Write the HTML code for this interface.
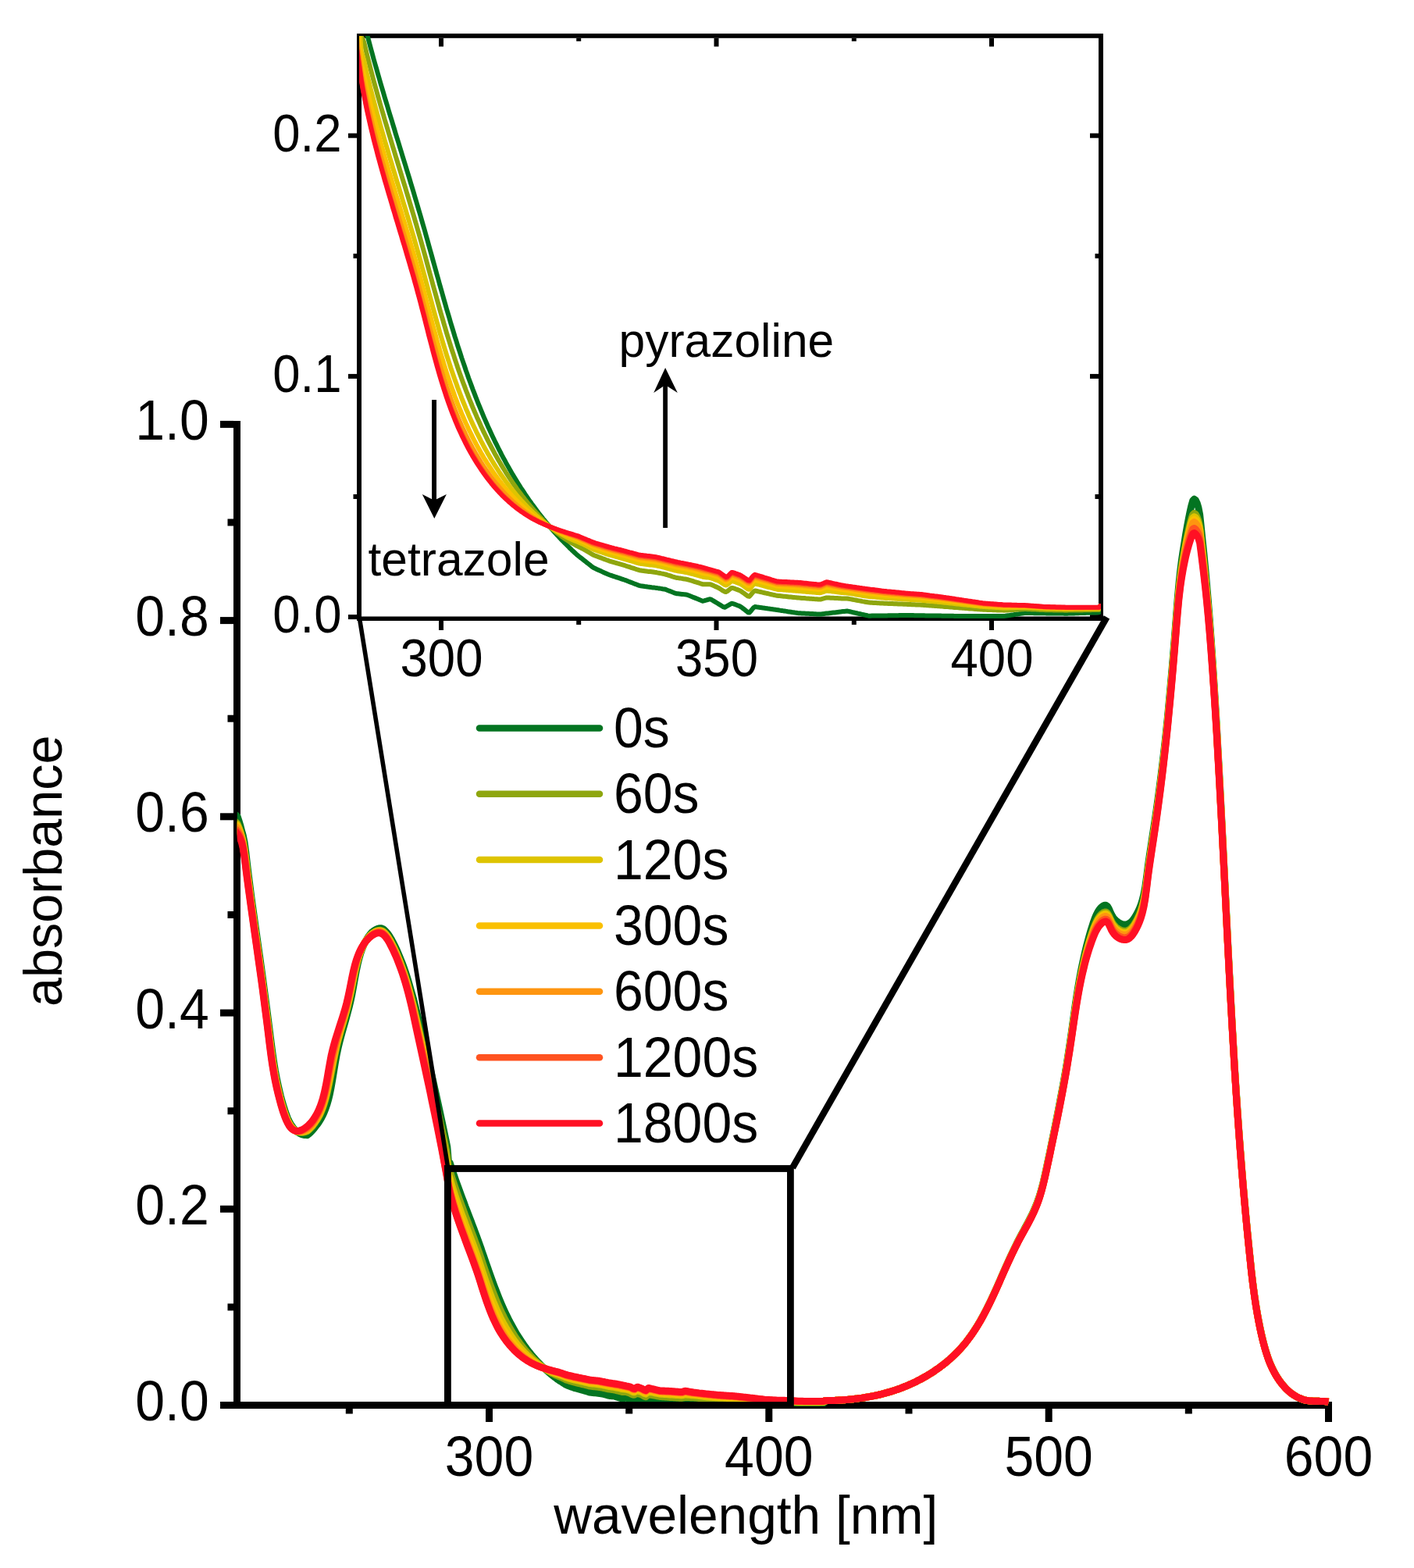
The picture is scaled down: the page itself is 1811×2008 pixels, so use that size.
<!DOCTYPE html><html><head><meta charset="utf-8"><title>absorbance spectra</title>
<style>html,body{margin:0;padding:0;background:#fff;}svg{display:block;}text{font-family:'Liberation Sans',Arial,Helvetica,sans-serif;fill:#000;}</style></head><body>
<svg width="1811" height="2008" viewBox="0 0 1811 2008">
<rect x="0" y="0" width="1811" height="2008" fill="#fff"/>
<defs><clipPath id="ic"><rect x="460" y="46" width="950" height="746"/></clipPath><clipPath id="mc"><rect x="303.8" y="0" width="1399.2" height="1801"/></clipPath></defs>
<g fill="#000"><rect x="299" y="539" width="9" height="1265"/><rect x="282" y="1795" width="1424" height="9"/><rect x="282" y="1795.0" width="17" height="9"/><rect x="282" y="1543.8" width="17" height="9"/><rect x="282" y="1292.6" width="17" height="9"/><rect x="282" y="1041.3" width="17" height="9"/><rect x="282" y="790.1" width="17" height="9"/><rect x="282" y="538.9" width="17" height="9"/><rect x="291.5" y="1669.4" width="8" height="9"/><rect x="291.5" y="1418.2" width="8" height="9"/><rect x="291.5" y="1167.0" width="8" height="9"/><rect x="291.5" y="915.7" width="8" height="9"/><rect x="291.5" y="664.5" width="8" height="9"/><rect x="622.0" y="1804" width="9" height="17"/><rect x="980.3" y="1804" width="9" height="17"/><rect x="1338.7" y="1804" width="9" height="17"/><rect x="1697.0" y="1804" width="9" height="17"/><rect x="442.8" y="1804" width="9" height="6.5"/><rect x="801.2" y="1804" width="9" height="6.5"/><rect x="1159.5" y="1804" width="9" height="6.5"/><rect x="1517.8" y="1804" width="9" height="6.5"/></g>
<g style="font-size:68px"><text transform="translate(267.8,1819.0) scale(1,1.053)" text-anchor="end">0.0</text><text transform="translate(267.8,1567.8) scale(1,1.053)" text-anchor="end">0.2</text><text transform="translate(267.8,1316.6) scale(1,1.053)" text-anchor="end">0.4</text><text transform="translate(267.8,1065.3) scale(1,1.053)" text-anchor="end">0.6</text><text transform="translate(267.8,814.1) scale(1,1.053)" text-anchor="end">0.8</text><text transform="translate(267.8,562.9) scale(1,1.053)" text-anchor="end">1.0</text><text transform="translate(626.5,1889.5) scale(1,1.053)" text-anchor="middle">300</text><text transform="translate(984.8,1889.5) scale(1,1.053)" text-anchor="middle">400</text><text transform="translate(1343.2,1889.5) scale(1,1.053)" text-anchor="middle">500</text><text transform="translate(1701.5,1889.5) scale(1,1.053)" text-anchor="middle">600</text></g>
<text x="955.3" y="1963.5" text-anchor="middle" style="font-size:67.6px">wavelength [nm]</text>
<text transform="translate(78.6,1115.3) rotate(-90) scale(1,1.035)" x="0" y="0" text-anchor="middle" style="font-size:66.5px">absorbance</text>
<g clip-path="url(#mc)"><path d="M300.4,1042.7 L302.2,1043.8 L304.0,1045.2 L305.8,1050.6 L307.6,1056.5 L309.4,1063.3 L311.2,1069.7 L313.0,1078.3 L314.8,1091.4 L316.5,1106.1 L318.3,1120.7 L320.1,1134.9 L321.9,1148.9 L323.7,1161.8 L325.5,1174.7 L327.3,1187.4 L329.1,1200.1 L330.9,1212.8 L332.7,1225.5 L334.5,1238.4 L336.3,1251.3 L338.0,1264.3 L339.8,1277.6 L341.6,1291.2 L343.4,1305.1 L345.2,1319.0 L347.0,1333.3 L348.8,1347.2 L350.6,1359.7 L352.4,1370.8 L354.2,1380.4 L356.0,1389.0 L357.8,1396.8 L359.5,1403.9 L361.3,1410.4 L363.1,1416.5 L364.9,1422.2 L366.7,1427.4 L368.5,1432.1 L370.3,1435.8 L372.1,1439.1 L373.9,1441.9 L375.7,1444.4 L377.5,1446.5 L379.3,1448.3 L381.0,1449.7 L382.8,1450.8 L384.6,1451.8 L386.4,1452.6 L388.2,1453.1 L390.0,1453.5 L391.8,1453.6 L393.6,1453.7 L395.4,1452.3 L397.2,1450.7 L399.0,1448.9 L400.8,1447.0 L402.5,1444.9 L404.3,1442.6 L406.1,1440.3 L407.9,1437.8 L409.7,1435.1 L411.5,1432.0 L413.3,1428.5 L415.1,1424.6 L416.9,1420.1 L418.7,1414.9 L420.5,1408.8 L422.3,1401.5 L424.0,1392.9 L425.8,1382.8 L427.6,1371.7 L429.4,1360.8 L431.2,1350.7 L433.0,1342.3 L434.8,1334.8 L436.6,1327.9 L438.4,1321.4 L440.2,1315.1 L442.0,1308.8 L443.8,1302.4 L445.5,1295.9 L447.3,1289.0 L449.1,1281.5 L450.9,1273.0 L452.7,1263.3 L454.5,1252.9 L456.3,1243.2 L458.1,1234.7 L459.9,1227.4 L461.7,1221.2 L463.5,1216.0 L465.3,1211.5 L467.0,1207.7 L468.8,1204.3 L470.6,1201.3 L472.4,1198.6 L474.2,1196.2 L476.0,1194.1 L477.8,1192.7 L479.6,1191.4 L481.4,1190.4 L483.2,1189.6 L485.0,1189.0 L486.8,1188.7 L488.5,1188.8 L490.3,1189.4 L492.1,1190.7 L493.9,1192.4 L495.7,1194.4 L497.5,1196.8 L499.3,1199.5 L501.1,1202.5 L502.9,1205.8 L504.7,1209.3 L506.5,1213.0 L508.3,1216.8 L510.0,1220.8 L511.8,1225.0 L513.6,1229.4 L515.4,1234.0 L517.2,1238.9 L519.0,1244.0 L520.8,1249.5 L522.6,1255.2 L524.4,1261.2 L526.2,1267.7 L528.0,1273.8 L529.8,1280.3 L531.5,1287.2 L533.3,1294.3 L535.1,1301.6 L536.9,1309.1 L538.7,1316.7 L540.5,1324.3 L542.3,1331.9 L544.1,1339.4 L545.9,1347.0 L547.7,1354.5 L549.5,1362.1 L551.3,1369.6 L553.0,1377.2 L554.8,1384.8 L556.6,1392.9 L558.4,1401.0 L560.2,1409.2 L562.0,1417.4 L563.8,1425.7 L565.6,1434.1 L567.4,1442.6 L569.2,1451.1 L571.0,1459.8 L572.8,1468.6 L574.5,1488.1 L576.3,1489.3 L578.1,1494.9 L579.9,1500.4 L581.7,1505.7 L583.5,1510.9 L585.3,1516.0 L587.1,1520.9 L588.9,1525.8 L590.7,1530.7 L592.5,1535.5 L594.3,1540.2 L596.0,1545.0 L597.8,1549.7 L599.6,1554.3 L601.4,1559.0 L603.2,1563.7 L605.0,1568.5 L606.8,1573.2 L608.6,1578.0 L610.4,1582.8 L612.2,1587.7 L614.0,1592.7 L615.8,1597.7 L617.5,1602.8 L619.3,1608.0 L621.1,1613.2 L622.9,1618.4 L624.7,1623.5 L626.5,1628.7 L628.3,1633.7 L630.1,1638.7 L631.9,1643.7 L633.7,1648.5 L635.5,1653.2 L637.2,1657.7 L639.0,1662.2 L640.8,1666.5 L642.6,1670.7 L644.4,1674.8 L646.2,1678.8 L648.0,1682.6 L649.8,1686.3 L651.6,1689.9 L653.4,1693.4 L655.2,1696.7 L657.0,1700.0 L658.7,1703.1 L660.5,1706.2 L662.3,1709.2 L664.1,1712.0 L665.9,1714.8 L667.7,1717.5 L669.5,1720.1 L671.3,1722.7 L673.1,1725.2 L674.9,1727.6 L676.7,1729.9 L678.5,1732.1 L680.2,1734.3 L682.0,1736.5 L683.8,1738.6 L685.6,1740.6 L687.4,1742.5 L689.2,1744.5 L691.0,1746.3 L692.8,1748.1 L694.6,1749.9 L696.4,1751.6 L698.2,1753.3 L700.0,1754.9 L701.7,1756.5 L703.5,1758.1 L705.3,1759.6 L707.1,1761.0 L708.9,1762.5 L710.7,1763.9 L712.5,1765.2 L714.3,1766.6 L716.1,1767.8 L717.9,1768.9 L719.7,1770.0 L721.5,1771.2 L723.2,1772.3 L725.0,1773.4 L726.8,1774.2 L728.6,1774.9 L730.4,1775.5 L732.2,1776.2 L734.0,1776.8 L735.8,1777.5 L737.6,1777.9 L739.4,1778.4 L741.2,1778.9 L743.0,1779.4 L744.7,1779.9 L746.5,1780.4 L748.3,1780.9 L750.1,1781.5 L751.9,1782.0 L753.7,1782.6 L755.5,1783.1 L757.3,1783.4 L759.1,1783.6 L760.9,1783.7 L762.7,1783.9 L764.5,1784.1 L766.2,1784.3 L768.0,1784.5 L769.8,1784.7 L771.6,1785.0 L773.4,1785.4 L775.2,1786.0 L777.0,1786.5 L778.8,1787.1 L780.6,1787.4 L782.4,1787.5 L784.2,1787.7 L786.0,1787.8 L787.7,1788.3 L789.5,1788.9 L791.3,1789.4 L793.1,1790.0 L794.9,1790.6 L796.7,1791.2 L798.5,1790.8 L800.3,1790.4 L802.1,1790.2 L803.9,1791.1 L805.7,1792.0 L807.5,1792.9 L809.2,1793.8 L811.0,1794.5 L812.8,1793.7 L814.6,1792.9 L816.4,1792.5 L818.2,1793.1 L820.0,1793.6 L821.8,1794.3 L823.6,1795.4 L825.4,1796.5 L827.2,1797.3 L829.0,1795.6 L830.7,1794.2 L832.5,1794.4 L834.3,1794.6 L836.1,1794.8 L837.9,1795.0 L839.7,1795.2 L841.5,1795.4 L843.3,1795.6 L845.1,1795.8 L846.9,1796.0 L848.7,1796.2 L850.5,1796.5 L852.2,1796.7 L854.0,1796.9 L855.8,1797.1 L857.6,1797.3 L859.4,1797.5 L861.2,1797.6 L863.0,1797.7 L864.8,1797.7 L866.6,1797.8 L868.4,1797.9 L870.2,1797.9 L872.0,1798.0 L873.7,1798.0 L875.5,1797.9 L877.3,1797.7 L879.1,1797.5 L880.9,1797.3 L882.7,1797.2 L884.5,1797.0 L886.3,1796.8 L888.1,1796.7 L889.9,1796.5 L891.7,1796.6 L893.5,1796.9 L895.2,1797.2 L897.0,1797.5 L898.8,1797.8 L900.6,1798.2 L902.4,1798.5 L904.2,1798.8 L906.0,1798.9 L907.8,1798.9 L909.6,1798.9 L911.4,1798.9 L913.2,1798.8 L915.0,1798.8 L916.7,1798.8 L918.5,1798.8 L920.3,1798.7 L922.1,1798.7 L923.9,1798.7 L925.7,1798.7 L927.5,1798.7 L929.3,1798.6 L931.1,1798.7 L932.9,1798.7 L934.7,1798.7 L936.5,1798.7 L938.2,1798.8 L940.0,1798.8 L941.8,1798.8 L943.6,1798.8 L945.4,1798.8 L947.2,1798.9 L949.0,1798.9 L950.8,1798.9 L952.6,1798.9 L954.4,1798.9 L956.2,1798.9 L958.0,1799.0 L959.7,1799.0 L961.5,1799.0 L963.3,1799.0 L965.1,1799.0 L966.9,1799.1 L968.7,1799.1 L970.5,1799.1 L972.3,1799.1 L974.1,1799.1 L975.9,1799.1 L977.7,1799.1 L979.5,1799.1 L981.2,1799.1 L983.0,1799.1 L984.8,1799.1 L986.6,1799.1 L988.4,1799.1 L990.2,1799.1 L992.0,1799.1 L993.8,1799.0 L995.6,1798.7 L997.4,1798.5 L999.2,1798.3 L1001.0,1798.1 L1002.7,1797.9 L1004.5,1797.7 L1006.3,1797.4 L1008.1,1797.4 L1009.9,1797.5 L1011.7,1797.5 L1013.5,1797.5 L1015.3,1797.5 L1017.1,1797.5 L1018.9,1797.6 L1020.7,1797.6 L1022.5,1797.6 L1024.2,1797.6 L1026.0,1797.6 L1027.8,1797.6 L1029.6,1797.7 L1031.4,1797.7 L1033.2,1797.7 L1035.0,1797.7 L1036.8,1797.6 L1038.6,1797.6 L1040.4,1797.5 L1042.2,1797.5 L1044.0,1797.4 L1045.7,1797.4 L1047.5,1797.3 L1049.3,1797.3 L1051.1,1797.2 L1052.9,1797.2 L1054.7,1797.1 L1056.5,1793.7 L1058.3,1793.7 L1060.1,1793.6 L1061.9,1793.6 L1063.7,1793.6 L1065.5,1793.5 L1067.2,1793.4 L1069.0,1793.4 L1070.8,1793.3 L1072.6,1793.2 L1074.4,1793.1 L1076.2,1793.0 L1078.0,1792.9 L1079.8,1792.8 L1081.6,1792.7 L1083.4,1792.5 L1085.2,1792.4 L1087.0,1792.2 L1088.7,1792.0 L1090.5,1791.9 L1092.3,1791.7 L1094.1,1791.5 L1095.9,1791.3 L1097.7,1791.1 L1099.5,1790.8 L1101.3,1790.6 L1103.1,1790.4 L1104.9,1790.1 L1106.7,1789.8 L1108.5,1789.5 L1110.2,1789.2 L1112.0,1788.9 L1113.8,1788.6 L1115.6,1788.3 L1117.4,1787.9 L1119.2,1787.6 L1121.0,1787.2 L1122.8,1786.8 L1124.6,1786.4 L1126.4,1786.0 L1128.2,1785.6 L1130.0,1785.1 L1131.7,1784.7 L1133.5,1784.2 L1135.3,1783.7 L1137.1,1783.2 L1138.9,1782.7 L1140.7,1782.1 L1142.5,1781.6 L1144.3,1781.0 L1146.1,1780.4 L1147.9,1779.8 L1149.7,1779.2 L1151.5,1778.5 L1153.2,1777.9 L1155.0,1777.2 L1156.8,1776.5 L1158.6,1775.8 L1160.4,1775.1 L1162.2,1774.3 L1164.0,1773.5 L1165.8,1772.8 L1167.6,1772.0 L1169.4,1771.1 L1171.2,1770.3 L1173.0,1769.4 L1174.7,1768.5 L1176.5,1767.6 L1178.3,1766.7 L1180.1,1765.7 L1181.9,1764.7 L1183.7,1763.7 L1185.5,1762.7 L1187.3,1761.7 L1189.1,1760.6 L1190.9,1759.5 L1192.7,1758.4 L1194.5,1757.2 L1196.2,1756.1 L1198.0,1754.8 L1199.8,1753.6 L1201.6,1752.3 L1203.4,1751.1 L1205.2,1749.7 L1207.0,1748.4 L1208.8,1747.0 L1210.6,1745.5 L1212.4,1744.0 L1214.2,1742.5 L1216.0,1741.0 L1217.7,1739.4 L1219.5,1737.7 L1221.3,1736.0 L1223.1,1734.3 L1224.9,1732.5 L1226.7,1730.7 L1228.5,1728.8 L1230.3,1726.8 L1232.1,1724.8 L1233.9,1722.7 L1235.7,1720.5 L1237.5,1718.3 L1239.2,1716.0 L1241.0,1713.6 L1242.8,1711.1 L1244.6,1708.6 L1246.4,1705.9 L1248.2,1703.2 L1250.0,1700.4 L1251.8,1697.5 L1253.6,1694.5 L1255.4,1691.5 L1257.2,1688.3 L1259.0,1685.0 L1260.7,1681.7 L1262.5,1678.3 L1264.3,1674.7 L1266.1,1671.1 L1267.9,1667.4 L1269.7,1663.7 L1271.5,1659.8 L1273.3,1655.9 L1275.1,1652.0 L1276.9,1648.0 L1278.7,1643.9 L1280.5,1639.9 L1282.2,1635.8 L1284.0,1631.7 L1285.8,1627.6 L1287.6,1623.6 L1289.4,1619.5 L1291.2,1615.5 L1293.0,1611.6 L1294.8,1607.7 L1296.6,1603.8 L1298.4,1600.1 L1300.2,1596.4 L1302.0,1592.8 L1303.7,1589.3 L1305.5,1585.8 L1307.3,1582.5 L1309.1,1579.1 L1310.9,1575.8 L1312.7,1572.5 L1314.5,1569.2 L1316.3,1565.8 L1318.1,1562.4 L1319.9,1558.9 L1321.7,1555.3 L1323.5,1551.5 L1325.2,1547.5 L1327.0,1543.3 L1328.8,1538.6 L1330.6,1533.5 L1332.4,1527.8 L1334.2,1521.5 L1336.0,1514.5 L1337.8,1506.9 L1339.6,1498.7 L1341.4,1490.2 L1343.2,1481.7 L1345.0,1473.2 L1346.7,1464.5 L1348.5,1455.8 L1350.3,1447.1 L1352.1,1438.2 L1353.9,1429.2 L1355.7,1420.0 L1357.5,1410.7 L1359.3,1401.2 L1361.1,1391.5 L1362.9,1381.5 L1364.7,1371.2 L1366.5,1360.5 L1368.2,1349.4 L1370.0,1337.7 L1371.8,1325.5 L1373.6,1312.6 L1375.4,1299.7 L1377.2,1287.0 L1379.0,1274.9 L1380.8,1263.7 L1382.6,1253.3 L1384.4,1243.7 L1386.2,1234.9 L1388.0,1226.7 L1389.7,1219.0 L1391.5,1211.7 L1393.3,1204.8 L1395.1,1198.3 L1396.9,1192.1 L1398.7,1186.2 L1400.5,1180.7 L1402.3,1175.8 L1404.1,1171.5 L1405.9,1167.9 L1407.7,1165.0 L1409.5,1162.8 L1411.2,1161.2 L1413.0,1160.0 L1414.8,1159.3 L1416.6,1159.3 L1418.4,1160.6 L1420.2,1163.6 L1422.0,1167.7 L1423.8,1171.6 L1425.6,1174.6 L1427.4,1177.0 L1429.2,1178.8 L1431.0,1180.3 L1432.7,1181.5 L1434.5,1182.5 L1436.3,1183.2 L1438.1,1183.8 L1439.9,1184.0 L1441.7,1184.0 L1443.5,1183.7 L1445.3,1183.0 L1447.1,1181.9 L1448.9,1180.4 L1450.7,1178.4 L1452.5,1176.1 L1454.2,1173.4 L1456.0,1170.4 L1457.8,1166.9 L1459.6,1162.9 L1461.4,1158.2 L1463.2,1152.4 L1465.0,1145.2 L1466.8,1135.6 L1468.6,1122.6 L1470.4,1108.3 L1472.2,1095.8 L1474.0,1084.2 L1475.7,1072.9 L1477.5,1061.3 L1479.3,1049.4 L1481.1,1037.1 L1482.9,1024.2 L1484.7,1010.9 L1486.5,997.1 L1488.3,982.6 L1490.1,967.6 L1491.9,951.8 L1493.7,935.1 L1495.5,917.6 L1497.2,899.2 L1499.0,879.9 L1500.8,859.6 L1502.6,838.4 L1504.4,816.2 L1506.2,792.8 L1508.0,769.3 L1509.8,748.9 L1511.6,732.0 L1513.4,717.8 L1515.2,705.7 L1517.0,694.6 L1518.7,684.0 L1520.5,673.9 L1522.3,664.4 L1524.1,655.5 L1525.9,647.5 L1527.7,641.3 L1529.5,639.2 L1531.3,640.4 L1533.1,644.1 L1534.9,650.1 L1536.7,659.4 L1538.4,675.7 L1540.2,693.1 L1542.0,710.5 L1543.8,729.0 L1545.6,748.8 L1547.4,769.9 L1549.2,792.4 L1551.0,816.7 L1552.8,842.6 L1554.6,869.8 L1556.4,898.3 L1558.2,927.9 L1559.9,958.9 L1561.7,991.4 L1563.5,1025.3 L1565.3,1060.4 L1567.1,1096.3 L1568.9,1132.8 L1570.7,1169.4 L1572.5,1205.5 L1574.3,1240.8 L1576.1,1274.9 L1577.9,1307.6 L1579.7,1338.8 L1581.4,1368.5 L1583.2,1396.6 L1585.0,1423.3 L1586.8,1448.5 L1588.6,1472.6 L1590.4,1495.4 L1592.2,1517.1 L1594.0,1537.8 L1595.8,1557.6 L1597.6,1576.5 L1599.4,1594.6 L1601.2,1612.0 L1602.9,1628.5 L1604.7,1643.6 L1606.5,1657.2 L1608.3,1669.4 L1610.1,1680.4 L1611.9,1690.3 L1613.7,1699.4 L1615.5,1707.7 L1617.3,1715.4 L1619.1,1722.4 L1620.9,1728.8 L1622.7,1734.5 L1624.4,1739.7 L1626.2,1744.4 L1628.0,1748.7 L1629.8,1752.6 L1631.6,1756.2 L1633.4,1759.5 L1635.2,1762.5 L1637.0,1765.4 L1638.8,1768.0 L1640.6,1770.5 L1642.4,1772.8 L1644.2,1774.9 L1645.9,1776.9 L1647.7,1778.8 L1649.5,1780.5 L1651.3,1782.1 L1653.1,1783.6 L1654.9,1785.0 L1656.7,1786.3 L1658.5,1787.4 L1660.3,1788.5 L1662.1,1789.4 L1663.9,1790.3 L1665.7,1791.0 L1667.4,1791.7 L1669.2,1792.3 L1671.0,1792.8 L1672.8,1793.2 L1674.6,1793.5 L1676.4,1793.8 L1678.2,1794.0 L1680.0,1794.1 L1681.8,1794.2 L1683.6,1794.3 L1685.4,1794.3 L1687.2,1794.3 L1688.9,1794.3 L1690.7,1794.4 L1692.5,1794.4 L1694.3,1794.5 L1696.1,1794.6 L1697.9,1794.7 L1699.7,1795.0 L1701.5,1795.3" fill="none" stroke="#037421" stroke-width="9" stroke-linejoin="round" stroke-linecap="butt"/><path d="M300.4,1051.5 L302.2,1052.9 L304.0,1054.6 L305.8,1058.8 L307.6,1063.7 L309.4,1069.7 L311.2,1076.5 L313.0,1086.6 L314.8,1100.0 L316.5,1114.3 L318.3,1128.3 L320.1,1142.0 L321.9,1155.5 L323.7,1168.4 L325.5,1181.2 L327.3,1194.0 L329.1,1206.7 L330.9,1219.4 L332.7,1232.2 L334.5,1245.0 L336.3,1258.0 L338.0,1271.2 L339.8,1284.6 L341.6,1298.4 L343.4,1312.5 L345.2,1326.8 L347.0,1341.0 L348.8,1354.2 L350.6,1366.1 L352.4,1376.4 L354.2,1385.6 L356.0,1393.8 L357.8,1401.2 L359.5,1408.1 L361.3,1414.4 L363.1,1420.3 L364.9,1425.7 L366.7,1430.6 L368.5,1434.8 L370.3,1438.2 L372.1,1441.2 L373.9,1443.6 L375.7,1445.6 L377.5,1447.1 L379.3,1448.3 L381.0,1449.2 L382.8,1449.7 L384.6,1450.1 L386.4,1450.2 L388.2,1450.2 L390.0,1449.9 L391.8,1449.4 L393.6,1448.8 L395.4,1447.3 L397.2,1445.6 L399.0,1443.8 L400.8,1441.7 L402.5,1439.4 L404.3,1436.8 L406.1,1434.2 L407.9,1431.2 L409.7,1427.8 L411.5,1423.9 L413.3,1419.5 L415.1,1414.3 L416.9,1408.3 L418.7,1401.3 L420.5,1393.3 L422.3,1384.8 L424.0,1375.9 L425.8,1366.8 L427.6,1357.5 L429.4,1348.5 L431.2,1340.2 L433.0,1332.9 L434.8,1326.3 L436.6,1319.9 L438.4,1313.8 L440.2,1307.7 L442.0,1301.5 L443.8,1295.1 L445.5,1288.3 L447.3,1280.8 L449.1,1272.6 L450.9,1263.8 L452.7,1254.7 L454.5,1245.7 L456.3,1237.4 L458.1,1230.4 L459.9,1224.3 L461.7,1219.1 L463.5,1214.7 L465.3,1210.9 L467.0,1207.6 L468.8,1204.7 L470.6,1202.1 L472.4,1199.8 L474.2,1197.8 L476.0,1196.0 L477.8,1194.6 L479.6,1193.5 L481.4,1192.5 L483.2,1191.8 L485.0,1191.4 L486.8,1191.3 L488.5,1191.6 L490.3,1192.4 L492.1,1193.8 L493.9,1195.6 L495.7,1197.8 L497.5,1200.4 L499.3,1203.3 L501.1,1206.5 L502.9,1210.0 L504.7,1213.6 L506.5,1217.4 L508.3,1221.4 L510.0,1225.6 L511.8,1230.0 L513.6,1234.6 L515.4,1239.5 L517.2,1244.6 L519.0,1250.0 L520.8,1255.8 L522.6,1261.9 L524.4,1268.3 L526.2,1275.1 L528.0,1282.0 L529.8,1289.1 L531.5,1296.5 L533.3,1304.1 L535.1,1311.9 L536.9,1319.7 L538.7,1327.6 L540.5,1335.5 L542.3,1343.3 L544.1,1351.2 L545.9,1359.1 L547.7,1366.9 L549.5,1374.8 L551.3,1382.7 L553.0,1390.7 L554.8,1398.7 L556.6,1406.4 L558.4,1414.1 L560.2,1421.8 L562.0,1429.6 L563.8,1437.5 L565.6,1445.5 L567.4,1453.5 L569.2,1461.6 L571.0,1470.5 L572.8,1479.7 L574.5,1496.6 L576.3,1499.6 L578.1,1505.7 L579.9,1511.4 L581.7,1517.0 L583.5,1522.3 L585.3,1527.5 L587.1,1532.5 L588.9,1537.5 L590.7,1542.4 L592.5,1547.2 L594.3,1552.0 L596.0,1556.7 L597.8,1561.4 L599.6,1566.2 L601.4,1570.9 L603.2,1575.6 L605.0,1580.4 L606.8,1585.1 L608.6,1590.0 L610.4,1594.9 L612.2,1599.9 L614.0,1605.0 L615.8,1610.2 L617.5,1615.5 L619.3,1620.7 L621.1,1626.0 L622.9,1631.2 L624.7,1636.4 L626.5,1641.4 L628.3,1646.4 L630.1,1651.2 L631.9,1655.9 L633.7,1660.5 L635.5,1664.9 L637.2,1669.2 L639.0,1673.3 L640.8,1677.3 L642.6,1681.1 L644.4,1684.8 L646.2,1688.4 L648.0,1691.9 L649.8,1695.2 L651.6,1698.4 L653.4,1701.5 L655.2,1704.5 L657.0,1707.4 L658.7,1710.2 L660.5,1712.9 L662.3,1715.5 L664.1,1718.0 L665.9,1720.5 L667.7,1722.8 L669.5,1725.1 L671.3,1727.3 L673.1,1729.5 L674.9,1731.5 L676.7,1733.5 L678.5,1735.5 L680.2,1737.3 L682.0,1739.1 L683.8,1740.9 L685.6,1742.6 L687.4,1744.2 L689.2,1745.8 L691.0,1747.4 L692.8,1748.9 L694.6,1750.4 L696.4,1751.8 L698.2,1753.1 L700.0,1754.3 L701.7,1755.5 L703.5,1756.6 L705.3,1757.7 L707.1,1758.7 L708.9,1759.6 L710.7,1760.5 L712.5,1761.4 L714.3,1762.1 L716.1,1762.9 L717.9,1763.6 L719.7,1764.3 L721.5,1765.2 L723.2,1766.0 L725.0,1766.9 L726.8,1767.5 L728.6,1768.1 L730.4,1768.6 L732.2,1769.2 L734.0,1769.7 L735.8,1770.2 L737.6,1770.6 L739.4,1771.1 L741.2,1771.5 L743.0,1771.9 L744.7,1772.3 L746.5,1772.8 L748.3,1773.2 L750.1,1773.7 L751.9,1774.2 L753.7,1774.6 L755.5,1775.1 L757.3,1775.3 L759.1,1775.5 L760.9,1775.7 L762.7,1775.9 L764.5,1776.0 L766.2,1776.2 L768.0,1776.5 L769.8,1776.8 L771.6,1777.1 L773.4,1777.5 L775.2,1777.9 L777.0,1778.4 L778.8,1778.8 L780.6,1779.1 L782.4,1779.3 L784.2,1779.6 L786.0,1779.8 L787.7,1780.2 L789.5,1780.6 L791.3,1781.0 L793.1,1781.5 L794.9,1781.9 L796.7,1782.4 L798.5,1782.5 L800.3,1782.4 L802.1,1782.5 L803.9,1783.2 L805.7,1783.8 L807.5,1784.5 L809.2,1785.4 L811.0,1786.3 L812.8,1786.0 L814.6,1784.9 L816.4,1784.4 L818.2,1784.9 L820.0,1785.4 L821.8,1786.1 L823.6,1787.1 L825.4,1788.2 L827.2,1788.8 L829.0,1787.1 L830.7,1785.8 L832.5,1786.1 L834.3,1786.4 L836.1,1786.7 L837.9,1787.1 L839.7,1787.4 L841.5,1787.7 L843.3,1788.0 L845.1,1788.4 L846.9,1788.5 L848.7,1788.7 L850.5,1788.8 L852.2,1788.9 L854.0,1789.1 L855.8,1789.2 L857.6,1789.4 L859.4,1789.5 L861.2,1789.6 L863.0,1789.7 L864.8,1789.8 L866.6,1789.9 L868.4,1790.1 L870.2,1790.2 L872.0,1790.3 L873.7,1790.2 L875.5,1789.8 L877.3,1789.5 L879.1,1789.5 L880.9,1789.6 L882.7,1789.6 L884.5,1789.7 L886.3,1789.8 L888.1,1789.8 L889.9,1789.9 L891.7,1790.0 L893.5,1790.3 L895.2,1790.5 L897.0,1790.8 L898.8,1791.1 L900.6,1791.3 L902.4,1791.6 L904.2,1791.8 L906.0,1792.0 L907.8,1792.1 L909.6,1792.1 L911.4,1792.2 L913.2,1792.3 L915.0,1792.4 L916.7,1792.5 L918.5,1792.5 L920.3,1792.6 L922.1,1792.6 L923.9,1792.7 L925.7,1792.8 L927.5,1792.8 L929.3,1792.9 L931.1,1792.9 L932.9,1793.0 L934.7,1793.1 L936.5,1793.1 L938.2,1793.2 L940.0,1793.3 L941.8,1793.4 L943.6,1793.5 L945.4,1793.6 L947.2,1793.7 L949.0,1793.8 L950.8,1793.9 L952.6,1794.0 L954.4,1794.1 L956.2,1794.2 L958.0,1794.3 L959.7,1794.5 L961.5,1794.6 L963.3,1794.7 L965.1,1794.8 L966.9,1794.9 L968.7,1795.0 L970.5,1795.1 L972.3,1795.2 L974.1,1795.3 L975.9,1795.4 L977.7,1795.6 L979.5,1795.7 L981.2,1795.7 L983.0,1795.8 L984.8,1795.8 L986.6,1795.9 L988.4,1795.9 L990.2,1796.0 L992.0,1796.0 L993.8,1796.0 L995.6,1795.9 L997.4,1795.9 L999.2,1795.8 L1001.0,1795.7 L1002.7,1795.6 L1004.5,1795.5 L1006.3,1795.4 L1008.1,1795.5 L1009.9,1795.5 L1011.7,1795.6 L1013.5,1795.6 L1015.3,1795.7 L1017.1,1795.8 L1018.9,1795.8 L1020.7,1795.9 L1022.5,1795.9 L1024.2,1795.9 L1026.0,1796.0 L1027.8,1796.0 L1029.6,1796.0 L1031.4,1796.0 L1033.2,1796.1 L1035.0,1796.1 L1036.8,1796.0 L1038.6,1796.0 L1040.4,1796.0 L1042.2,1796.0 L1044.0,1795.9 L1045.7,1795.9 L1047.5,1795.9 L1049.3,1795.9 L1051.1,1795.8 L1052.9,1795.8 L1054.7,1795.8 L1056.5,1793.7 L1058.3,1793.7 L1060.1,1793.6 L1061.9,1793.6 L1063.7,1793.6 L1065.5,1793.5 L1067.2,1793.4 L1069.0,1793.4 L1070.8,1793.3 L1072.6,1793.2 L1074.4,1793.1 L1076.2,1793.0 L1078.0,1792.9 L1079.8,1792.8 L1081.6,1792.7 L1083.4,1792.5 L1085.2,1792.4 L1087.0,1792.2 L1088.7,1792.0 L1090.5,1791.9 L1092.3,1791.7 L1094.1,1791.5 L1095.9,1791.3 L1097.7,1791.1 L1099.5,1790.8 L1101.3,1790.6 L1103.1,1790.4 L1104.9,1790.1 L1106.7,1789.8 L1108.5,1789.5 L1110.2,1789.2 L1112.0,1788.9 L1113.8,1788.6 L1115.6,1788.3 L1117.4,1787.9 L1119.2,1787.6 L1121.0,1787.2 L1122.8,1786.8 L1124.6,1786.4 L1126.4,1786.0 L1128.2,1785.6 L1130.0,1785.1 L1131.7,1784.7 L1133.5,1784.2 L1135.3,1783.7 L1137.1,1783.2 L1138.9,1782.7 L1140.7,1782.1 L1142.5,1781.6 L1144.3,1781.0 L1146.1,1780.4 L1147.9,1779.8 L1149.7,1779.2 L1151.5,1778.5 L1153.2,1777.9 L1155.0,1777.2 L1156.8,1776.5 L1158.6,1775.8 L1160.4,1775.1 L1162.2,1774.3 L1164.0,1773.5 L1165.8,1772.8 L1167.6,1772.0 L1169.4,1771.1 L1171.2,1770.3 L1173.0,1769.4 L1174.7,1768.5 L1176.5,1767.6 L1178.3,1766.7 L1180.1,1765.7 L1181.9,1764.7 L1183.7,1763.7 L1185.5,1762.7 L1187.3,1761.7 L1189.1,1760.6 L1190.9,1759.5 L1192.7,1758.4 L1194.5,1757.2 L1196.2,1756.1 L1198.0,1754.8 L1199.8,1753.6 L1201.6,1752.3 L1203.4,1751.1 L1205.2,1749.7 L1207.0,1748.4 L1208.8,1747.0 L1210.6,1745.5 L1212.4,1744.1 L1214.2,1742.6 L1216.0,1741.0 L1217.7,1739.4 L1219.5,1737.8 L1221.3,1736.1 L1223.1,1734.4 L1224.9,1732.6 L1226.7,1730.8 L1228.5,1728.9 L1230.3,1726.9 L1232.1,1724.9 L1233.9,1722.8 L1235.7,1720.7 L1237.5,1718.4 L1239.2,1716.1 L1241.0,1713.8 L1242.8,1711.3 L1244.6,1708.8 L1246.4,1706.2 L1248.2,1703.5 L1250.0,1700.7 L1251.8,1697.8 L1253.6,1694.8 L1255.4,1691.8 L1257.2,1688.6 L1259.0,1685.4 L1260.7,1682.0 L1262.5,1678.6 L1264.3,1675.1 L1266.1,1671.5 L1267.9,1667.8 L1269.7,1664.1 L1271.5,1660.3 L1273.3,1656.4 L1275.1,1652.4 L1276.9,1648.4 L1278.7,1644.4 L1280.5,1640.4 L1282.2,1636.3 L1284.0,1632.2 L1285.8,1628.2 L1287.6,1624.1 L1289.4,1620.1 L1291.2,1616.1 L1293.0,1612.2 L1294.8,1608.3 L1296.6,1604.5 L1298.4,1600.7 L1300.2,1597.1 L1302.0,1593.5 L1303.7,1590.0 L1305.5,1586.6 L1307.3,1583.2 L1309.1,1579.9 L1310.9,1576.6 L1312.7,1573.4 L1314.5,1570.1 L1316.3,1566.7 L1318.1,1563.3 L1319.9,1559.9 L1321.7,1556.3 L1323.5,1552.5 L1325.2,1548.6 L1327.0,1544.3 L1328.8,1539.7 L1330.6,1534.6 L1332.4,1529.0 L1334.2,1522.7 L1336.0,1515.8 L1337.8,1508.3 L1339.6,1500.1 L1341.4,1491.8 L1343.2,1483.3 L1345.0,1474.8 L1346.7,1466.3 L1348.5,1457.7 L1350.3,1449.0 L1352.1,1440.2 L1353.9,1431.3 L1355.7,1422.2 L1357.5,1413.0 L1359.3,1403.6 L1361.1,1394.0 L1362.9,1384.2 L1364.7,1374.0 L1366.5,1363.5 L1368.2,1352.5 L1370.0,1341.1 L1371.8,1329.0 L1373.6,1316.4 L1375.4,1303.7 L1377.2,1291.2 L1379.0,1279.4 L1380.8,1268.4 L1382.6,1258.3 L1384.4,1249.0 L1386.2,1240.4 L1388.0,1232.5 L1389.7,1225.0 L1391.5,1218.1 L1393.3,1211.5 L1395.1,1205.3 L1396.9,1199.5 L1398.7,1193.9 L1400.5,1188.7 L1402.3,1184.1 L1404.1,1180.1 L1405.9,1176.7 L1407.7,1173.9 L1409.5,1171.7 L1411.2,1170.1 L1413.0,1168.8 L1414.8,1168.1 L1416.6,1168.0 L1418.4,1169.2 L1420.2,1172.2 L1422.0,1176.2 L1423.8,1180.0 L1425.6,1183.0 L1427.4,1185.3 L1429.2,1187.1 L1431.0,1188.6 L1432.7,1189.8 L1434.5,1190.8 L1436.3,1191.5 L1438.1,1192.0 L1439.9,1192.2 L1441.7,1192.2 L1443.5,1191.8 L1445.3,1191.1 L1447.1,1189.9 L1448.9,1188.3 L1450.7,1186.3 L1452.5,1183.8 L1454.2,1181.0 L1456.0,1177.9 L1457.8,1174.3 L1459.6,1170.2 L1461.4,1165.3 L1463.2,1159.4 L1465.0,1151.9 L1466.8,1142.0 L1468.6,1128.8 L1470.4,1114.3 L1472.2,1101.5 L1474.0,1089.7 L1475.7,1078.3 L1477.5,1066.8 L1479.3,1054.8 L1481.1,1042.4 L1482.9,1029.6 L1484.7,1016.2 L1486.5,1002.3 L1488.3,987.9 L1490.1,972.8 L1491.9,957.0 L1493.7,940.5 L1495.5,923.1 L1497.2,904.9 L1499.0,885.8 L1500.8,865.8 L1502.6,844.8 L1504.4,822.9 L1506.2,799.9 L1508.0,776.9 L1509.8,757.0 L1511.6,740.7 L1513.4,727.2 L1515.2,715.7 L1517.0,705.5 L1518.7,696.0 L1520.5,687.2 L1522.3,678.9 L1524.1,671.3 L1525.9,664.3 L1527.7,659.0 L1529.5,657.4 L1531.3,658.6 L1533.1,661.7 L1534.9,666.6 L1536.7,674.6 L1538.4,689.5 L1540.2,705.7 L1542.0,722.0 L1543.8,739.4 L1545.6,758.1 L1547.4,778.3 L1549.2,800.0 L1551.0,823.6 L1552.8,848.8 L1554.6,875.4 L1556.4,903.3 L1558.2,932.5 L1559.9,963.2 L1561.7,995.4 L1563.5,1028.9 L1565.3,1063.7 L1567.1,1099.4 L1568.9,1135.6 L1570.7,1172.0 L1572.5,1207.9 L1574.3,1243.0 L1576.1,1277.0 L1577.9,1309.6 L1579.7,1340.7 L1581.4,1370.2 L1583.2,1398.2 L1585.0,1424.8 L1586.8,1450.0 L1588.6,1473.9 L1590.4,1496.7 L1592.2,1518.3 L1594.0,1538.9 L1595.8,1558.6 L1597.6,1577.5 L1599.4,1595.6 L1601.2,1612.9 L1602.9,1629.4 L1604.7,1644.4 L1606.5,1657.9 L1608.3,1670.1 L1610.1,1681.0 L1611.9,1690.9 L1613.7,1700.0 L1615.5,1708.3 L1617.3,1715.9 L1619.1,1722.9 L1620.9,1729.2 L1622.7,1734.9 L1624.4,1740.1 L1626.2,1744.8 L1628.0,1749.0 L1629.8,1752.9 L1631.6,1756.5 L1633.4,1759.7 L1635.2,1762.8 L1637.0,1765.6 L1638.8,1768.2 L1640.6,1770.6 L1642.4,1772.9 L1644.2,1775.0 L1645.9,1777.0 L1647.7,1778.9 L1649.5,1780.6 L1651.3,1782.2 L1653.1,1783.7 L1654.9,1785.0 L1656.7,1786.3 L1658.5,1787.4 L1660.3,1788.5 L1662.1,1789.4 L1663.9,1790.3 L1665.7,1791.0 L1667.4,1791.7 L1669.2,1792.3 L1671.0,1792.8 L1672.8,1793.2 L1674.6,1793.5 L1676.4,1793.8 L1678.2,1794.0 L1680.0,1794.1 L1681.8,1794.2 L1683.6,1794.3 L1685.4,1794.3 L1687.2,1794.3 L1688.9,1794.3 L1690.7,1794.4 L1692.5,1794.4 L1694.3,1794.5 L1696.1,1794.6 L1697.9,1794.7 L1699.7,1795.0 L1701.5,1795.3" fill="none" stroke="#8ea60e" stroke-width="9" stroke-linejoin="round" stroke-linecap="butt"/><path d="M300.4,1053.6 L302.2,1055.0 L304.0,1056.8 L305.8,1060.8 L307.6,1065.5 L309.4,1071.2 L311.2,1078.2 L313.0,1088.6 L314.8,1102.1 L316.5,1116.2 L318.3,1130.1 L320.1,1143.7 L321.9,1157.1 L323.7,1170.0 L325.5,1182.8 L327.3,1195.5 L329.1,1208.2 L330.9,1221.0 L332.7,1233.7 L334.5,1246.6 L336.3,1259.6 L338.0,1272.8 L339.8,1286.3 L341.6,1300.1 L343.4,1314.3 L345.2,1328.6 L347.0,1342.8 L348.8,1355.9 L350.6,1367.6 L352.4,1377.8 L354.2,1386.8 L356.0,1394.9 L357.8,1402.3 L359.5,1409.1 L361.3,1415.4 L363.1,1421.2 L364.9,1426.6 L366.7,1431.3 L368.5,1435.5 L370.3,1438.8 L372.1,1441.7 L373.9,1444.0 L375.7,1445.9 L377.5,1447.3 L379.3,1448.3 L381.0,1449.1 L382.8,1449.5 L384.6,1449.7 L386.4,1449.7 L388.2,1449.4 L390.0,1449.0 L391.8,1448.4 L393.6,1447.7 L395.4,1446.2 L397.2,1444.4 L399.0,1442.5 L400.8,1440.4 L402.5,1438.1 L404.3,1435.5 L406.1,1432.7 L407.9,1429.6 L409.7,1426.1 L411.5,1422.0 L413.3,1417.3 L415.1,1411.9 L416.9,1405.5 L418.7,1398.0 L420.5,1389.7 L422.3,1380.8 L424.0,1371.9 L425.8,1363.0 L427.6,1354.1 L429.4,1345.6 L431.2,1337.7 L433.0,1330.7 L434.8,1324.2 L436.6,1318.0 L438.4,1312.0 L440.2,1305.9 L442.0,1299.8 L443.8,1293.3 L445.5,1286.4 L447.3,1278.8 L449.1,1270.5 L450.9,1261.7 L452.7,1252.6 L454.5,1243.9 L456.3,1236.1 L458.1,1229.3 L459.9,1223.5 L461.7,1218.6 L463.5,1214.4 L465.3,1210.7 L467.0,1207.6 L468.8,1204.8 L470.6,1202.3 L472.4,1200.1 L474.2,1198.2 L476.0,1196.4 L477.8,1195.1 L479.6,1194.0 L481.4,1193.0 L483.2,1192.4 L485.0,1192.0 L486.8,1191.9 L488.5,1192.3 L490.3,1193.1 L492.1,1194.5 L493.9,1196.4 L495.7,1198.6 L497.5,1201.3 L499.3,1204.2 L501.1,1207.5 L502.9,1211.0 L504.7,1214.6 L506.5,1218.5 L508.3,1222.5 L510.0,1226.7 L511.8,1231.2 L513.6,1235.8 L515.4,1240.7 L517.2,1245.9 L519.0,1251.4 L520.8,1257.3 L522.6,1263.5 L524.4,1270.0 L526.2,1276.9 L528.0,1283.9 L529.8,1291.2 L531.5,1298.7 L533.3,1306.5 L535.1,1314.3 L536.9,1322.2 L538.7,1330.2 L540.5,1338.1 L542.3,1346.1 L544.1,1354.0 L545.9,1361.9 L547.7,1369.9 L549.5,1377.9 L551.3,1385.9 L553.0,1393.9 L554.8,1402.0 L556.6,1410.3 L558.4,1418.8 L560.2,1427.3 L562.0,1435.8 L563.8,1444.5 L565.6,1453.3 L567.4,1462.2 L569.2,1471.3 L571.0,1480.5 L572.8,1489.9 L574.5,1504.4 L576.3,1509.2 L578.1,1515.6 L579.9,1521.7 L581.7,1527.4 L583.5,1532.8 L585.3,1538.1 L587.1,1543.2 L588.9,1548.3 L590.7,1553.2 L592.5,1558.0 L594.3,1562.8 L596.0,1567.6 L597.8,1572.3 L599.6,1577.1 L601.4,1581.8 L603.2,1586.6 L605.0,1591.4 L606.8,1596.2 L608.6,1601.1 L610.4,1606.1 L612.2,1611.2 L614.0,1616.4 L615.8,1621.8 L617.5,1627.2 L619.3,1632.5 L621.1,1637.9 L622.9,1643.1 L624.7,1648.3 L626.5,1653.3 L628.3,1658.1 L630.1,1662.8 L631.9,1667.3 L633.7,1671.6 L635.5,1675.7 L637.2,1679.7 L639.0,1683.5 L640.8,1687.2 L642.6,1690.7 L644.4,1694.1 L646.2,1697.3 L648.0,1700.4 L649.8,1703.4 L651.6,1706.3 L653.4,1709.1 L655.2,1711.7 L657.0,1714.3 L658.7,1716.8 L660.5,1719.1 L662.3,1721.4 L664.1,1723.6 L665.9,1725.7 L667.7,1727.8 L669.5,1729.7 L671.3,1731.6 L673.1,1733.4 L674.9,1735.2 L676.7,1736.9 L678.5,1738.5 L680.2,1740.1 L682.0,1741.6 L683.8,1743.0 L685.6,1744.4 L687.4,1745.8 L689.2,1747.1 L691.0,1748.4 L692.8,1749.6 L694.6,1750.8 L696.4,1751.9 L698.2,1752.9 L700.0,1753.9 L701.7,1754.8 L703.5,1755.7 L705.3,1756.5 L707.1,1757.3 L708.9,1758.0 L710.7,1758.7 L712.5,1759.4 L714.3,1760.0 L716.1,1760.5 L717.9,1761.2 L719.7,1761.8 L721.5,1762.5 L723.2,1763.3 L725.0,1764.0 L726.8,1764.6 L728.6,1765.1 L730.4,1765.6 L732.2,1766.1 L734.0,1766.6 L735.8,1767.0 L737.6,1767.4 L739.4,1767.8 L741.2,1768.2 L743.0,1768.6 L744.7,1769.0 L746.5,1769.4 L748.3,1769.8 L750.1,1770.3 L751.9,1770.7 L753.7,1771.1 L755.5,1771.6 L757.3,1771.8 L759.1,1772.0 L760.9,1772.1 L762.7,1772.3 L764.5,1772.5 L766.2,1772.7 L768.0,1773.0 L769.8,1773.3 L771.6,1773.6 L773.4,1774.0 L775.2,1774.4 L777.0,1774.8 L778.8,1775.2 L780.6,1775.5 L782.4,1775.7 L784.2,1776.0 L786.0,1776.2 L787.7,1776.6 L789.5,1777.0 L791.3,1777.3 L793.1,1777.7 L794.9,1778.1 L796.7,1778.6 L798.5,1778.8 L800.3,1778.9 L802.1,1779.2 L803.9,1779.7 L805.7,1780.2 L807.5,1780.8 L809.2,1781.8 L811.0,1782.7 L812.8,1782.7 L814.6,1781.4 L816.4,1780.8 L818.2,1781.3 L820.0,1781.8 L821.8,1782.5 L823.6,1783.5 L825.4,1784.5 L827.2,1785.1 L829.0,1783.4 L830.7,1782.1 L832.5,1782.5 L834.3,1782.8 L836.1,1783.2 L837.9,1783.6 L839.7,1784.0 L841.5,1784.3 L843.3,1784.7 L845.1,1785.1 L846.9,1785.2 L848.7,1785.3 L850.5,1785.4 L852.2,1785.5 L854.0,1785.6 L855.8,1785.8 L857.6,1785.9 L859.4,1786.0 L861.2,1786.1 L863.0,1786.2 L864.8,1786.4 L866.6,1786.5 L868.4,1786.6 L870.2,1786.7 L872.0,1786.9 L873.7,1786.8 L875.5,1786.3 L877.3,1785.8 L879.1,1786.0 L880.9,1786.2 L882.7,1786.3 L884.5,1786.5 L886.3,1786.7 L888.1,1786.8 L889.9,1786.9 L891.7,1787.1 L893.5,1787.4 L895.2,1787.6 L897.0,1787.8 L898.8,1788.1 L900.6,1788.3 L902.4,1788.6 L904.2,1788.8 L906.0,1788.9 L907.8,1789.1 L909.6,1789.2 L911.4,1789.3 L913.2,1789.4 L915.0,1789.6 L916.7,1789.7 L918.5,1789.8 L920.3,1789.9 L922.1,1790.0 L923.9,1790.0 L925.7,1790.1 L927.5,1790.2 L929.3,1790.3 L931.1,1790.4 L932.9,1790.5 L934.7,1790.6 L936.5,1790.7 L938.2,1790.7 L940.0,1790.9 L941.8,1791.0 L943.6,1791.1 L945.4,1791.3 L947.2,1791.4 L949.0,1791.5 L950.8,1791.7 L952.6,1791.8 L954.4,1792.0 L956.2,1792.1 L958.0,1792.3 L959.7,1792.5 L961.5,1792.6 L963.3,1792.8 L965.1,1792.9 L966.9,1793.1 L968.7,1793.2 L970.5,1793.4 L972.3,1793.6 L974.1,1793.7 L975.9,1793.9 L977.7,1794.0 L979.5,1794.2 L981.2,1794.3 L983.0,1794.3 L984.8,1794.4 L986.6,1794.5 L988.4,1794.6 L990.2,1794.6 L992.0,1794.7 L993.8,1794.8 L995.6,1794.7 L997.4,1794.7 L999.2,1794.7 L1001.0,1794.6 L1002.7,1794.6 L1004.5,1794.6 L1006.3,1794.5 L1008.1,1794.6 L1009.9,1794.7 L1011.7,1794.8 L1013.5,1794.8 L1015.3,1794.9 L1017.1,1795.0 L1018.9,1795.1 L1020.7,1795.1 L1022.5,1795.2 L1024.2,1795.2 L1026.0,1795.2 L1027.8,1795.3 L1029.6,1795.3 L1031.4,1795.3 L1033.2,1795.4 L1035.0,1795.3 L1036.8,1795.3 L1038.6,1795.3 L1040.4,1795.3 L1042.2,1795.3 L1044.0,1795.3 L1045.7,1795.3 L1047.5,1795.3 L1049.3,1795.2 L1051.1,1795.2 L1052.9,1795.2 L1054.7,1795.2 L1056.5,1793.7 L1058.3,1793.7 L1060.1,1793.6 L1061.9,1793.6 L1063.7,1793.6 L1065.5,1793.5 L1067.2,1793.4 L1069.0,1793.4 L1070.8,1793.3 L1072.6,1793.2 L1074.4,1793.1 L1076.2,1793.0 L1078.0,1792.9 L1079.8,1792.8 L1081.6,1792.7 L1083.4,1792.5 L1085.2,1792.4 L1087.0,1792.2 L1088.7,1792.0 L1090.5,1791.9 L1092.3,1791.7 L1094.1,1791.5 L1095.9,1791.3 L1097.7,1791.1 L1099.5,1790.8 L1101.3,1790.6 L1103.1,1790.4 L1104.9,1790.1 L1106.7,1789.8 L1108.5,1789.5 L1110.2,1789.2 L1112.0,1788.9 L1113.8,1788.6 L1115.6,1788.3 L1117.4,1787.9 L1119.2,1787.6 L1121.0,1787.2 L1122.8,1786.8 L1124.6,1786.4 L1126.4,1786.0 L1128.2,1785.6 L1130.0,1785.1 L1131.7,1784.7 L1133.5,1784.2 L1135.3,1783.7 L1137.1,1783.2 L1138.9,1782.7 L1140.7,1782.1 L1142.5,1781.6 L1144.3,1781.0 L1146.1,1780.4 L1147.9,1779.8 L1149.7,1779.2 L1151.5,1778.5 L1153.2,1777.9 L1155.0,1777.2 L1156.8,1776.5 L1158.6,1775.8 L1160.4,1775.1 L1162.2,1774.3 L1164.0,1773.5 L1165.8,1772.8 L1167.6,1772.0 L1169.4,1771.1 L1171.2,1770.3 L1173.0,1769.4 L1174.7,1768.5 L1176.5,1767.6 L1178.3,1766.7 L1180.1,1765.7 L1181.9,1764.7 L1183.7,1763.7 L1185.5,1762.7 L1187.3,1761.7 L1189.1,1760.6 L1190.9,1759.5 L1192.7,1758.4 L1194.5,1757.2 L1196.2,1756.1 L1198.0,1754.8 L1199.8,1753.6 L1201.6,1752.3 L1203.4,1751.1 L1205.2,1749.7 L1207.0,1748.4 L1208.8,1747.0 L1210.6,1745.5 L1212.4,1744.1 L1214.2,1742.6 L1216.0,1741.0 L1217.7,1739.4 L1219.5,1737.8 L1221.3,1736.1 L1223.1,1734.4 L1224.9,1732.6 L1226.7,1730.8 L1228.5,1728.9 L1230.3,1726.9 L1232.1,1724.9 L1233.9,1722.9 L1235.7,1720.7 L1237.5,1718.5 L1239.2,1716.2 L1241.0,1713.8 L1242.8,1711.4 L1244.6,1708.8 L1246.4,1706.2 L1248.2,1703.5 L1250.0,1700.7 L1251.8,1697.9 L1253.6,1694.9 L1255.4,1691.8 L1257.2,1688.7 L1259.0,1685.4 L1260.7,1682.1 L1262.5,1678.7 L1264.3,1675.2 L1266.1,1671.6 L1267.9,1667.9 L1269.7,1664.2 L1271.5,1660.4 L1273.3,1656.5 L1275.1,1652.5 L1276.9,1648.6 L1278.7,1644.5 L1280.5,1640.5 L1282.2,1636.4 L1284.0,1632.4 L1285.8,1628.3 L1287.6,1624.2 L1289.4,1620.2 L1291.2,1616.2 L1293.0,1612.3 L1294.8,1608.4 L1296.6,1604.6 L1298.4,1600.9 L1300.2,1597.2 L1302.0,1593.7 L1303.7,1590.2 L1305.5,1586.8 L1307.3,1583.4 L1309.1,1580.1 L1310.9,1576.8 L1312.7,1573.6 L1314.5,1570.3 L1316.3,1566.9 L1318.1,1563.6 L1319.9,1560.1 L1321.7,1556.5 L1323.5,1552.8 L1325.2,1548.8 L1327.0,1544.6 L1328.8,1540.0 L1330.6,1534.9 L1332.4,1529.3 L1334.2,1523.0 L1336.0,1516.1 L1337.8,1508.6 L1339.6,1500.5 L1341.4,1492.1 L1343.2,1483.7 L1345.0,1475.2 L1346.7,1466.7 L1348.5,1458.1 L1350.3,1449.4 L1352.1,1440.6 L1353.9,1431.8 L1355.7,1422.7 L1357.5,1413.5 L1359.3,1404.2 L1361.1,1394.6 L1362.9,1384.8 L1364.7,1374.6 L1366.5,1364.2 L1368.2,1353.3 L1370.0,1341.9 L1371.8,1329.8 L1373.6,1317.3 L1375.4,1304.6 L1377.2,1292.3 L1379.0,1280.5 L1380.8,1269.6 L1382.6,1259.5 L1384.4,1250.2 L1386.2,1241.7 L1388.0,1233.8 L1389.7,1226.5 L1391.5,1219.6 L1393.3,1213.1 L1395.1,1207.0 L1396.9,1201.2 L1398.7,1195.8 L1400.5,1190.7 L1402.3,1186.1 L1404.1,1182.1 L1405.9,1178.8 L1407.7,1176.0 L1409.5,1173.8 L1411.2,1172.2 L1413.0,1170.9 L1414.8,1170.2 L1416.6,1170.1 L1418.4,1171.3 L1420.2,1174.3 L1422.0,1178.2 L1423.8,1182.0 L1425.6,1185.0 L1427.4,1187.3 L1429.2,1189.1 L1431.0,1190.6 L1432.7,1191.8 L1434.5,1192.7 L1436.3,1193.5 L1438.1,1194.0 L1439.9,1194.2 L1441.7,1194.2 L1443.5,1193.8 L1445.3,1193.0 L1447.1,1191.8 L1448.9,1190.2 L1450.7,1188.2 L1452.5,1185.7 L1454.2,1182.9 L1456.0,1179.7 L1457.8,1176.1 L1459.6,1171.9 L1461.4,1167.0 L1463.2,1161.0 L1465.0,1153.5 L1466.8,1143.6 L1468.6,1130.3 L1470.4,1115.7 L1472.2,1102.8 L1474.0,1091.1 L1475.7,1079.6 L1477.5,1068.0 L1479.3,1056.1 L1481.1,1043.7 L1482.9,1030.8 L1484.7,1017.5 L1486.5,1003.6 L1488.3,989.1 L1490.1,974.1 L1491.9,958.3 L1493.7,941.8 L1495.5,924.5 L1497.2,906.3 L1499.0,887.2 L1500.8,867.3 L1502.6,846.4 L1504.4,824.5 L1506.2,801.6 L1508.0,778.7 L1509.8,758.9 L1511.6,742.8 L1513.4,729.5 L1515.2,718.1 L1517.0,708.1 L1518.7,698.9 L1520.5,690.3 L1522.3,682.4 L1524.1,675.0 L1525.9,668.3 L1527.7,663.2 L1529.5,661.8 L1531.3,662.9 L1533.1,665.9 L1534.9,670.6 L1536.7,678.2 L1538.4,692.8 L1540.2,708.7 L1542.0,724.7 L1543.8,741.9 L1545.6,760.4 L1547.4,780.3 L1549.2,801.8 L1551.0,825.2 L1552.8,850.3 L1554.6,876.7 L1556.4,904.5 L1558.2,933.6 L1559.9,964.2 L1561.7,996.3 L1563.5,1029.8 L1565.3,1064.5 L1567.1,1100.1 L1568.9,1136.3 L1570.7,1172.6 L1572.5,1208.5 L1574.3,1243.6 L1576.1,1277.5 L1577.9,1310.1 L1579.7,1341.1 L1581.4,1370.6 L1583.2,1398.6 L1585.0,1425.2 L1586.8,1450.4 L1588.6,1474.3 L1590.4,1497.0 L1592.2,1518.6 L1594.0,1539.2 L1595.8,1558.9 L1597.6,1577.7 L1599.4,1595.8 L1601.2,1613.1 L1602.9,1629.6 L1604.7,1644.6 L1606.5,1658.1 L1608.3,1670.3 L1610.1,1681.2 L1611.9,1691.1 L1613.7,1700.1 L1615.5,1708.4 L1617.3,1716.1 L1619.1,1723.0 L1620.9,1729.4 L1622.7,1735.0 L1624.4,1740.2 L1626.2,1744.8 L1628.0,1749.1 L1629.8,1753.0 L1631.6,1756.5 L1633.4,1759.8 L1635.2,1762.8 L1637.0,1765.6 L1638.8,1768.2 L1640.6,1770.7 L1642.4,1772.9 L1644.2,1775.1 L1645.9,1777.0 L1647.7,1778.9 L1649.5,1780.6 L1651.3,1782.2 L1653.1,1783.7 L1654.9,1785.0 L1656.7,1786.3 L1658.5,1787.4 L1660.3,1788.5 L1662.1,1789.4 L1663.9,1790.3 L1665.7,1791.0 L1667.4,1791.7 L1669.2,1792.3 L1671.0,1792.8 L1672.8,1793.2 L1674.6,1793.5 L1676.4,1793.8 L1678.2,1794.0 L1680.0,1794.1 L1681.8,1794.2 L1683.6,1794.3 L1685.4,1794.3 L1687.2,1794.3 L1688.9,1794.3 L1690.7,1794.4 L1692.5,1794.4 L1694.3,1794.5 L1696.1,1794.6 L1697.9,1794.7 L1699.7,1795.0 L1701.5,1795.3" fill="none" stroke="#dec400" stroke-width="9" stroke-linejoin="round" stroke-linecap="butt"/><path d="M300.4,1055.2 L302.2,1056.7 L304.0,1058.6 L305.8,1062.4 L307.6,1066.8 L309.4,1072.5 L311.2,1079.5 L313.0,1090.1 L314.8,1103.7 L316.5,1117.7 L318.3,1131.5 L320.1,1145.1 L321.9,1158.4 L323.7,1171.3 L325.5,1184.0 L327.3,1196.8 L329.1,1209.5 L330.9,1222.2 L332.7,1235.0 L334.5,1247.9 L336.3,1260.9 L338.0,1274.1 L339.8,1287.6 L341.6,1301.4 L343.4,1315.7 L345.2,1330.1 L347.0,1344.2 L348.8,1357.2 L350.6,1368.8 L352.4,1378.9 L354.2,1387.8 L356.0,1395.9 L357.8,1403.2 L359.5,1409.9 L361.3,1416.1 L363.1,1421.9 L364.9,1427.2 L366.7,1431.9 L368.5,1436.0 L370.3,1439.3 L372.1,1442.1 L373.9,1444.3 L375.7,1446.1 L377.5,1447.4 L379.3,1448.4 L381.0,1449.0 L382.8,1449.3 L384.6,1449.4 L386.4,1449.2 L388.2,1448.9 L390.0,1448.4 L391.8,1447.6 L393.6,1446.8 L395.4,1445.2 L397.2,1443.5 L399.0,1441.6 L400.8,1439.4 L402.5,1437.0 L404.3,1434.4 L406.1,1431.5 L407.9,1428.3 L409.7,1424.7 L411.5,1420.5 L413.3,1415.6 L415.1,1409.9 L416.9,1403.2 L418.7,1395.4 L420.5,1386.7 L422.3,1377.6 L424.0,1368.7 L425.8,1360.0 L427.6,1351.4 L429.4,1343.3 L431.2,1335.7 L433.0,1328.9 L434.8,1322.6 L436.6,1316.5 L438.4,1310.5 L440.2,1304.5 L442.0,1298.4 L443.8,1291.9 L445.5,1285.0 L447.3,1277.2 L449.1,1268.8 L450.9,1259.9 L452.7,1251.0 L454.5,1242.5 L456.3,1235.0 L458.1,1228.5 L459.9,1222.9 L461.7,1218.2 L463.5,1214.1 L465.3,1210.6 L467.0,1207.6 L468.8,1204.9 L470.6,1202.5 L472.4,1200.3 L474.2,1198.4 L476.0,1196.8 L477.8,1195.5 L479.6,1194.4 L481.4,1193.5 L483.2,1192.8 L485.0,1192.4 L486.8,1192.4 L488.5,1192.8 L490.3,1193.7 L492.1,1195.1 L493.9,1197.0 L495.7,1199.3 L497.5,1201.9 L499.3,1205.0 L501.1,1208.3 L502.9,1211.8 L504.7,1215.4 L506.5,1219.3 L508.3,1223.4 L510.0,1227.6 L511.8,1232.1 L513.6,1236.8 L515.4,1241.8 L517.2,1247.0 L519.0,1252.6 L520.8,1258.5 L522.6,1264.7 L524.4,1271.3 L526.2,1278.3 L528.0,1285.4 L529.8,1292.9 L531.5,1300.5 L533.3,1308.4 L535.1,1316.3 L536.9,1324.3 L538.7,1332.3 L540.5,1340.2 L542.3,1348.2 L544.1,1356.2 L545.9,1364.2 L547.7,1372.2 L549.5,1380.3 L551.3,1388.4 L553.0,1396.5 L554.8,1404.6 L556.6,1413.5 L558.4,1422.5 L560.2,1431.6 L562.0,1440.8 L563.8,1450.1 L565.6,1459.6 L567.4,1469.2 L569.2,1479.0 L571.0,1488.4 L572.8,1498.0 L574.5,1510.7 L576.3,1516.9 L578.1,1523.6 L579.9,1529.8 L581.7,1535.7 L583.5,1541.3 L585.3,1546.6 L587.1,1551.8 L588.9,1556.9 L590.7,1561.8 L592.5,1566.7 L594.3,1571.5 L596.0,1576.3 L597.8,1581.1 L599.6,1585.8 L601.4,1590.6 L603.2,1595.4 L605.0,1600.2 L606.8,1605.0 L608.6,1610.0 L610.4,1615.1 L612.2,1620.3 L614.0,1625.6 L615.8,1631.0 L617.5,1636.5 L619.3,1642.0 L621.1,1647.4 L622.9,1652.7 L624.7,1657.8 L626.5,1662.7 L628.3,1667.5 L630.1,1672.0 L631.9,1676.3 L633.7,1680.5 L635.5,1684.4 L637.2,1688.2 L639.0,1691.7 L640.8,1695.1 L642.6,1698.4 L644.4,1701.5 L646.2,1704.5 L648.0,1707.3 L649.8,1710.0 L651.6,1712.6 L653.4,1715.1 L655.2,1717.5 L657.0,1719.8 L658.7,1722.0 L660.5,1724.1 L662.3,1726.1 L664.1,1728.1 L665.9,1729.9 L667.7,1731.7 L669.5,1733.4 L671.3,1735.1 L673.1,1736.6 L674.9,1738.1 L676.7,1739.6 L678.5,1741.0 L680.2,1742.3 L682.0,1743.6 L683.8,1744.8 L685.6,1745.9 L687.4,1747.1 L689.2,1748.1 L691.0,1749.1 L692.8,1750.1 L694.6,1751.1 L696.4,1752.0 L698.2,1752.8 L700.0,1753.6 L701.7,1754.4 L703.5,1755.1 L705.3,1755.8 L707.1,1756.4 L708.9,1757.1 L710.7,1757.6 L712.5,1758.2 L714.3,1758.7 L716.1,1759.3 L717.9,1759.9 L719.7,1760.5 L721.5,1761.2 L723.2,1761.9 L725.0,1762.6 L726.8,1763.1 L728.6,1763.6 L730.4,1764.1 L732.2,1764.5 L734.0,1765.0 L735.8,1765.4 L737.6,1765.8 L739.4,1766.2 L741.2,1766.6 L743.0,1767.0 L744.7,1767.4 L746.5,1767.7 L748.3,1768.2 L750.1,1768.6 L751.9,1769.0 L753.7,1769.4 L755.5,1769.8 L757.3,1770.0 L759.1,1770.2 L760.9,1770.4 L762.7,1770.5 L764.5,1770.7 L766.2,1770.9 L768.0,1771.2 L769.8,1771.5 L771.6,1771.9 L773.4,1772.2 L775.2,1772.6 L777.0,1773.0 L778.8,1773.4 L780.6,1773.7 L782.4,1774.0 L784.2,1774.2 L786.0,1774.5 L787.7,1774.8 L789.5,1775.1 L791.3,1775.5 L793.1,1775.8 L794.9,1776.2 L796.7,1776.6 L798.5,1776.9 L800.3,1777.2 L802.1,1777.5 L803.9,1777.9 L805.7,1778.4 L807.5,1778.9 L809.2,1779.9 L811.0,1780.9 L812.8,1781.0 L814.6,1779.7 L816.4,1779.0 L818.2,1779.5 L820.0,1780.1 L821.8,1780.7 L823.6,1781.7 L825.4,1782.7 L827.2,1783.3 L829.0,1781.5 L830.7,1780.2 L832.5,1780.6 L834.3,1781.0 L836.1,1781.4 L837.9,1781.8 L839.7,1782.2 L841.5,1782.6 L843.3,1783.0 L845.1,1783.4 L846.9,1783.5 L848.7,1783.6 L850.5,1783.7 L852.2,1783.8 L854.0,1783.9 L855.8,1784.0 L857.6,1784.1 L859.4,1784.2 L861.2,1784.4 L863.0,1784.5 L864.8,1784.6 L866.6,1784.8 L868.4,1784.9 L870.2,1785.0 L872.0,1785.2 L873.7,1785.1 L875.5,1784.6 L877.3,1784.0 L879.1,1784.2 L880.9,1784.4 L882.7,1784.7 L884.5,1784.9 L886.3,1785.1 L888.1,1785.3 L889.9,1785.5 L891.7,1785.7 L893.5,1785.9 L895.2,1786.1 L897.0,1786.4 L898.8,1786.6 L900.6,1786.8 L902.4,1787.0 L904.2,1787.2 L906.0,1787.4 L907.8,1787.6 L909.6,1787.7 L911.4,1787.9 L913.2,1788.0 L915.0,1788.2 L916.7,1788.3 L918.5,1788.4 L920.3,1788.5 L922.1,1788.6 L923.9,1788.7 L925.7,1788.8 L927.5,1789.0 L929.3,1789.1 L931.1,1789.2 L932.9,1789.2 L934.7,1789.3 L936.5,1789.4 L938.2,1789.5 L940.0,1789.6 L941.8,1789.8 L943.6,1790.0 L945.4,1790.1 L947.2,1790.3 L949.0,1790.4 L950.8,1790.6 L952.6,1790.7 L954.4,1790.9 L956.2,1791.1 L958.0,1791.3 L959.7,1791.5 L961.5,1791.6 L963.3,1791.8 L965.1,1792.0 L966.9,1792.2 L968.7,1792.4 L970.5,1792.5 L972.3,1792.7 L974.1,1792.9 L975.9,1793.1 L977.7,1793.3 L979.5,1793.4 L981.2,1793.5 L983.0,1793.6 L984.8,1793.7 L986.6,1793.8 L988.4,1793.9 L990.2,1794.0 L992.0,1794.1 L993.8,1794.1 L995.6,1794.1 L997.4,1794.1 L999.2,1794.1 L1001.0,1794.1 L1002.7,1794.1 L1004.5,1794.1 L1006.3,1794.1 L1008.1,1794.2 L1009.9,1794.2 L1011.7,1794.3 L1013.5,1794.4 L1015.3,1794.5 L1017.1,1794.6 L1018.9,1794.7 L1020.7,1794.8 L1022.5,1794.8 L1024.2,1794.8 L1026.0,1794.9 L1027.8,1794.9 L1029.6,1794.9 L1031.4,1795.0 L1033.2,1795.0 L1035.0,1795.0 L1036.8,1795.0 L1038.6,1795.0 L1040.4,1795.0 L1042.2,1795.0 L1044.0,1795.0 L1045.7,1794.9 L1047.5,1794.9 L1049.3,1794.9 L1051.1,1794.9 L1052.9,1794.9 L1054.7,1794.9 L1056.5,1793.7 L1058.3,1793.7 L1060.1,1793.6 L1061.9,1793.6 L1063.7,1793.6 L1065.5,1793.5 L1067.2,1793.4 L1069.0,1793.4 L1070.8,1793.3 L1072.6,1793.2 L1074.4,1793.1 L1076.2,1793.0 L1078.0,1792.9 L1079.8,1792.8 L1081.6,1792.7 L1083.4,1792.5 L1085.2,1792.4 L1087.0,1792.2 L1088.7,1792.0 L1090.5,1791.9 L1092.3,1791.7 L1094.1,1791.5 L1095.9,1791.3 L1097.7,1791.1 L1099.5,1790.8 L1101.3,1790.6 L1103.1,1790.4 L1104.9,1790.1 L1106.7,1789.8 L1108.5,1789.5 L1110.2,1789.2 L1112.0,1788.9 L1113.8,1788.6 L1115.6,1788.3 L1117.4,1787.9 L1119.2,1787.6 L1121.0,1787.2 L1122.8,1786.8 L1124.6,1786.4 L1126.4,1786.0 L1128.2,1785.6 L1130.0,1785.1 L1131.7,1784.7 L1133.5,1784.2 L1135.3,1783.7 L1137.1,1783.2 L1138.9,1782.7 L1140.7,1782.1 L1142.5,1781.6 L1144.3,1781.0 L1146.1,1780.4 L1147.9,1779.8 L1149.7,1779.2 L1151.5,1778.5 L1153.2,1777.9 L1155.0,1777.2 L1156.8,1776.5 L1158.6,1775.8 L1160.4,1775.1 L1162.2,1774.3 L1164.0,1773.5 L1165.8,1772.8 L1167.6,1772.0 L1169.4,1771.1 L1171.2,1770.3 L1173.0,1769.4 L1174.7,1768.5 L1176.5,1767.6 L1178.3,1766.7 L1180.1,1765.7 L1181.9,1764.7 L1183.7,1763.7 L1185.5,1762.7 L1187.3,1761.7 L1189.1,1760.6 L1190.9,1759.5 L1192.7,1758.4 L1194.5,1757.2 L1196.2,1756.1 L1198.0,1754.8 L1199.8,1753.6 L1201.6,1752.3 L1203.4,1751.1 L1205.2,1749.7 L1207.0,1748.4 L1208.8,1747.0 L1210.6,1745.5 L1212.4,1744.1 L1214.2,1742.6 L1216.0,1741.0 L1217.7,1739.4 L1219.5,1737.8 L1221.3,1736.1 L1223.1,1734.4 L1224.9,1732.6 L1226.7,1730.8 L1228.5,1728.9 L1230.3,1727.0 L1232.1,1725.0 L1233.9,1722.9 L1235.7,1720.7 L1237.5,1718.5 L1239.2,1716.2 L1241.0,1713.8 L1242.8,1711.4 L1244.6,1708.9 L1246.4,1706.3 L1248.2,1703.6 L1250.0,1700.8 L1251.8,1697.9 L1253.6,1694.9 L1255.4,1691.9 L1257.2,1688.7 L1259.0,1685.5 L1260.7,1682.2 L1262.5,1678.8 L1264.3,1675.3 L1266.1,1671.7 L1267.9,1668.0 L1269.7,1664.3 L1271.5,1660.4 L1273.3,1656.6 L1275.1,1652.6 L1276.9,1648.6 L1278.7,1644.6 L1280.5,1640.6 L1282.2,1636.5 L1284.0,1632.4 L1285.8,1628.4 L1287.6,1624.3 L1289.4,1620.3 L1291.2,1616.4 L1293.0,1612.4 L1294.8,1608.6 L1296.6,1604.8 L1298.4,1601.0 L1300.2,1597.4 L1302.0,1593.8 L1303.7,1590.3 L1305.5,1586.9 L1307.3,1583.6 L1309.1,1580.3 L1310.9,1577.0 L1312.7,1573.7 L1314.5,1570.4 L1316.3,1567.1 L1318.1,1563.7 L1319.9,1560.3 L1321.7,1556.7 L1323.5,1553.0 L1325.2,1549.0 L1327.0,1544.8 L1328.8,1540.2 L1330.6,1535.1 L1332.4,1529.5 L1334.2,1523.3 L1336.0,1516.4 L1337.8,1508.8 L1339.6,1500.8 L1341.4,1492.4 L1343.2,1484.0 L1345.0,1475.5 L1346.7,1467.0 L1348.5,1458.5 L1350.3,1449.8 L1352.1,1441.0 L1353.9,1432.2 L1355.7,1423.1 L1357.5,1414.0 L1359.3,1404.6 L1361.1,1395.1 L1362.9,1385.3 L1364.7,1375.2 L1366.5,1364.7 L1368.2,1353.9 L1370.0,1342.5 L1371.8,1330.5 L1373.6,1318.0 L1375.4,1305.4 L1377.2,1293.1 L1379.0,1281.4 L1380.8,1270.5 L1382.6,1260.4 L1384.4,1251.2 L1386.2,1242.7 L1388.0,1234.9 L1389.7,1227.6 L1391.5,1220.8 L1393.3,1214.4 L1395.1,1208.3 L1396.9,1202.6 L1398.7,1197.2 L1400.5,1192.2 L1402.3,1187.7 L1404.1,1183.7 L1405.9,1180.4 L1407.7,1177.7 L1409.5,1175.5 L1411.2,1173.9 L1413.0,1172.6 L1414.8,1171.8 L1416.6,1171.7 L1418.4,1173.0 L1420.2,1175.9 L1422.0,1179.8 L1423.8,1183.6 L1425.6,1186.6 L1427.4,1188.9 L1429.2,1190.7 L1431.0,1192.2 L1432.7,1193.4 L1434.5,1194.3 L1436.3,1195.0 L1438.1,1195.5 L1439.9,1195.8 L1441.7,1195.7 L1443.5,1195.3 L1445.3,1194.6 L1447.1,1193.4 L1448.9,1191.7 L1450.7,1189.7 L1452.5,1187.1 L1454.2,1184.3 L1456.0,1181.1 L1457.8,1177.5 L1459.6,1173.3 L1461.4,1168.4 L1463.2,1162.4 L1465.0,1154.8 L1466.8,1144.8 L1468.6,1131.5 L1470.4,1116.8 L1472.2,1103.9 L1474.0,1092.1 L1475.7,1080.7 L1477.5,1069.1 L1479.3,1057.1 L1481.1,1044.7 L1482.9,1031.8 L1484.7,1018.5 L1486.5,1004.6 L1488.3,990.1 L1490.1,975.1 L1491.9,959.3 L1493.7,942.8 L1495.5,925.5 L1497.2,907.4 L1499.0,888.4 L1500.8,868.4 L1502.6,847.6 L1504.4,825.8 L1506.2,802.9 L1508.0,780.1 L1509.8,760.4 L1511.6,744.4 L1513.4,731.2 L1515.2,720.1 L1517.0,710.2 L1518.7,701.2 L1520.5,692.8 L1522.3,685.1 L1524.1,678.0 L1525.9,671.5 L1527.7,666.6 L1529.5,665.2 L1531.3,666.4 L1533.1,669.2 L1534.9,673.7 L1536.7,681.1 L1538.4,695.4 L1540.2,711.1 L1542.0,726.9 L1543.8,743.8 L1545.6,762.1 L1547.4,781.9 L1549.2,803.3 L1551.0,826.5 L1552.8,851.5 L1554.6,877.8 L1556.4,905.5 L1558.2,934.5 L1559.9,965.0 L1561.7,997.0 L1563.5,1030.4 L1565.3,1065.1 L1567.1,1100.7 L1568.9,1136.8 L1570.7,1173.1 L1572.5,1208.9 L1574.3,1244.0 L1576.1,1277.9 L1577.9,1310.4 L1579.7,1341.5 L1581.4,1371.0 L1583.2,1399.0 L1585.0,1425.5 L1586.8,1450.6 L1588.6,1474.5 L1590.4,1497.2 L1592.2,1518.8 L1594.0,1539.4 L1595.8,1559.1 L1597.6,1577.9 L1599.4,1596.0 L1601.2,1613.3 L1602.9,1629.7 L1604.7,1644.7 L1606.5,1658.3 L1608.3,1670.4 L1610.1,1681.3 L1611.9,1691.2 L1613.7,1700.2 L1615.5,1708.5 L1617.3,1716.2 L1619.1,1723.1 L1620.9,1729.4 L1622.7,1735.1 L1624.4,1740.3 L1626.2,1744.9 L1628.0,1749.2 L1629.8,1753.0 L1631.6,1756.6 L1633.4,1759.8 L1635.2,1762.9 L1637.0,1765.7 L1638.8,1768.3 L1640.6,1770.7 L1642.4,1773.0 L1644.2,1775.1 L1645.9,1777.1 L1647.7,1778.9 L1649.5,1780.6 L1651.3,1782.2 L1653.1,1783.7 L1654.9,1785.0 L1656.7,1786.3 L1658.5,1787.4 L1660.3,1788.5 L1662.1,1789.4 L1663.9,1790.3 L1665.7,1791.0 L1667.4,1791.7 L1669.2,1792.3 L1671.0,1792.8 L1672.8,1793.2 L1674.6,1793.5 L1676.4,1793.8 L1678.2,1794.0 L1680.0,1794.1 L1681.8,1794.2 L1683.6,1794.3 L1685.4,1794.3 L1687.2,1794.3 L1688.9,1794.3 L1690.7,1794.4 L1692.5,1794.4 L1694.3,1794.5 L1696.1,1794.6 L1697.9,1794.7 L1699.7,1795.0 L1701.5,1795.3" fill="none" stroke="#fac000" stroke-width="9" stroke-linejoin="round" stroke-linecap="butt"/><path d="M300.4,1056.9 L302.2,1058.5 L304.0,1060.4 L305.8,1063.9 L307.6,1068.2 L309.4,1073.7 L311.2,1080.8 L313.0,1091.7 L314.8,1105.4 L316.5,1119.3 L318.3,1133.0 L320.1,1146.4 L321.9,1159.7 L323.7,1172.5 L325.5,1185.3 L327.3,1198.0 L329.1,1210.7 L330.9,1223.5 L332.7,1236.2 L334.5,1249.1 L336.3,1262.2 L338.0,1275.4 L339.8,1289.0 L341.6,1302.8 L343.4,1317.1 L345.2,1331.6 L347.0,1345.7 L348.8,1358.6 L350.6,1370.0 L352.4,1380.0 L354.2,1388.8 L356.0,1396.8 L357.8,1404.0 L359.5,1410.7 L361.3,1416.9 L363.1,1422.7 L364.9,1427.9 L366.7,1432.5 L368.5,1436.5 L370.3,1439.8 L372.1,1442.5 L373.9,1444.6 L375.7,1446.3 L377.5,1447.5 L379.3,1448.4 L381.0,1448.9 L382.8,1449.1 L384.6,1449.0 L386.4,1448.8 L388.2,1448.3 L390.0,1447.7 L391.8,1446.8 L393.6,1445.8 L395.4,1444.3 L397.2,1442.5 L399.0,1440.6 L400.8,1438.4 L402.5,1436.0 L404.3,1433.3 L406.1,1430.4 L407.9,1427.1 L409.7,1423.3 L411.5,1418.9 L413.3,1413.9 L415.1,1408.0 L416.9,1401.0 L418.7,1392.8 L420.5,1383.8 L422.3,1374.4 L424.0,1365.4 L425.8,1356.9 L427.6,1348.7 L429.4,1341.0 L431.2,1333.7 L433.0,1327.1 L434.8,1321.0 L436.6,1315.0 L438.4,1309.1 L440.2,1303.1 L442.0,1297.0 L443.8,1290.5 L445.5,1283.5 L447.3,1275.7 L449.1,1267.1 L450.9,1258.1 L452.7,1249.4 L454.5,1241.2 L456.3,1233.9 L458.1,1227.7 L459.9,1222.3 L461.7,1217.8 L463.5,1213.9 L465.3,1210.5 L467.0,1207.5 L468.8,1204.9 L470.6,1202.6 L472.4,1200.6 L474.2,1198.7 L476.0,1197.1 L477.8,1195.8 L479.6,1194.7 L481.4,1193.9 L483.2,1193.2 L485.0,1192.9 L486.8,1192.9 L488.5,1193.4 L490.3,1194.3 L492.1,1195.7 L493.9,1197.6 L495.7,1199.9 L497.5,1202.6 L499.3,1205.7 L501.1,1209.0 L502.9,1212.6 L504.7,1216.3 L506.5,1220.2 L508.3,1224.2 L510.0,1228.5 L511.8,1233.0 L513.6,1237.8 L515.4,1242.8 L517.2,1248.1 L519.0,1253.7 L520.8,1259.7 L522.6,1266.0 L524.4,1272.7 L526.2,1279.8 L528.0,1287.0 L529.8,1294.5 L531.5,1302.3 L533.3,1310.2 L535.1,1318.2 L536.9,1326.3 L538.7,1334.3 L540.5,1342.4 L542.3,1350.4 L544.1,1358.5 L545.9,1366.5 L547.7,1374.6 L549.5,1382.7 L551.3,1390.9 L553.0,1399.0 L554.8,1407.3 L556.6,1416.5 L558.4,1425.9 L560.2,1435.4 L562.0,1445.0 L563.8,1454.8 L565.6,1464.7 L567.4,1474.8 L569.2,1485.2 L571.0,1494.8 L572.8,1504.6 L574.5,1515.7 L576.3,1523.0 L578.1,1530.0 L579.9,1536.4 L581.7,1542.3 L583.5,1548.0 L585.3,1553.4 L587.1,1558.7 L588.9,1563.8 L590.7,1568.8 L592.5,1573.7 L594.3,1578.5 L596.0,1583.3 L597.8,1588.1 L599.6,1592.8 L601.4,1597.6 L603.2,1602.4 L605.0,1607.2 L606.8,1612.1 L608.6,1617.1 L610.4,1622.2 L612.2,1627.5 L614.0,1632.9 L615.8,1638.4 L617.5,1644.0 L619.3,1649.5 L621.1,1655.0 L622.9,1660.3 L624.7,1665.4 L626.5,1670.3 L628.3,1675.0 L630.1,1679.4 L631.9,1683.6 L633.7,1687.6 L635.5,1691.3 L637.2,1694.9 L639.0,1698.3 L640.8,1701.5 L642.6,1704.5 L644.4,1707.4 L646.2,1710.2 L648.0,1712.8 L649.8,1715.3 L651.6,1717.7 L653.4,1719.9 L655.2,1722.1 L657.0,1724.2 L658.7,1726.2 L660.5,1728.1 L662.3,1729.9 L664.1,1731.6 L665.9,1733.3 L667.7,1734.9 L669.5,1736.4 L671.3,1737.8 L673.1,1739.2 L674.9,1740.5 L676.7,1741.7 L678.5,1742.9 L680.2,1744.1 L682.0,1745.1 L683.8,1746.2 L685.6,1747.1 L687.4,1748.1 L689.2,1748.9 L691.0,1749.8 L692.8,1750.6 L694.6,1751.3 L696.4,1752.0 L698.2,1752.7 L700.0,1753.4 L701.7,1754.0 L703.5,1754.6 L705.3,1755.2 L707.1,1755.8 L708.9,1756.3 L710.7,1756.8 L712.5,1757.3 L714.3,1757.8 L716.1,1758.3 L717.9,1759.0 L719.7,1759.6 L721.5,1760.3 L723.2,1760.9 L725.0,1761.6 L726.8,1762.1 L728.6,1762.5 L730.4,1763.0 L732.2,1763.4 L734.0,1763.8 L735.8,1764.3 L737.6,1764.7 L739.4,1765.0 L741.2,1765.4 L743.0,1765.8 L744.7,1766.1 L746.5,1766.5 L748.3,1766.9 L750.1,1767.3 L751.9,1767.7 L753.7,1768.1 L755.5,1768.5 L757.3,1768.7 L759.1,1768.9 L760.9,1769.1 L762.7,1769.2 L764.5,1769.4 L766.2,1769.6 L768.0,1769.9 L769.8,1770.3 L771.6,1770.6 L773.4,1771.0 L775.2,1771.3 L777.0,1771.7 L778.8,1772.1 L780.6,1772.4 L782.4,1772.6 L784.2,1772.9 L786.0,1773.2 L787.7,1773.5 L789.5,1773.8 L791.3,1774.1 L793.1,1774.4 L794.9,1774.8 L796.7,1775.2 L798.5,1775.6 L800.3,1775.9 L802.1,1776.2 L803.9,1776.7 L805.7,1777.1 L807.5,1777.6 L809.2,1778.6 L811.0,1779.6 L812.8,1779.8 L814.6,1778.4 L816.4,1777.7 L818.2,1778.2 L820.0,1778.7 L821.8,1779.4 L823.6,1780.3 L825.4,1781.3 L827.2,1781.9 L829.0,1780.2 L830.7,1778.9 L832.5,1779.3 L834.3,1779.7 L836.1,1780.1 L837.9,1780.6 L839.7,1781.0 L841.5,1781.4 L843.3,1781.8 L845.1,1782.2 L846.9,1782.3 L848.7,1782.4 L850.5,1782.5 L852.2,1782.6 L854.0,1782.7 L855.8,1782.8 L857.6,1782.9 L859.4,1782.9 L861.2,1783.1 L863.0,1783.2 L864.8,1783.4 L866.6,1783.5 L868.4,1783.6 L870.2,1783.8 L872.0,1783.9 L873.7,1783.8 L875.5,1783.3 L877.3,1782.7 L879.1,1782.9 L880.9,1783.2 L882.7,1783.5 L884.5,1783.7 L886.3,1784.0 L888.1,1784.2 L889.9,1784.4 L891.7,1784.6 L893.5,1784.8 L895.2,1785.1 L897.0,1785.3 L898.8,1785.5 L900.6,1785.7 L902.4,1785.9 L904.2,1786.1 L906.0,1786.3 L907.8,1786.5 L909.6,1786.6 L911.4,1786.8 L913.2,1787.0 L915.0,1787.1 L916.7,1787.3 L918.5,1787.4 L920.3,1787.5 L922.1,1787.6 L923.9,1787.8 L925.7,1787.9 L927.5,1788.0 L929.3,1788.1 L931.1,1788.2 L932.9,1788.3 L934.7,1788.4 L936.5,1788.5 L938.2,1788.6 L940.0,1788.8 L941.8,1788.9 L943.6,1789.1 L945.4,1789.3 L947.2,1789.4 L949.0,1789.6 L950.8,1789.8 L952.6,1790.0 L954.4,1790.1 L956.2,1790.3 L958.0,1790.5 L959.7,1790.7 L961.5,1790.9 L963.3,1791.1 L965.1,1791.3 L966.9,1791.5 L968.7,1791.7 L970.5,1791.9 L972.3,1792.1 L974.1,1792.3 L975.9,1792.5 L977.7,1792.7 L979.5,1792.9 L981.2,1793.0 L983.0,1793.1 L984.8,1793.2 L986.6,1793.3 L988.4,1793.4 L990.2,1793.5 L992.0,1793.6 L993.8,1793.6 L995.6,1793.7 L997.4,1793.7 L999.2,1793.7 L1001.0,1793.7 L1002.7,1793.7 L1004.5,1793.7 L1006.3,1793.7 L1008.1,1793.8 L1009.9,1793.9 L1011.7,1794.0 L1013.5,1794.1 L1015.3,1794.2 L1017.1,1794.3 L1018.9,1794.4 L1020.7,1794.5 L1022.5,1794.5 L1024.2,1794.6 L1026.0,1794.6 L1027.8,1794.6 L1029.6,1794.7 L1031.4,1794.7 L1033.2,1794.7 L1035.0,1794.7 L1036.8,1794.7 L1038.6,1794.7 L1040.4,1794.7 L1042.2,1794.7 L1044.0,1794.7 L1045.7,1794.7 L1047.5,1794.7 L1049.3,1794.7 L1051.1,1794.7 L1052.9,1794.7 L1054.7,1794.7 L1056.5,1793.7 L1058.3,1793.7 L1060.1,1793.6 L1061.9,1793.6 L1063.7,1793.6 L1065.5,1793.5 L1067.2,1793.4 L1069.0,1793.4 L1070.8,1793.3 L1072.6,1793.2 L1074.4,1793.1 L1076.2,1793.0 L1078.0,1792.9 L1079.8,1792.8 L1081.6,1792.7 L1083.4,1792.5 L1085.2,1792.4 L1087.0,1792.2 L1088.7,1792.0 L1090.5,1791.9 L1092.3,1791.7 L1094.1,1791.5 L1095.9,1791.3 L1097.7,1791.1 L1099.5,1790.8 L1101.3,1790.6 L1103.1,1790.4 L1104.9,1790.1 L1106.7,1789.8 L1108.5,1789.5 L1110.2,1789.2 L1112.0,1788.9 L1113.8,1788.6 L1115.6,1788.3 L1117.4,1787.9 L1119.2,1787.6 L1121.0,1787.2 L1122.8,1786.8 L1124.6,1786.4 L1126.4,1786.0 L1128.2,1785.6 L1130.0,1785.1 L1131.7,1784.7 L1133.5,1784.2 L1135.3,1783.7 L1137.1,1783.2 L1138.9,1782.7 L1140.7,1782.1 L1142.5,1781.6 L1144.3,1781.0 L1146.1,1780.4 L1147.9,1779.8 L1149.7,1779.2 L1151.5,1778.5 L1153.2,1777.9 L1155.0,1777.2 L1156.8,1776.5 L1158.6,1775.8 L1160.4,1775.1 L1162.2,1774.3 L1164.0,1773.5 L1165.8,1772.8 L1167.6,1772.0 L1169.4,1771.1 L1171.2,1770.3 L1173.0,1769.4 L1174.7,1768.5 L1176.5,1767.6 L1178.3,1766.7 L1180.1,1765.7 L1181.9,1764.7 L1183.7,1763.7 L1185.5,1762.7 L1187.3,1761.7 L1189.1,1760.6 L1190.9,1759.5 L1192.7,1758.4 L1194.5,1757.2 L1196.2,1756.1 L1198.0,1754.8 L1199.8,1753.6 L1201.6,1752.4 L1203.4,1751.1 L1205.2,1749.7 L1207.0,1748.4 L1208.8,1747.0 L1210.6,1745.5 L1212.4,1744.1 L1214.2,1742.6 L1216.0,1741.0 L1217.7,1739.4 L1219.5,1737.8 L1221.3,1736.1 L1223.1,1734.4 L1224.9,1732.6 L1226.7,1730.8 L1228.5,1728.9 L1230.3,1727.0 L1232.1,1725.0 L1233.9,1722.9 L1235.7,1720.8 L1237.5,1718.5 L1239.2,1716.3 L1241.0,1713.9 L1242.8,1711.4 L1244.6,1708.9 L1246.4,1706.3 L1248.2,1703.6 L1250.0,1700.8 L1251.8,1697.9 L1253.6,1695.0 L1255.4,1691.9 L1257.2,1688.8 L1259.0,1685.6 L1260.7,1682.2 L1262.5,1678.8 L1264.3,1675.3 L1266.1,1671.7 L1267.9,1668.1 L1269.7,1664.3 L1271.5,1660.5 L1273.3,1656.6 L1275.1,1652.7 L1276.9,1648.7 L1278.7,1644.7 L1280.5,1640.7 L1282.2,1636.6 L1284.0,1632.5 L1285.8,1628.5 L1287.6,1624.5 L1289.4,1620.4 L1291.2,1616.5 L1293.0,1612.5 L1294.8,1608.7 L1296.6,1604.9 L1298.4,1601.2 L1300.2,1597.5 L1302.0,1593.9 L1303.7,1590.4 L1305.5,1587.0 L1307.3,1583.7 L1309.1,1580.4 L1310.9,1577.1 L1312.7,1573.9 L1314.5,1570.6 L1316.3,1567.3 L1318.1,1563.9 L1319.9,1560.4 L1321.7,1556.9 L1323.5,1553.1 L1325.2,1549.2 L1327.0,1545.0 L1328.8,1540.4 L1330.6,1535.4 L1332.4,1529.8 L1334.2,1523.5 L1336.0,1516.6 L1337.8,1509.1 L1339.6,1501.0 L1341.4,1492.7 L1343.2,1484.3 L1345.0,1475.9 L1346.7,1467.4 L1348.5,1458.8 L1350.3,1450.2 L1352.1,1441.4 L1353.9,1432.6 L1355.7,1423.6 L1357.5,1414.4 L1359.3,1405.1 L1361.1,1395.6 L1362.9,1385.8 L1364.7,1375.7 L1366.5,1365.3 L1368.2,1354.5 L1370.0,1343.1 L1371.8,1331.2 L1373.6,1318.8 L1375.4,1306.2 L1377.2,1293.9 L1379.0,1282.2 L1380.8,1271.4 L1382.6,1261.4 L1384.4,1252.2 L1386.2,1243.8 L1388.0,1236.0 L1389.7,1228.8 L1391.5,1222.0 L1393.3,1215.6 L1395.1,1209.7 L1396.9,1204.0 L1398.7,1198.7 L1400.5,1193.7 L1402.3,1189.3 L1404.1,1185.4 L1405.9,1182.1 L1407.7,1179.4 L1409.5,1177.2 L1411.2,1175.6 L1413.0,1174.3 L1414.8,1173.5 L1416.6,1173.4 L1418.4,1174.6 L1420.2,1177.5 L1422.0,1181.5 L1423.8,1185.2 L1425.6,1188.2 L1427.4,1190.5 L1429.2,1192.3 L1431.0,1193.8 L1432.7,1195.0 L1434.5,1195.9 L1436.3,1196.6 L1438.1,1197.1 L1439.9,1197.3 L1441.7,1197.3 L1443.5,1196.9 L1445.3,1196.1 L1447.1,1194.9 L1448.9,1193.3 L1450.7,1191.2 L1452.5,1188.6 L1454.2,1185.8 L1456.0,1182.6 L1457.8,1178.9 L1459.6,1174.7 L1461.4,1169.7 L1463.2,1163.7 L1465.0,1156.1 L1466.8,1146.0 L1468.6,1132.7 L1470.4,1117.9 L1472.2,1105.0 L1474.0,1093.2 L1475.7,1081.7 L1477.5,1070.1 L1479.3,1058.1 L1481.1,1045.7 L1482.9,1032.8 L1484.7,1019.5 L1486.5,1005.6 L1488.3,991.1 L1490.1,976.1 L1491.9,960.3 L1493.7,943.8 L1495.5,926.6 L1497.2,908.5 L1499.0,889.5 L1500.8,869.6 L1502.6,848.8 L1504.4,827.0 L1506.2,804.3 L1508.0,781.5 L1509.8,762.0 L1511.6,746.1 L1513.4,733.0 L1515.2,722.0 L1517.0,712.3 L1518.7,703.4 L1520.5,695.4 L1522.3,687.9 L1524.1,681.1 L1525.9,674.8 L1527.7,670.0 L1529.5,668.7 L1531.3,669.9 L1533.1,672.6 L1534.9,676.9 L1536.7,684.0 L1538.4,698.1 L1540.2,713.5 L1542.0,729.1 L1543.8,745.8 L1545.6,763.9 L1547.4,783.5 L1549.2,804.7 L1551.0,827.8 L1552.8,852.6 L1554.6,878.9 L1556.4,906.4 L1558.2,935.4 L1559.9,965.8 L1561.7,997.8 L1563.5,1031.1 L1565.3,1065.7 L1567.1,1101.3 L1568.9,1137.4 L1570.7,1173.6 L1572.5,1209.4 L1574.3,1244.4 L1576.1,1278.3 L1577.9,1310.8 L1579.7,1341.8 L1581.4,1371.3 L1583.2,1399.3 L1585.0,1425.8 L1586.8,1450.9 L1588.6,1474.8 L1590.4,1497.5 L1592.2,1519.1 L1594.0,1539.6 L1595.8,1559.3 L1597.6,1578.1 L1599.4,1596.2 L1601.2,1613.5 L1602.9,1629.9 L1604.7,1644.9 L1606.5,1658.4 L1608.3,1670.5 L1610.1,1681.4 L1611.9,1691.3 L1613.7,1700.3 L1615.5,1708.6 L1617.3,1716.3 L1619.1,1723.2 L1620.9,1729.5 L1622.7,1735.2 L1624.4,1740.3 L1626.2,1745.0 L1628.0,1749.2 L1629.8,1753.1 L1631.6,1756.6 L1633.4,1759.9 L1635.2,1762.9 L1637.0,1765.7 L1638.8,1768.3 L1640.6,1770.7 L1642.4,1773.0 L1644.2,1775.1 L1645.9,1777.1 L1647.7,1778.9 L1649.5,1780.6 L1651.3,1782.2 L1653.1,1783.7 L1654.9,1785.0 L1656.7,1786.3 L1658.5,1787.4 L1660.3,1788.5 L1662.1,1789.4 L1663.9,1790.3 L1665.7,1791.0 L1667.4,1791.7 L1669.2,1792.3 L1671.0,1792.8 L1672.8,1793.2 L1674.6,1793.5 L1676.4,1793.8 L1678.2,1794.0 L1680.0,1794.1 L1681.8,1794.2 L1683.6,1794.3 L1685.4,1794.3 L1687.2,1794.3 L1688.9,1794.3 L1690.7,1794.4 L1692.5,1794.4 L1694.3,1794.5 L1696.1,1794.6 L1697.9,1794.7 L1699.7,1795.0 L1701.5,1795.3" fill="none" stroke="#fe9510" stroke-width="9" stroke-linejoin="round" stroke-linecap="butt"/><path d="M300.4,1060.7 L302.2,1062.3 L304.0,1064.4 L305.8,1067.5 L307.6,1071.3 L309.4,1076.5 L311.2,1083.7 L313.0,1095.3 L314.8,1109.1 L316.5,1122.8 L318.3,1136.2 L320.1,1149.5 L321.9,1162.5 L323.7,1175.4 L325.5,1188.1 L327.3,1200.8 L329.1,1213.5 L330.9,1226.3 L332.7,1239.1 L334.5,1252.0 L336.3,1265.1 L338.0,1278.4 L339.8,1292.0 L341.6,1305.9 L343.4,1320.3 L345.2,1335.0 L347.0,1349.0 L348.8,1361.6 L350.6,1372.7 L352.4,1382.4 L354.2,1391.0 L356.0,1398.8 L357.8,1405.9 L359.5,1412.5 L361.3,1418.6 L363.1,1424.3 L364.9,1429.4 L366.7,1433.9 L368.5,1437.7 L370.3,1440.8 L372.1,1443.4 L373.9,1445.3 L375.7,1446.8 L377.5,1447.8 L379.3,1448.4 L381.0,1448.6 L382.8,1448.6 L384.6,1448.3 L386.4,1447.8 L388.2,1447.1 L390.0,1446.1 L391.8,1445.0 L393.6,1443.8 L395.4,1442.2 L397.2,1440.4 L399.0,1438.4 L400.8,1436.1 L402.5,1433.6 L404.3,1430.8 L406.1,1427.7 L407.9,1424.2 L409.7,1420.2 L411.5,1415.5 L413.3,1410.0 L415.1,1403.6 L416.9,1395.9 L418.7,1387.0 L420.5,1377.2 L422.3,1367.3 L424.0,1358.2 L425.8,1350.1 L427.6,1342.6 L429.4,1335.7 L431.2,1329.2 L433.0,1323.1 L434.8,1317.3 L436.6,1311.6 L438.4,1305.8 L440.2,1300.0 L442.0,1293.9 L443.8,1287.4 L445.5,1280.2 L447.3,1272.1 L449.1,1263.2 L450.9,1254.2 L452.7,1245.7 L454.5,1238.1 L456.3,1231.4 L458.1,1225.8 L459.9,1221.0 L461.7,1216.9 L463.5,1213.3 L465.3,1210.2 L467.0,1207.5 L468.8,1205.1 L470.6,1203.0 L472.4,1201.1 L474.2,1199.4 L476.0,1197.9 L477.8,1196.7 L479.6,1195.6 L481.4,1194.8 L483.2,1194.2 L485.0,1193.9 L486.8,1194.0 L488.5,1194.6 L490.3,1195.5 L492.1,1197.0 L493.9,1199.0 L495.7,1201.4 L497.5,1204.2 L499.3,1207.3 L501.1,1210.8 L502.9,1214.3 L504.7,1218.1 L506.5,1222.1 L508.3,1226.2 L510.0,1230.6 L511.8,1235.2 L513.6,1240.0 L515.4,1245.1 L517.2,1250.5 L519.0,1256.3 L520.8,1262.4 L522.6,1268.9 L524.4,1275.7 L526.2,1283.0 L528.0,1290.5 L529.8,1298.3 L531.5,1306.3 L533.3,1314.5 L535.1,1322.6 L536.9,1330.8 L538.7,1339.0 L540.5,1347.2 L542.3,1355.3 L544.1,1363.5 L545.9,1371.7 L547.7,1379.9 L549.5,1388.2 L551.3,1396.5 L553.0,1404.8 L554.8,1413.2 L556.6,1422.2 L558.4,1431.3 L560.2,1440.5 L562.0,1449.9 L563.8,1459.4 L565.6,1469.0 L567.4,1478.8 L569.2,1488.8 L571.0,1498.5 L572.8,1508.4 L574.5,1518.7 L576.3,1526.6 L578.1,1533.7 L579.9,1540.2 L581.7,1546.3 L583.5,1552.0 L585.3,1557.5 L587.1,1562.8 L588.9,1567.9 L590.7,1572.9 L592.5,1577.8 L594.3,1582.6 L596.0,1587.4 L597.8,1592.2 L599.6,1597.0 L601.4,1601.7 L603.2,1606.5 L605.0,1611.4 L606.8,1616.3 L608.6,1621.3 L610.4,1626.5 L612.2,1631.8 L614.0,1637.2 L615.8,1642.8 L617.5,1648.4 L619.3,1654.0 L621.1,1659.5 L622.9,1664.8 L624.7,1669.9 L626.5,1674.8 L628.3,1679.4 L630.1,1683.8 L631.9,1687.9 L633.7,1691.8 L635.5,1695.5 L637.2,1698.9 L639.0,1702.2 L640.8,1705.3 L642.6,1708.2 L644.4,1710.9 L646.2,1713.6 L648.0,1716.0 L649.8,1718.4 L651.6,1720.7 L653.4,1722.8 L655.2,1724.9 L657.0,1726.8 L658.7,1728.7 L660.5,1730.4 L662.3,1732.1 L664.1,1733.7 L665.9,1735.3 L667.7,1736.7 L669.5,1738.1 L671.3,1739.4 L673.1,1740.7 L674.9,1741.9 L676.7,1743.0 L678.5,1744.1 L680.2,1745.1 L682.0,1746.1 L683.8,1747.0 L685.6,1747.8 L687.4,1748.6 L689.2,1749.4 L691.0,1750.1 L692.8,1750.8 L694.6,1751.5 L696.4,1752.1 L698.2,1752.7 L700.0,1753.2 L701.7,1753.8 L703.5,1754.3 L705.3,1754.9 L707.1,1755.4 L708.9,1755.8 L710.7,1756.3 L712.5,1756.8 L714.3,1757.3 L716.1,1757.8 L717.9,1758.4 L719.7,1759.0 L721.5,1759.7 L723.2,1760.3 L725.0,1760.9 L726.8,1761.4 L728.6,1761.8 L730.4,1762.3 L732.2,1762.7 L734.0,1763.1 L735.8,1763.6 L737.6,1763.9 L739.4,1764.3 L741.2,1764.7 L743.0,1765.0 L744.7,1765.4 L746.5,1765.8 L748.3,1766.2 L750.1,1766.5 L751.9,1766.9 L753.7,1767.3 L755.5,1767.7 L757.3,1767.9 L759.1,1768.1 L760.9,1768.3 L762.7,1768.4 L764.5,1768.6 L766.2,1768.8 L768.0,1769.1 L769.8,1769.5 L771.6,1769.8 L773.4,1770.2 L775.2,1770.5 L777.0,1770.9 L778.8,1771.2 L780.6,1771.5 L782.4,1771.8 L784.2,1772.1 L786.0,1772.4 L787.7,1772.7 L789.5,1773.0 L791.3,1773.3 L793.1,1773.6 L794.9,1774.0 L796.7,1774.4 L798.5,1774.7 L800.3,1775.1 L802.1,1775.5 L803.9,1775.9 L805.7,1776.3 L807.5,1776.7 L809.2,1777.8 L811.0,1778.8 L812.8,1779.0 L814.6,1777.6 L816.4,1776.9 L818.2,1777.4 L820.0,1777.9 L821.8,1778.5 L823.6,1779.5 L825.4,1780.5 L827.2,1781.1 L829.0,1779.4 L830.7,1778.0 L832.5,1778.5 L834.3,1778.9 L836.1,1779.3 L837.9,1779.8 L839.7,1780.2 L841.5,1780.6 L843.3,1781.1 L845.1,1781.5 L846.9,1781.6 L848.7,1781.7 L850.5,1781.7 L852.2,1781.8 L854.0,1781.9 L855.8,1782.0 L857.6,1782.1 L859.4,1782.1 L861.2,1782.3 L863.0,1782.4 L864.8,1782.6 L866.6,1782.7 L868.4,1782.9 L870.2,1783.0 L872.0,1783.1 L873.7,1783.1 L875.5,1782.5 L877.3,1781.9 L879.1,1782.1 L880.9,1782.4 L882.7,1782.7 L884.5,1783.0 L886.3,1783.3 L888.1,1783.6 L889.9,1783.8 L891.7,1784.0 L893.5,1784.2 L895.2,1784.4 L897.0,1784.6 L898.8,1784.8 L900.6,1785.0 L902.4,1785.2 L904.2,1785.4 L906.0,1785.6 L907.8,1785.8 L909.6,1786.0 L911.4,1786.1 L913.2,1786.3 L915.0,1786.5 L916.7,1786.6 L918.5,1786.8 L920.3,1786.9 L922.1,1787.0 L923.9,1787.2 L925.7,1787.3 L927.5,1787.4 L929.3,1787.6 L931.1,1787.7 L932.9,1787.8 L934.7,1787.9 L936.5,1788.0 L938.2,1788.1 L940.0,1788.2 L941.8,1788.4 L943.6,1788.6 L945.4,1788.8 L947.2,1788.9 L949.0,1789.1 L950.8,1789.3 L952.6,1789.5 L954.4,1789.7 L956.2,1789.9 L958.0,1790.1 L959.7,1790.3 L961.5,1790.5 L963.3,1790.7 L965.1,1790.9 L966.9,1791.1 L968.7,1791.3 L970.5,1791.5 L972.3,1791.7 L974.1,1791.9 L975.9,1792.1 L977.7,1792.3 L979.5,1792.6 L981.2,1792.7 L983.0,1792.8 L984.8,1792.9 L986.6,1793.0 L988.4,1793.1 L990.2,1793.2 L992.0,1793.3 L993.8,1793.4 L995.6,1793.4 L997.4,1793.4 L999.2,1793.4 L1001.0,1793.5 L1002.7,1793.5 L1004.5,1793.5 L1006.3,1793.5 L1008.1,1793.6 L1009.9,1793.7 L1011.7,1793.8 L1013.5,1793.9 L1015.3,1794.0 L1017.1,1794.1 L1018.9,1794.2 L1020.7,1794.3 L1022.5,1794.4 L1024.2,1794.4 L1026.0,1794.4 L1027.8,1794.5 L1029.6,1794.5 L1031.4,1794.5 L1033.2,1794.6 L1035.0,1794.6 L1036.8,1794.6 L1038.6,1794.6 L1040.4,1794.6 L1042.2,1794.6 L1044.0,1794.6 L1045.7,1794.6 L1047.5,1794.6 L1049.3,1794.6 L1051.1,1794.6 L1052.9,1794.6 L1054.7,1794.6 L1056.5,1793.7 L1058.3,1793.7 L1060.1,1793.6 L1061.9,1793.6 L1063.7,1793.6 L1065.5,1793.5 L1067.2,1793.4 L1069.0,1793.4 L1070.8,1793.3 L1072.6,1793.2 L1074.4,1793.1 L1076.2,1793.0 L1078.0,1792.9 L1079.8,1792.8 L1081.6,1792.7 L1083.4,1792.5 L1085.2,1792.4 L1087.0,1792.2 L1088.7,1792.0 L1090.5,1791.9 L1092.3,1791.7 L1094.1,1791.5 L1095.9,1791.3 L1097.7,1791.1 L1099.5,1790.8 L1101.3,1790.6 L1103.1,1790.4 L1104.9,1790.1 L1106.7,1789.8 L1108.5,1789.5 L1110.2,1789.2 L1112.0,1788.9 L1113.8,1788.6 L1115.6,1788.3 L1117.4,1787.9 L1119.2,1787.6 L1121.0,1787.2 L1122.8,1786.8 L1124.6,1786.4 L1126.4,1786.0 L1128.2,1785.6 L1130.0,1785.1 L1131.7,1784.7 L1133.5,1784.2 L1135.3,1783.7 L1137.1,1783.2 L1138.9,1782.7 L1140.7,1782.1 L1142.5,1781.6 L1144.3,1781.0 L1146.1,1780.4 L1147.9,1779.8 L1149.7,1779.2 L1151.5,1778.5 L1153.2,1777.9 L1155.0,1777.2 L1156.8,1776.5 L1158.6,1775.8 L1160.4,1775.1 L1162.2,1774.3 L1164.0,1773.5 L1165.8,1772.8 L1167.6,1772.0 L1169.4,1771.1 L1171.2,1770.3 L1173.0,1769.4 L1174.7,1768.5 L1176.5,1767.6 L1178.3,1766.7 L1180.1,1765.7 L1181.9,1764.7 L1183.7,1763.7 L1185.5,1762.7 L1187.3,1761.7 L1189.1,1760.6 L1190.9,1759.5 L1192.7,1758.4 L1194.5,1757.2 L1196.2,1756.1 L1198.0,1754.8 L1199.8,1753.6 L1201.6,1752.4 L1203.4,1751.1 L1205.2,1749.7 L1207.0,1748.4 L1208.8,1747.0 L1210.6,1745.6 L1212.4,1744.1 L1214.2,1742.6 L1216.0,1741.0 L1217.7,1739.5 L1219.5,1737.8 L1221.3,1736.2 L1223.1,1734.4 L1224.9,1732.7 L1226.7,1730.8 L1228.5,1729.0 L1230.3,1727.0 L1232.1,1725.0 L1233.9,1723.0 L1235.7,1720.8 L1237.5,1718.6 L1239.2,1716.3 L1241.0,1714.0 L1242.8,1711.5 L1244.6,1709.0 L1246.4,1706.4 L1248.2,1703.7 L1250.0,1700.9 L1251.8,1698.1 L1253.6,1695.1 L1255.4,1692.1 L1257.2,1688.9 L1259.0,1685.7 L1260.7,1682.4 L1262.5,1679.0 L1264.3,1675.5 L1266.1,1671.9 L1267.9,1668.2 L1269.7,1664.5 L1271.5,1660.7 L1273.3,1656.8 L1275.1,1652.9 L1276.9,1648.9 L1278.7,1644.9 L1280.5,1640.9 L1282.2,1636.8 L1284.0,1632.8 L1285.8,1628.7 L1287.6,1624.7 L1289.4,1620.7 L1291.2,1616.7 L1293.0,1612.8 L1294.8,1608.9 L1296.6,1605.2 L1298.4,1601.4 L1300.2,1597.8 L1302.0,1594.2 L1303.7,1590.8 L1305.5,1587.4 L1307.3,1584.0 L1309.1,1580.8 L1310.9,1577.5 L1312.7,1574.2 L1314.5,1571.0 L1316.3,1567.7 L1318.1,1564.3 L1319.9,1560.9 L1321.7,1557.3 L1323.5,1553.6 L1325.2,1549.7 L1327.0,1545.5 L1328.8,1540.9 L1330.6,1535.9 L1332.4,1530.3 L1334.2,1524.1 L1336.0,1517.2 L1337.8,1509.7 L1339.6,1501.7 L1341.4,1493.4 L1343.2,1485.0 L1345.0,1476.6 L1346.7,1468.1 L1348.5,1459.6 L1350.3,1451.0 L1352.1,1442.3 L1353.9,1433.5 L1355.7,1424.5 L1357.5,1415.4 L1359.3,1406.1 L1361.1,1396.6 L1362.9,1386.9 L1364.7,1376.9 L1366.5,1366.6 L1368.2,1355.8 L1370.0,1344.6 L1371.8,1332.7 L1373.6,1320.4 L1375.4,1307.9 L1377.2,1295.7 L1379.0,1284.1 L1380.8,1273.4 L1382.6,1263.5 L1384.4,1254.4 L1386.2,1246.1 L1388.0,1238.4 L1389.7,1231.3 L1391.5,1224.7 L1393.3,1218.5 L1395.1,1212.7 L1396.9,1207.2 L1398.7,1202.0 L1400.5,1197.2 L1402.3,1192.8 L1404.1,1189.0 L1405.9,1185.8 L1407.7,1183.2 L1409.5,1181.1 L1411.2,1179.4 L1413.0,1178.1 L1414.8,1177.3 L1416.6,1177.2 L1418.4,1178.3 L1420.2,1181.2 L1422.0,1185.1 L1423.8,1188.8 L1425.6,1191.8 L1427.4,1194.1 L1429.2,1195.9 L1431.0,1197.3 L1432.7,1198.5 L1434.5,1199.4 L1436.3,1200.1 L1438.1,1200.6 L1439.9,1200.9 L1441.7,1200.8 L1443.5,1200.4 L1445.3,1199.6 L1447.1,1198.3 L1448.9,1196.7 L1450.7,1194.5 L1452.5,1192.0 L1454.2,1189.1 L1456.0,1185.8 L1457.8,1182.1 L1459.6,1177.8 L1461.4,1172.8 L1463.2,1166.7 L1465.0,1159.0 L1466.8,1148.8 L1468.6,1135.3 L1470.4,1120.5 L1472.2,1107.5 L1474.0,1095.6 L1475.7,1084.0 L1477.5,1072.4 L1479.3,1060.4 L1481.1,1048.0 L1482.9,1035.1 L1484.7,1021.7 L1486.5,1007.8 L1488.3,993.4 L1490.1,978.3 L1491.9,962.6 L1493.7,946.1 L1495.5,928.9 L1497.2,910.9 L1499.0,892.0 L1500.8,872.3 L1502.6,851.6 L1504.4,829.9 L1506.2,807.3 L1508.0,784.8 L1509.8,765.4 L1511.6,749.8 L1513.4,737.1 L1515.2,726.3 L1517.0,716.9 L1518.7,708.6 L1520.5,701.0 L1522.3,694.1 L1524.1,687.8 L1525.9,682.0 L1527.7,677.5 L1529.5,676.5 L1531.3,677.7 L1533.1,680.1 L1534.9,683.9 L1536.7,690.5 L1538.4,704.0 L1540.2,718.9 L1542.0,734.1 L1543.8,750.3 L1545.6,767.9 L1547.4,787.1 L1549.2,808.0 L1551.0,830.8 L1552.8,855.3 L1554.6,881.3 L1556.4,908.6 L1558.2,937.4 L1559.9,967.7 L1561.7,999.5 L1563.5,1032.7 L1565.3,1067.1 L1567.1,1102.6 L1568.9,1138.6 L1570.7,1174.7 L1572.5,1210.4 L1574.3,1245.4 L1576.1,1279.2 L1577.9,1311.7 L1579.7,1342.6 L1581.4,1372.1 L1583.2,1400.0 L1585.0,1426.5 L1586.8,1451.6 L1588.6,1475.4 L1590.4,1498.0 L1592.2,1519.6 L1594.0,1540.1 L1595.8,1559.8 L1597.6,1578.6 L1599.4,1596.6 L1601.2,1613.9 L1602.9,1630.2 L1604.7,1645.2 L1606.5,1658.7 L1608.3,1670.8 L1610.1,1681.7 L1611.9,1691.6 L1613.7,1700.6 L1615.5,1708.9 L1617.3,1716.5 L1619.1,1723.5 L1620.9,1729.7 L1622.7,1735.4 L1624.4,1740.5 L1626.2,1745.1 L1628.0,1749.4 L1629.8,1753.2 L1631.6,1756.8 L1633.4,1760.0 L1635.2,1763.0 L1637.0,1765.8 L1638.8,1768.4 L1640.6,1770.8 L1642.4,1773.1 L1644.2,1775.2 L1645.9,1777.1 L1647.7,1779.0 L1649.5,1780.7 L1651.3,1782.2 L1653.1,1783.7 L1654.9,1785.1 L1656.7,1786.3 L1658.5,1787.4 L1660.3,1788.5 L1662.1,1789.4 L1663.9,1790.3 L1665.7,1791.0 L1667.4,1791.7 L1669.2,1792.3 L1671.0,1792.8 L1672.8,1793.2 L1674.6,1793.5 L1676.4,1793.8 L1678.2,1794.0 L1680.0,1794.1 L1681.8,1794.2 L1683.6,1794.3 L1685.4,1794.3 L1687.2,1794.3 L1688.9,1794.3 L1690.7,1794.4 L1692.5,1794.4 L1694.3,1794.5 L1696.1,1794.6 L1697.9,1794.7 L1699.7,1795.0 L1701.5,1795.3" fill="none" stroke="#ff5320" stroke-width="9" stroke-linejoin="round" stroke-linecap="butt"/><path d="M300.4,1063.6 L302.2,1065.3 L304.0,1067.5 L305.8,1070.2 L307.6,1073.7 L309.4,1078.6 L311.2,1086.0 L313.0,1098.1 L314.8,1111.9 L316.5,1125.5 L318.3,1138.8 L320.1,1151.8 L321.9,1164.8 L323.7,1177.6 L325.5,1190.3 L327.3,1203.0 L329.1,1215.7 L330.9,1228.5 L332.7,1241.3 L334.5,1254.2 L336.3,1267.3 L338.0,1280.7 L339.8,1294.3 L341.6,1308.3 L343.4,1322.8 L345.2,1337.6 L347.0,1351.6 L348.8,1364.0 L350.6,1374.8 L352.4,1384.3 L354.2,1392.7 L356.0,1400.4 L357.8,1407.4 L359.5,1413.9 L361.3,1420.0 L363.1,1425.6 L364.9,1430.6 L366.7,1434.9 L368.5,1438.6 L370.3,1441.7 L372.1,1444.1 L373.9,1445.9 L375.7,1447.2 L377.5,1448.0 L379.3,1448.4 L381.0,1448.5 L382.8,1448.2 L384.6,1447.7 L386.4,1447.0 L388.2,1446.1 L390.0,1444.9 L391.8,1443.6 L393.6,1442.2 L395.4,1440.5 L397.2,1438.7 L399.0,1436.6 L400.8,1434.4 L402.5,1431.8 L404.3,1428.9 L406.1,1425.7 L407.9,1422.0 L409.7,1417.7 L411.5,1412.8 L413.3,1407.0 L415.1,1400.2 L416.9,1392.0 L418.7,1382.5 L420.5,1372.0 L422.3,1361.7 L424.0,1352.5 L425.8,1344.7 L427.6,1337.9 L429.4,1331.6 L431.2,1325.7 L433.0,1320.0 L434.8,1314.5 L436.6,1308.9 L438.4,1303.3 L440.2,1297.5 L442.0,1291.4 L443.8,1284.9 L445.5,1277.7 L447.3,1269.4 L449.1,1260.3 L450.9,1251.1 L452.7,1242.8 L454.5,1235.6 L456.3,1229.5 L458.1,1224.4 L459.9,1220.0 L461.7,1216.2 L463.5,1212.9 L465.3,1210.0 L467.0,1207.5 L468.8,1205.2 L470.6,1203.3 L472.4,1201.5 L474.2,1199.9 L476.0,1198.5 L477.8,1197.3 L479.6,1196.3 L481.4,1195.5 L483.2,1194.9 L485.0,1194.7 L486.8,1194.9 L488.5,1195.5 L490.3,1196.5 L492.1,1198.1 L493.9,1200.0 L495.7,1202.5 L497.5,1205.4 L499.3,1208.6 L501.1,1212.1 L502.9,1215.7 L504.7,1219.6 L506.5,1223.5 L508.3,1227.7 L510.0,1232.2 L511.8,1236.8 L513.6,1241.7 L515.4,1246.9 L517.2,1252.4 L519.0,1258.3 L520.8,1264.5 L522.6,1271.1 L524.4,1278.1 L526.2,1285.4 L528.0,1293.2 L529.8,1301.2 L531.5,1309.4 L533.3,1317.7 L535.1,1326.0 L536.9,1334.3 L538.7,1342.6 L540.5,1350.9 L542.3,1359.1 L544.1,1367.4 L545.9,1375.7 L547.7,1384.1 L549.5,1392.4 L551.3,1400.8 L553.0,1409.3 L554.8,1417.8 L556.6,1426.4 L558.4,1435.1 L560.2,1443.9 L562.0,1452.8 L563.8,1461.8 L565.6,1471.0 L567.4,1480.3 L569.2,1489.8 L571.0,1499.5 L572.8,1509.5 L574.5,1519.5 L576.3,1527.6 L578.1,1534.7 L579.9,1541.3 L581.7,1547.3 L583.5,1553.1 L585.3,1558.5 L587.1,1563.8 L588.9,1569.0 L590.7,1574.0 L592.5,1578.9 L594.3,1583.7 L596.0,1588.5 L597.8,1593.3 L599.6,1598.1 L601.4,1602.8 L603.2,1607.6 L605.0,1612.5 L606.8,1617.4 L608.6,1622.5 L610.4,1627.6 L612.2,1632.9 L614.0,1638.4 L615.8,1644.0 L617.5,1649.6 L619.3,1655.2 L621.1,1660.7 L622.9,1666.0 L624.7,1671.1 L626.5,1676.0 L628.3,1680.6 L630.1,1685.0 L631.9,1689.1 L633.7,1692.9 L635.5,1696.6 L637.2,1700.0 L639.0,1703.2 L640.8,1706.3 L642.6,1709.1 L644.4,1711.9 L646.2,1714.4 L648.0,1716.9 L649.8,1719.2 L651.6,1721.4 L653.4,1723.6 L655.2,1725.6 L657.0,1727.5 L658.7,1729.3 L660.5,1731.1 L662.3,1732.7 L664.1,1734.3 L665.9,1735.8 L667.7,1737.2 L669.5,1738.6 L671.3,1739.9 L673.1,1741.1 L674.9,1742.3 L676.7,1743.4 L678.5,1744.4 L680.2,1745.4 L682.0,1746.3 L683.8,1747.2 L685.6,1748.0 L687.4,1748.8 L689.2,1749.5 L691.0,1750.2 L692.8,1750.9 L694.6,1751.5 L696.4,1752.1 L698.2,1752.7 L700.0,1753.2 L701.7,1753.7 L703.5,1754.2 L705.3,1754.7 L707.1,1755.2 L708.9,1755.6 L710.7,1756.0 L712.5,1756.5 L714.3,1756.9 L716.1,1757.4 L717.9,1758.0 L719.7,1758.6 L721.5,1759.2 L723.2,1759.8 L725.0,1760.4 L726.8,1760.9 L728.6,1761.3 L730.4,1761.7 L732.2,1762.1 L734.0,1762.6 L735.8,1763.0 L737.6,1763.3 L739.4,1763.7 L741.2,1764.1 L743.0,1764.4 L744.7,1764.8 L746.5,1765.2 L748.3,1765.5 L750.1,1765.9 L751.9,1766.3 L753.7,1766.7 L755.5,1767.1 L757.3,1767.3 L759.1,1767.4 L760.9,1767.6 L762.7,1767.8 L764.5,1767.9 L766.2,1768.1 L768.0,1768.5 L769.8,1768.8 L771.6,1769.2 L773.4,1769.5 L775.2,1769.9 L777.0,1770.2 L778.8,1770.6 L780.6,1770.9 L782.4,1771.2 L784.2,1771.5 L786.0,1771.7 L787.7,1772.0 L789.5,1772.3 L791.3,1772.6 L793.1,1772.9 L794.9,1773.3 L796.7,1773.7 L798.5,1774.1 L800.3,1774.5 L802.1,1774.9 L803.9,1775.2 L805.7,1775.6 L807.5,1776.1 L809.2,1777.1 L811.0,1778.1 L812.8,1778.4 L814.6,1777.0 L816.4,1776.2 L818.2,1776.7 L820.0,1777.3 L821.8,1777.9 L823.6,1778.9 L825.4,1779.8 L827.2,1780.4 L829.0,1778.7 L830.7,1777.4 L832.5,1777.8 L834.3,1778.3 L836.1,1778.7 L837.9,1779.1 L839.7,1779.6 L841.5,1780.0 L843.3,1780.5 L845.1,1780.9 L846.9,1781.0 L848.7,1781.1 L850.5,1781.1 L852.2,1781.2 L854.0,1781.3 L855.8,1781.3 L857.6,1781.4 L859.4,1781.5 L861.2,1781.7 L863.0,1781.8 L864.8,1781.9 L866.6,1782.1 L868.4,1782.2 L870.2,1782.4 L872.0,1782.5 L873.7,1782.4 L875.5,1781.8 L877.3,1781.2 L879.1,1781.5 L880.9,1781.8 L882.7,1782.1 L884.5,1782.4 L886.3,1782.7 L888.1,1783.0 L889.9,1783.2 L891.7,1783.4 L893.5,1783.6 L895.2,1783.9 L897.0,1784.1 L898.8,1784.3 L900.6,1784.5 L902.4,1784.7 L904.2,1784.9 L906.0,1785.1 L907.8,1785.2 L909.6,1785.4 L911.4,1785.6 L913.2,1785.8 L915.0,1786.0 L916.7,1786.1 L918.5,1786.3 L920.3,1786.4 L922.1,1786.5 L923.9,1786.7 L925.7,1786.8 L927.5,1787.0 L929.3,1787.1 L931.1,1787.2 L932.9,1787.3 L934.7,1787.4 L936.5,1787.5 L938.2,1787.6 L940.0,1787.8 L941.8,1788.0 L943.6,1788.1 L945.4,1788.3 L947.2,1788.5 L949.0,1788.7 L950.8,1788.9 L952.6,1789.1 L954.4,1789.3 L956.2,1789.5 L958.0,1789.7 L959.7,1789.9 L961.5,1790.1 L963.3,1790.3 L965.1,1790.5 L966.9,1790.8 L968.7,1791.0 L970.5,1791.2 L972.3,1791.4 L974.1,1791.6 L975.9,1791.8 L977.7,1792.1 L979.5,1792.3 L981.2,1792.4 L983.0,1792.5 L984.8,1792.6 L986.6,1792.7 L988.4,1792.8 L990.2,1792.9 L992.0,1793.0 L993.8,1793.1 L995.6,1793.2 L997.4,1793.2 L999.2,1793.2 L1001.0,1793.3 L1002.7,1793.3 L1004.5,1793.3 L1006.3,1793.4 L1008.1,1793.5 L1009.9,1793.6 L1011.7,1793.7 L1013.5,1793.8 L1015.3,1793.9 L1017.1,1794.0 L1018.9,1794.1 L1020.7,1794.2 L1022.5,1794.2 L1024.2,1794.3 L1026.0,1794.3 L1027.8,1794.3 L1029.6,1794.4 L1031.4,1794.4 L1033.2,1794.4 L1035.0,1794.4 L1036.8,1794.4 L1038.6,1794.4 L1040.4,1794.4 L1042.2,1794.4 L1044.0,1794.4 L1045.7,1794.4 L1047.5,1794.4 L1049.3,1794.4 L1051.1,1794.4 L1052.9,1794.4 L1054.7,1794.4 L1056.5,1793.7 L1058.3,1793.7 L1060.1,1793.6 L1061.9,1793.6 L1063.7,1793.6 L1065.5,1793.5 L1067.2,1793.4 L1069.0,1793.4 L1070.8,1793.3 L1072.6,1793.2 L1074.4,1793.1 L1076.2,1793.0 L1078.0,1792.9 L1079.8,1792.8 L1081.6,1792.7 L1083.4,1792.5 L1085.2,1792.4 L1087.0,1792.2 L1088.7,1792.0 L1090.5,1791.9 L1092.3,1791.7 L1094.1,1791.5 L1095.9,1791.3 L1097.7,1791.1 L1099.5,1790.8 L1101.3,1790.6 L1103.1,1790.4 L1104.9,1790.1 L1106.7,1789.8 L1108.5,1789.5 L1110.2,1789.2 L1112.0,1788.9 L1113.8,1788.6 L1115.6,1788.3 L1117.4,1787.9 L1119.2,1787.6 L1121.0,1787.2 L1122.8,1786.8 L1124.6,1786.4 L1126.4,1786.0 L1128.2,1785.6 L1130.0,1785.1 L1131.7,1784.7 L1133.5,1784.2 L1135.3,1783.7 L1137.1,1783.2 L1138.9,1782.7 L1140.7,1782.1 L1142.5,1781.6 L1144.3,1781.0 L1146.1,1780.4 L1147.9,1779.8 L1149.7,1779.2 L1151.5,1778.5 L1153.2,1777.9 L1155.0,1777.2 L1156.8,1776.5 L1158.6,1775.8 L1160.4,1775.1 L1162.2,1774.3 L1164.0,1773.5 L1165.8,1772.8 L1167.6,1772.0 L1169.4,1771.1 L1171.2,1770.3 L1173.0,1769.4 L1174.7,1768.5 L1176.5,1767.6 L1178.3,1766.7 L1180.1,1765.7 L1181.9,1764.7 L1183.7,1763.7 L1185.5,1762.7 L1187.3,1761.7 L1189.1,1760.6 L1190.9,1759.5 L1192.7,1758.4 L1194.5,1757.2 L1196.2,1756.1 L1198.0,1754.8 L1199.8,1753.6 L1201.6,1752.4 L1203.4,1751.1 L1205.2,1749.7 L1207.0,1748.4 L1208.8,1747.0 L1210.6,1745.6 L1212.4,1744.1 L1214.2,1742.6 L1216.0,1741.1 L1217.7,1739.5 L1219.5,1737.8 L1221.3,1736.2 L1223.1,1734.5 L1224.9,1732.7 L1226.7,1730.9 L1228.5,1729.0 L1230.3,1727.1 L1232.1,1725.1 L1233.9,1723.0 L1235.7,1720.9 L1237.5,1718.7 L1239.2,1716.4 L1241.0,1714.0 L1242.8,1711.6 L1244.6,1709.1 L1246.4,1706.5 L1248.2,1703.8 L1250.0,1701.0 L1251.8,1698.1 L1253.6,1695.2 L1255.4,1692.2 L1257.2,1689.0 L1259.0,1685.8 L1260.7,1682.5 L1262.5,1679.1 L1264.3,1675.6 L1266.1,1672.0 L1267.9,1668.4 L1269.7,1664.6 L1271.5,1660.8 L1273.3,1657.0 L1275.1,1653.1 L1276.9,1649.1 L1278.7,1645.1 L1280.5,1641.0 L1282.2,1637.0 L1284.0,1632.9 L1285.8,1628.9 L1287.6,1624.9 L1289.4,1620.9 L1291.2,1616.9 L1293.0,1613.0 L1294.8,1609.2 L1296.6,1605.4 L1298.4,1601.7 L1300.2,1598.0 L1302.0,1594.5 L1303.7,1591.0 L1305.5,1587.6 L1307.3,1584.3 L1309.1,1581.0 L1310.9,1577.8 L1312.7,1574.5 L1314.5,1571.3 L1316.3,1568.0 L1318.1,1564.6 L1319.9,1561.2 L1321.7,1557.6 L1323.5,1553.9 L1325.2,1550.0 L1327.0,1545.8 L1328.8,1541.3 L1330.6,1536.3 L1332.4,1530.7 L1334.2,1524.5 L1336.0,1517.7 L1337.8,1510.2 L1339.6,1502.2 L1341.4,1493.9 L1343.2,1485.5 L1345.0,1477.1 L1346.7,1468.7 L1348.5,1460.2 L1350.3,1451.6 L1352.1,1442.9 L1353.9,1434.2 L1355.7,1425.2 L1357.5,1416.2 L1359.3,1406.9 L1361.1,1397.5 L1362.9,1387.8 L1364.7,1377.8 L1366.5,1367.5 L1368.2,1356.8 L1370.0,1345.7 L1371.8,1333.9 L1373.6,1321.6 L1375.4,1309.2 L1377.2,1297.1 L1379.0,1285.6 L1380.8,1275.0 L1382.6,1265.2 L1384.4,1256.2 L1386.2,1247.9 L1388.0,1240.4 L1389.7,1233.3 L1391.5,1226.8 L1393.3,1220.7 L1395.1,1215.0 L1396.9,1209.7 L1398.7,1204.6 L1400.5,1199.9 L1402.3,1195.6 L1404.1,1191.9 L1405.9,1188.8 L1407.7,1186.1 L1409.5,1184.0 L1411.2,1182.3 L1413.0,1181.1 L1414.8,1180.2 L1416.6,1180.1 L1418.4,1181.2 L1420.2,1184.1 L1422.0,1187.9 L1423.8,1191.7 L1425.6,1194.6 L1427.4,1196.9 L1429.2,1198.7 L1431.0,1200.1 L1432.7,1201.3 L1434.5,1202.2 L1436.3,1202.9 L1438.1,1203.4 L1439.9,1203.6 L1441.7,1203.5 L1443.5,1203.1 L1445.3,1202.3 L1447.1,1201.0 L1448.9,1199.3 L1450.7,1197.1 L1452.5,1194.5 L1454.2,1191.6 L1456.0,1188.3 L1457.8,1184.6 L1459.6,1180.3 L1461.4,1175.2 L1463.2,1169.0 L1465.0,1161.2 L1466.8,1151.0 L1468.6,1137.4 L1470.4,1122.5 L1472.2,1109.4 L1474.0,1097.4 L1475.7,1085.9 L1477.5,1074.2 L1479.3,1062.2 L1481.1,1049.8 L1482.9,1036.9 L1484.7,1023.5 L1486.5,1009.6 L1488.3,995.1 L1490.1,980.1 L1491.9,964.3 L1493.7,947.9 L1495.5,930.8 L1497.2,912.8 L1499.0,894.0 L1500.8,874.3 L1502.6,853.7 L1504.4,832.2 L1506.2,809.7 L1508.0,787.3 L1509.8,768.1 L1511.6,752.7 L1513.4,740.2 L1515.2,729.7 L1517.0,720.6 L1518.7,712.6 L1520.5,705.5 L1522.3,699.0 L1524.1,693.1 L1525.9,687.6 L1527.7,683.4 L1529.5,682.5 L1531.3,683.7 L1533.1,686.0 L1534.9,689.5 L1536.7,695.6 L1538.4,708.6 L1540.2,723.1 L1542.0,737.9 L1543.8,753.7 L1545.6,771.0 L1547.4,789.9 L1549.2,810.5 L1551.0,833.1 L1552.8,857.4 L1554.6,883.1 L1556.4,910.3 L1558.2,938.9 L1559.9,969.1 L1561.7,1000.8 L1563.5,1033.9 L1565.3,1068.2 L1567.1,1103.6 L1568.9,1139.5 L1570.7,1175.5 L1572.5,1211.2 L1574.3,1246.1 L1576.1,1279.9 L1577.9,1312.3 L1579.7,1343.2 L1581.4,1372.6 L1583.2,1400.5 L1585.0,1427.0 L1586.8,1452.0 L1588.6,1475.8 L1590.4,1498.5 L1592.2,1520.0 L1594.0,1540.5 L1595.8,1560.1 L1597.6,1578.9 L1599.4,1596.9 L1601.2,1614.2 L1602.9,1630.5 L1604.7,1645.5 L1606.5,1659.0 L1608.3,1671.1 L1610.1,1681.9 L1611.9,1691.8 L1613.7,1700.8 L1615.5,1709.1 L1617.3,1716.7 L1619.1,1723.6 L1620.9,1729.9 L1622.7,1735.5 L1624.4,1740.6 L1626.2,1745.3 L1628.0,1749.5 L1629.8,1753.3 L1631.6,1756.8 L1633.4,1760.1 L1635.2,1763.1 L1637.0,1765.9 L1638.8,1768.5 L1640.6,1770.9 L1642.4,1773.1 L1644.2,1775.2 L1645.9,1777.2 L1647.7,1779.0 L1649.5,1780.7 L1651.3,1782.3 L1653.1,1783.7 L1654.9,1785.1 L1656.7,1786.3 L1658.5,1787.4 L1660.3,1788.5 L1662.1,1789.4 L1663.9,1790.3 L1665.7,1791.0 L1667.4,1791.7 L1669.2,1792.3 L1671.0,1792.8 L1672.8,1793.2 L1674.6,1793.5 L1676.4,1793.8 L1678.2,1794.0 L1680.0,1794.1 L1681.8,1794.2 L1683.6,1794.3 L1685.4,1794.3 L1687.2,1794.3 L1688.9,1794.3 L1690.7,1794.4 L1692.5,1794.4 L1694.3,1794.5 L1696.1,1794.6 L1697.9,1794.7 L1699.7,1795.0 L1701.5,1795.3" fill="none" stroke="#ff1024" stroke-width="9" stroke-linejoin="round" stroke-linecap="butt"/></g>
<rect x="460" y="46" width="950" height="746" fill="#fff"/>
<g fill="#000"><rect x="457" y="43" width="6" height="752"/><rect x="1407" y="43" width="6" height="752"/><rect x="457" y="43" width="956" height="5.8"/><rect x="457" y="789.5" width="956" height="5.5"/><rect x="446" y="787.1" width="11" height="6"/><rect x="1396" y="787.1" width="11" height="6"/><rect x="446" y="478.9" width="11" height="6"/><rect x="1396" y="478.9" width="11" height="6"/><rect x="446" y="170.7" width="11" height="6"/><rect x="1396" y="170.7" width="11" height="6"/><rect x="452.5" y="633.0" width="4.5" height="6"/><rect x="1402.5" y="633.0" width="4.5" height="6"/><rect x="452.5" y="324.8" width="4.5" height="6"/><rect x="1402.5" y="324.8" width="4.5" height="6"/><rect x="562.0" y="795" width="6" height="12"/><rect x="562.0" y="48.8" width="6" height="10.8"/><rect x="914.5" y="795" width="6" height="12"/><rect x="914.5" y="48.8" width="6" height="10.8"/><rect x="1267.0" y="795" width="6" height="12"/><rect x="1267.0" y="48.8" width="6" height="10.8"/><rect x="738.2" y="795" width="6" height="5"/><rect x="738.2" y="48.8" width="6" height="4"/><rect x="1090.8" y="795" width="6" height="5"/><rect x="1090.8" y="48.8" width="6" height="4"/></g>
<g style="font-size:63.5px"><text transform="translate(437.5,809.9) scale(1,1.065)" text-anchor="end">0.0</text><text transform="translate(437.5,501.7) scale(1,1.065)" text-anchor="end">0.1</text><text transform="translate(437.5,193.5) scale(1,1.065)" text-anchor="end">0.2</text><text transform="translate(565.5,865.8) scale(1,1.065)" text-anchor="middle">300</text><text transform="translate(918.0,865.8) scale(1,1.065)" text-anchor="middle">350</text><text transform="translate(1270.5,865.8) scale(1,1.065)" text-anchor="middle">400</text></g>
<g clip-path="url(#ic)"><path d="M445.1,-106.4 L446.9,-96.1 L448.7,-85.7 L450.4,-75.2 L452.2,-64.6 L454.0,-54.0 L455.7,-43.3 L457.5,-32.6 L459.2,-21.7 L461.0,-10.8 L462.8,26.1 L464.5,26.1 L466.3,29.0 L468.1,36.0 L469.8,42.8 L471.6,49.6 L473.4,56.2 L475.1,62.8 L476.9,69.3 L478.6,75.7 L480.4,82.0 L482.2,88.2 L483.9,94.4 L485.7,100.5 L487.4,106.6 L489.2,112.7 L491.0,118.7 L492.7,124.6 L494.5,130.5 L496.3,136.4 L498.0,142.3 L499.8,148.1 L501.6,153.9 L503.3,159.7 L505.1,165.5 L506.8,171.3 L508.6,177.1 L510.4,182.8 L512.1,188.6 L513.9,194.3 L515.6,200.1 L517.4,205.9 L519.2,211.6 L520.9,217.4 L522.7,223.2 L524.5,229.0 L526.2,234.9 L528.0,240.7 L529.8,246.6 L531.5,252.5 L533.3,258.5 L535.0,264.4 L536.8,270.5 L538.6,276.5 L540.3,282.6 L542.1,288.8 L543.9,295.0 L545.6,301.3 L547.4,307.6 L549.1,313.9 L550.9,320.2 L552.7,326.6 L554.4,332.9 L556.2,339.3 L558.0,345.7 L559.7,352.0 L561.5,358.3 L563.2,364.7 L565.0,370.9 L566.8,377.2 L568.5,383.4 L570.3,389.6 L572.0,395.7 L573.8,401.7 L575.6,407.7 L577.3,413.7 L579.1,419.5 L580.9,425.3 L582.6,431.1 L584.4,436.7 L586.1,442.3 L587.9,447.8 L589.7,453.2 L591.4,458.6 L593.2,463.9 L595.0,469.1 L596.7,474.2 L598.5,479.2 L600.2,484.2 L602.0,489.0 L603.8,493.9 L605.5,498.6 L607.3,503.2 L609.1,507.8 L610.8,512.3 L612.6,516.8 L614.4,521.1 L616.1,525.4 L617.9,529.7 L619.6,533.8 L621.4,537.9 L623.2,541.9 L624.9,545.9 L626.7,549.8 L628.5,553.7 L630.2,557.4 L632.0,561.2 L633.7,564.8 L635.5,568.4 L637.3,572.0 L639.0,575.5 L640.8,578.9 L642.5,582.3 L644.3,585.7 L646.1,588.9 L647.8,592.2 L649.6,595.4 L651.4,598.5 L653.1,601.6 L654.9,604.7 L656.6,607.7 L658.4,610.6 L660.2,613.6 L661.9,616.4 L663.7,619.3 L665.5,622.1 L667.2,624.8 L669.0,627.5 L670.8,630.2 L672.5,632.9 L674.3,635.5 L676.0,638.0 L677.8,640.6 L679.6,643.1 L681.3,645.5 L683.1,647.9 L684.9,650.3 L686.6,652.7 L688.4,655.0 L690.1,657.3 L691.9,659.6 L693.7,661.8 L695.4,664.1 L697.2,666.2 L699.0,668.4 L700.7,670.5 L702.5,672.6 L704.2,674.7 L706.0,676.7 L707.8,678.7 L709.5,680.7 L711.3,682.7 L713.0,684.6 L714.8,686.5 L716.6,688.4 L718.3,690.3 L720.1,692.1 L721.9,693.9 L723.6,695.7 L725.4,697.5 L727.1,699.2 L728.9,701.0 L730.7,702.7 L732.4,704.4 L734.2,706.0 L736.0,707.7 L737.7,709.3 L739.5,710.9 L741.2,712.3 L743.0,713.7 L744.8,715.0 L746.5,716.4 L748.3,717.8 L750.1,719.2 L751.8,720.6 L753.6,722.0 L755.4,723.4 L757.1,724.8 L758.9,726.2 L760.6,727.3 L762.4,728.1 L764.2,728.9 L765.9,729.7 L767.7,730.5 L769.5,731.3 L771.2,732.1 L773.0,732.9 L774.7,733.7 L776.5,734.5 L778.3,735.3 L780.0,736.0 L781.8,736.6 L783.5,737.2 L785.3,737.8 L787.1,738.4 L788.8,739.0 L790.6,739.5 L792.4,740.1 L794.1,740.7 L795.9,741.3 L797.6,741.9 L799.4,742.5 L801.2,743.1 L802.9,743.8 L804.7,744.5 L806.5,745.2 L808.2,745.8 L810.0,746.5 L811.8,747.2 L813.5,747.9 L815.3,748.5 L817.0,749.2 L818.8,749.9 L820.6,750.3 L822.3,750.5 L824.1,750.7 L825.8,751.0 L827.6,751.2 L829.4,751.5 L831.1,751.7 L832.9,751.9 L834.7,752.2 L836.4,752.4 L838.2,752.6 L840.0,752.9 L841.7,753.1 L843.5,753.4 L845.2,753.6 L847.0,753.9 L848.8,754.2 L850.5,754.4 L852.3,754.8 L854.0,755.5 L855.8,756.2 L857.6,756.9 L859.3,757.6 L861.1,758.3 L862.9,759.0 L864.6,759.7 L866.4,760.2 L868.1,760.3 L869.9,760.5 L871.7,760.7 L873.4,760.9 L875.2,761.1 L877.0,761.2 L878.7,761.4 L880.5,761.9 L882.2,762.6 L884.0,763.3 L885.8,764.0 L887.5,764.7 L889.3,765.4 L891.1,766.1 L892.8,766.8 L894.6,767.5 L896.3,768.3 L898.1,769.0 L899.9,769.7 L901.6,769.4 L903.4,768.9 L905.2,768.4 L906.9,767.8 L908.7,767.3 L910.5,767.4 L912.2,768.5 L914.0,769.6 L915.7,770.6 L917.5,771.7 L919.3,772.8 L921.0,773.9 L922.8,774.9 L924.5,776.0 L926.3,777.1 L928.1,777.8 L929.8,776.8 L931.6,775.8 L933.4,774.8 L935.1,773.8 L936.9,772.8 L938.6,773.0 L940.4,773.6 L942.2,774.3 L943.9,775.0 L945.7,775.6 L947.5,776.3 L949.2,777.3 L951.0,778.7 L952.8,780.0 L954.5,781.4 L956.3,782.8 L958.0,784.2 L959.8,784.6 L961.6,782.5 L963.3,780.4 L965.1,778.3 L966.8,777.1 L968.6,777.3 L970.4,777.6 L972.1,777.8 L973.9,778.1 L975.7,778.3 L977.4,778.6 L979.2,778.8 L981.0,779.1 L982.7,779.3 L984.5,779.6 L986.2,779.8 L988.0,780.1 L989.8,780.3 L991.5,780.6 L993.3,780.8 L995.0,781.1 L996.8,781.3 L998.6,781.6 L1000.3,781.9 L1002.1,782.1 L1003.9,782.4 L1005.6,782.6 L1007.4,782.9 L1009.1,783.2 L1010.9,783.4 L1012.7,783.7 L1014.4,784.0 L1016.2,784.2 L1018.0,784.5 L1019.7,784.7 L1021.5,785.0 L1023.2,785.2 L1025.0,785.3 L1026.8,785.4 L1028.5,785.5 L1030.3,785.6 L1032.1,785.7 L1033.8,785.8 L1035.6,785.8 L1037.3,785.9 L1039.1,786.0 L1040.9,786.1 L1042.6,786.2 L1044.4,786.3 L1046.2,786.4 L1047.9,786.5 L1049.7,786.6 L1051.5,786.5 L1053.2,786.3 L1055.0,786.1 L1056.7,785.8 L1058.5,785.6 L1060.3,785.4 L1062.0,785.2 L1063.8,785.0 L1065.5,784.8 L1067.3,784.6 L1069.1,784.4 L1070.8,784.2 L1072.6,784.0 L1074.4,783.8 L1076.1,783.6 L1077.9,783.3 L1079.7,783.1 L1081.4,782.9 L1083.2,782.7 L1084.9,782.5 L1086.7,782.9 L1088.5,783.3 L1090.2,783.7 L1092.0,784.1 L1093.8,784.5 L1095.5,784.9 L1097.3,785.3 L1099.0,785.7 L1100.8,786.0 L1102.6,786.4 L1104.3,786.8 L1106.1,787.2 L1107.8,787.6 L1109.6,788.0 L1111.4,788.4 L1113.1,788.7 L1114.9,788.7 L1116.7,788.6 L1118.4,788.6 L1120.2,788.6 L1121.9,788.6 L1123.7,788.5 L1125.5,788.5 L1127.2,788.5 L1129.0,788.5 L1130.8,788.4 L1132.5,788.4 L1134.3,788.4 L1136.0,788.4 L1137.8,788.3 L1139.6,788.3 L1141.3,788.3 L1143.1,788.3 L1144.9,788.2 L1146.6,788.2 L1148.4,788.2 L1150.2,788.2 L1151.9,788.1 L1153.7,788.1 L1155.4,788.1 L1157.2,788.1 L1159.0,788.0 L1160.7,788.0 L1162.5,788.0 L1164.2,788.1 L1166.0,788.1 L1167.8,788.1 L1169.5,788.1 L1171.3,788.2 L1173.1,788.2 L1174.8,788.2 L1176.6,788.2 L1178.3,788.3 L1180.1,788.3 L1181.9,788.3 L1183.6,788.3 L1185.4,788.4 L1187.2,788.4 L1188.9,788.4 L1190.7,788.4 L1192.4,788.5 L1194.2,788.5 L1196.0,788.5 L1197.7,788.5 L1199.5,788.6 L1201.3,788.6 L1203.0,788.6 L1204.8,788.6 L1206.5,788.7 L1208.3,788.7 L1210.1,788.7 L1211.8,788.7 L1213.6,788.7 L1215.4,788.8 L1217.1,788.8 L1218.9,788.8 L1220.7,788.8 L1222.4,788.9 L1224.2,788.9 L1225.9,788.9 L1227.7,788.9 L1229.5,789.0 L1231.2,789.0 L1233.0,789.0 L1234.8,789.0 L1236.5,789.0 L1238.3,789.0 L1240.0,789.0 L1241.8,789.0 L1243.6,789.0 L1245.3,789.0 L1247.1,789.0 L1248.8,789.0 L1250.6,789.0 L1252.4,789.0 L1254.1,789.0 L1255.9,789.0 L1257.7,789.0 L1259.4,789.0 L1261.2,789.0 L1262.9,789.0 L1264.7,789.0 L1266.5,789.0 L1268.2,789.0 L1270.0,789.0 L1271.8,789.0 L1273.5,789.0 L1275.3,789.0 L1277.0,789.0 L1278.8,789.0 L1280.6,789.0 L1282.3,789.0 L1284.1,789.0 L1285.9,789.0 L1287.6,788.8 L1289.4,788.5 L1291.2,788.2 L1292.9,788.0 L1294.7,787.7 L1296.4,787.4 L1298.2,787.2 L1300.0,786.9 L1301.7,786.6 L1303.5,786.4 L1305.2,786.1 L1307.0,785.8 L1308.8,785.6 L1310.5,785.3 L1312.3,785.0 L1314.1,785.0 L1315.8,785.0 L1317.6,785.1 L1319.3,785.1 L1321.1,785.1 L1322.9,785.1 L1324.6,785.2 L1326.4,785.2 L1328.2,785.2 L1329.9,785.2 L1331.7,785.3 L1333.4,785.3 L1335.2,785.3 L1337.0,785.3 L1338.7,785.3 L1340.5,785.4 L1342.3,785.4 L1344.0,785.4 L1345.8,785.4 L1347.5,785.5 L1349.3,785.5 L1351.1,785.5 L1352.8,785.5 L1354.6,785.6 L1356.4,785.6 L1358.1,785.6 L1359.9,785.6 L1361.7,785.6 L1363.4,785.7 L1365.2,785.7 L1366.9,785.7 L1368.7,785.6 L1370.5,785.5 L1372.2,785.5 L1374.0,785.4 L1375.8,785.4 L1377.5,785.3 L1379.3,785.2 L1381.0,785.2 L1382.8,785.1 L1384.6,785.1 L1386.3,785.0 L1388.1,784.9 L1389.8,784.9 L1391.6,784.8 L1393.4,784.8 L1395.1,784.7 L1396.9,784.6 L1398.7,784.6 L1400.4,784.5 L1402.2,784.5 L1403.9,784.4 L1405.7,784.3 L1407.5,784.3 L1409.2,775.9 L1411.0,775.9" fill="none" stroke="#037421" stroke-width="6" stroke-linejoin="round" stroke-linecap="butt"/><path d="M445.1,-78.6 L446.9,-68.8 L448.7,-58.9 L450.4,-49.0 L452.2,-39.0 L454.0,-28.1 L455.7,-17.0 L457.5,-5.9 L459.2,5.3 L461.0,16.7 L462.8,46.9 L464.5,49.7 L466.3,54.4 L468.1,61.9 L469.8,69.2 L471.6,76.3 L473.4,83.3 L475.1,90.1 L476.9,96.8 L478.6,103.4 L480.4,109.9 L482.2,116.3 L483.9,122.6 L485.7,128.9 L487.4,135.0 L489.2,141.2 L491.0,147.2 L492.7,153.2 L494.5,159.2 L496.3,165.1 L498.0,171.0 L499.8,176.9 L501.6,182.8 L503.3,188.6 L505.1,194.4 L506.8,200.2 L508.6,206.0 L510.4,211.8 L512.1,217.5 L513.9,223.3 L515.6,229.1 L517.4,234.9 L519.2,240.7 L520.9,246.5 L522.7,252.4 L524.5,258.3 L526.2,264.2 L528.0,270.1 L529.8,276.1 L531.5,282.1 L533.3,288.1 L535.0,294.2 L536.8,300.4 L538.6,306.6 L540.3,312.9 L542.1,319.3 L543.9,325.7 L545.6,332.1 L547.4,338.6 L549.1,345.0 L550.9,351.5 L552.7,358.0 L554.4,364.4 L556.2,370.8 L558.0,377.2 L559.7,383.6 L561.5,389.9 L563.2,396.1 L565.0,402.3 L566.8,408.4 L568.5,414.4 L570.3,420.4 L572.0,426.3 L573.8,432.1 L575.6,437.8 L577.3,443.4 L579.1,449.0 L580.9,454.4 L582.6,459.8 L584.4,465.1 L586.1,470.3 L587.9,475.4 L589.7,480.4 L591.4,485.3 L593.2,490.2 L595.0,494.9 L596.7,499.6 L598.5,504.2 L600.2,508.7 L602.0,513.1 L603.8,517.5 L605.5,521.8 L607.3,526.0 L609.1,530.1 L610.8,534.2 L612.6,538.1 L614.4,542.1 L616.1,545.9 L617.9,549.7 L619.6,553.4 L621.4,557.0 L623.2,560.6 L624.9,564.1 L626.7,567.6 L628.5,571.0 L630.2,574.3 L632.0,577.6 L633.7,580.9 L635.5,584.0 L637.3,587.2 L639.0,590.2 L640.8,593.2 L642.5,596.2 L644.3,599.1 L646.1,602.0 L647.8,604.8 L649.6,607.6 L651.4,610.3 L653.1,613.0 L654.9,615.6 L656.6,618.2 L658.4,620.8 L660.2,623.3 L661.9,625.8 L663.7,628.2 L665.5,630.6 L667.2,632.9 L669.0,635.3 L670.8,637.5 L672.5,639.8 L674.3,642.0 L676.0,644.2 L677.8,646.3 L679.6,648.4 L681.3,650.5 L683.1,652.5 L684.9,654.5 L686.6,656.5 L688.4,658.4 L690.1,660.3 L691.9,662.2 L693.7,664.1 L695.4,666.0 L697.2,667.8 L699.0,669.6 L700.7,671.3 L702.5,673.0 L704.2,674.6 L706.0,676.2 L707.8,677.8 L709.5,679.3 L711.3,680.7 L713.0,682.2 L714.8,683.6 L716.6,684.9 L718.3,686.2 L720.1,687.5 L721.9,688.8 L723.6,690.0 L725.4,691.1 L727.1,692.3 L728.9,693.4 L730.7,694.5 L732.4,695.5 L734.2,696.5 L736.0,697.5 L737.7,698.5 L739.5,699.4 L741.2,700.2 L743.0,701.1 L744.8,702.0 L746.5,702.9 L748.3,703.8 L750.1,704.8 L751.8,705.9 L753.6,706.9 L755.4,708.0 L757.1,709.1 L758.9,710.1 L760.6,711.0 L762.4,711.7 L764.2,712.3 L765.9,713.0 L767.7,713.7 L769.5,714.3 L771.2,715.0 L773.0,715.7 L774.7,716.3 L776.5,717.0 L778.3,717.6 L780.0,718.3 L781.8,718.8 L783.5,719.3 L785.3,719.8 L787.1,720.3 L788.8,720.8 L790.6,721.4 L792.4,721.9 L794.1,722.4 L795.9,722.9 L797.6,723.4 L799.4,723.9 L801.2,724.5 L802.9,725.1 L804.7,725.6 L806.5,726.2 L808.2,726.8 L810.0,727.3 L811.8,727.9 L813.5,728.5 L815.3,729.1 L817.0,729.6 L818.8,730.2 L820.6,730.5 L822.3,730.8 L824.1,731.0 L825.8,731.2 L827.6,731.4 L829.4,731.7 L831.1,731.9 L832.9,732.1 L834.7,732.3 L836.4,732.5 L838.2,732.8 L840.0,733.0 L841.7,733.4 L843.5,733.7 L845.2,734.0 L847.0,734.4 L848.8,734.7 L850.5,735.1 L852.3,735.5 L854.0,736.0 L855.8,736.6 L857.6,737.1 L859.3,737.7 L861.1,738.3 L862.9,738.8 L864.6,739.4 L866.4,739.9 L868.1,740.1 L869.9,740.4 L871.7,740.6 L873.4,740.9 L875.2,741.2 L877.0,741.4 L878.7,741.7 L880.5,742.1 L882.2,742.7 L884.0,743.2 L885.8,743.7 L887.5,744.2 L889.3,744.8 L891.1,745.3 L892.8,745.8 L894.6,746.4 L896.3,747.0 L898.1,747.6 L899.9,748.2 L901.6,748.3 L903.4,748.3 L905.2,748.3 L906.9,748.2 L908.7,748.2 L910.5,748.5 L912.2,749.3 L914.0,750.1 L915.7,750.9 L917.5,751.6 L919.3,752.4 L921.0,753.2 L922.8,754.4 L924.5,755.6 L926.3,756.7 L928.1,757.7 L929.8,757.9 L931.6,757.1 L933.4,755.7 L935.1,754.3 L936.9,752.9 L938.6,753.0 L940.4,753.6 L942.2,754.3 L943.9,754.9 L945.7,755.6 L947.5,756.3 L949.2,757.2 L951.0,758.5 L952.8,759.7 L954.5,761.0 L956.3,762.3 L958.0,763.6 L959.8,763.9 L961.6,761.8 L963.3,759.7 L965.1,757.6 L966.8,756.4 L968.6,756.8 L970.4,757.2 L972.1,757.6 L973.9,758.0 L975.7,758.4 L977.4,758.8 L979.2,759.2 L981.0,759.6 L982.7,760.0 L984.5,760.4 L986.2,760.8 L988.0,761.2 L989.8,761.6 L991.5,762.0 L993.3,762.4 L995.0,762.8 L996.8,763.0 L998.6,763.1 L1000.3,763.3 L1002.1,763.5 L1003.9,763.7 L1005.6,763.8 L1007.4,764.0 L1009.1,764.2 L1010.9,764.4 L1012.7,764.5 L1014.4,764.7 L1016.2,764.9 L1018.0,765.1 L1019.7,765.2 L1021.5,765.4 L1023.2,765.6 L1025.0,765.7 L1026.8,765.9 L1028.5,766.0 L1030.3,766.1 L1032.1,766.3 L1033.8,766.4 L1035.6,766.5 L1037.3,766.7 L1039.1,766.8 L1040.9,766.9 L1042.6,767.1 L1044.4,767.2 L1046.2,767.3 L1047.9,767.5 L1049.7,767.6 L1051.5,767.4 L1053.2,766.9 L1055.0,766.4 L1056.7,765.9 L1058.5,765.5 L1060.3,765.5 L1062.0,765.6 L1063.8,765.7 L1065.5,765.7 L1067.3,765.8 L1069.1,765.9 L1070.8,766.0 L1072.6,766.1 L1074.4,766.2 L1076.1,766.3 L1077.9,766.4 L1079.7,766.4 L1081.4,766.4 L1083.2,766.4 L1084.9,766.5 L1086.7,766.8 L1088.5,767.1 L1090.2,767.4 L1092.0,767.8 L1093.8,768.1 L1095.5,768.4 L1097.3,768.8 L1099.0,769.1 L1100.8,769.4 L1102.6,769.7 L1104.3,770.1 L1106.1,770.4 L1107.8,770.7 L1109.6,771.0 L1111.4,771.3 L1113.1,771.6 L1114.9,771.7 L1116.7,771.8 L1118.4,771.9 L1120.2,772.0 L1121.9,772.1 L1123.7,772.2 L1125.5,772.3 L1127.2,772.4 L1129.0,772.5 L1130.8,772.6 L1132.5,772.7 L1134.3,772.7 L1136.0,772.8 L1137.8,772.9 L1139.6,773.0 L1141.3,773.0 L1143.1,773.1 L1144.9,773.2 L1146.6,773.3 L1148.4,773.3 L1150.2,773.4 L1151.9,773.5 L1153.7,773.5 L1155.4,773.6 L1157.2,773.7 L1159.0,773.8 L1160.7,773.8 L1162.5,773.9 L1164.2,774.0 L1166.0,774.1 L1167.8,774.2 L1169.5,774.2 L1171.3,774.3 L1173.1,774.4 L1174.8,774.5 L1176.6,774.5 L1178.3,774.6 L1180.1,774.7 L1181.9,774.8 L1183.6,775.0 L1185.4,775.1 L1187.2,775.2 L1188.9,775.3 L1190.7,775.5 L1192.4,775.6 L1194.2,775.7 L1196.0,775.8 L1197.7,776.0 L1199.5,776.1 L1201.3,776.2 L1203.0,776.3 L1204.8,776.5 L1206.5,776.6 L1208.3,776.7 L1210.1,776.9 L1211.8,777.0 L1213.6,777.1 L1215.4,777.3 L1217.1,777.4 L1218.9,777.6 L1220.7,777.7 L1222.4,777.9 L1224.2,778.0 L1225.9,778.1 L1227.7,778.3 L1229.5,778.4 L1231.2,778.6 L1233.0,778.7 L1234.8,778.8 L1236.5,779.0 L1238.3,779.1 L1240.0,779.2 L1241.8,779.4 L1243.6,779.5 L1245.3,779.6 L1247.1,779.8 L1248.8,779.9 L1250.6,780.0 L1252.4,780.2 L1254.1,780.3 L1255.9,780.4 L1257.7,780.6 L1259.4,780.7 L1261.2,780.8 L1262.9,780.8 L1264.7,780.9 L1266.5,781.0 L1268.2,781.0 L1270.0,781.1 L1271.8,781.2 L1273.5,781.2 L1275.3,781.3 L1277.0,781.4 L1278.8,781.4 L1280.6,781.5 L1282.3,781.6 L1284.1,781.6 L1285.9,781.7 L1287.6,781.6 L1289.4,781.5 L1291.2,781.4 L1292.9,781.3 L1294.7,781.2 L1296.4,781.1 L1298.2,780.9 L1300.0,780.8 L1301.7,780.7 L1303.5,780.6 L1305.2,780.5 L1307.0,780.4 L1308.8,780.3 L1310.5,780.2 L1312.3,780.1 L1314.1,780.1 L1315.8,780.2 L1317.6,780.3 L1319.3,780.3 L1321.1,780.4 L1322.9,780.5 L1324.6,780.6 L1326.4,780.6 L1328.2,780.7 L1329.9,780.8 L1331.7,780.9 L1333.4,780.9 L1335.2,781.0 L1337.0,781.1 L1338.7,781.2 L1340.5,781.2 L1342.3,781.2 L1344.0,781.3 L1345.8,781.3 L1347.5,781.3 L1349.3,781.4 L1351.1,781.4 L1352.8,781.4 L1354.6,781.5 L1356.4,781.5 L1358.1,781.6 L1359.9,781.6 L1361.7,781.6 L1363.4,781.7 L1365.2,781.7 L1366.9,781.7 L1368.7,781.6 L1370.5,781.6 L1372.2,781.6 L1374.0,781.6 L1375.8,781.5 L1377.5,781.5 L1379.3,781.5 L1381.0,781.4 L1382.8,781.4 L1384.6,781.4 L1386.3,781.4 L1388.1,781.3 L1389.8,781.3 L1391.6,781.3 L1393.4,781.2 L1395.1,781.2 L1396.9,781.2 L1398.7,781.1 L1400.4,781.1 L1402.2,781.1 L1403.9,781.1 L1405.7,781.0 L1407.5,781.0 L1409.2,775.9 L1411.0,775.9" fill="none" stroke="#8ea60e" stroke-width="6" stroke-linejoin="round" stroke-linecap="butt"/><path d="M445.1,-59.4 L446.9,-48.5 L448.7,-37.5 L450.4,-26.4 L452.2,-15.3 L454.0,-4.0 L455.7,7.3 L457.5,18.8 L459.2,30.4 L461.0,42.1 L462.8,66.1 L464.5,71.5 L466.3,77.9 L468.1,85.9 L469.8,93.6 L471.6,101.1 L473.4,108.4 L475.1,115.4 L476.9,122.4 L478.6,129.1 L480.4,135.8 L482.2,142.3 L483.9,148.7 L485.7,155.1 L487.4,161.3 L489.2,167.5 L491.0,173.7 L492.7,179.7 L494.5,185.7 L496.3,191.7 L498.0,197.7 L499.8,203.6 L501.6,209.4 L503.3,215.3 L505.1,221.1 L506.8,226.9 L508.6,232.8 L510.4,238.6 L512.1,244.4 L513.9,250.2 L515.6,256.0 L517.4,261.8 L519.2,267.7 L520.9,273.5 L522.7,279.4 L524.5,285.3 L526.2,291.3 L528.0,297.3 L529.8,303.3 L531.5,309.4 L533.3,315.6 L535.0,321.8 L536.8,328.1 L538.6,334.5 L540.3,341.0 L542.1,347.5 L543.9,354.0 L545.6,360.6 L547.4,367.2 L549.1,373.9 L550.9,380.5 L552.7,387.0 L554.4,393.6 L556.2,400.1 L558.0,406.5 L559.7,412.8 L561.5,419.1 L563.2,425.3 L565.0,431.3 L566.8,437.3 L568.5,443.2 L570.3,449.0 L572.0,454.6 L573.8,460.2 L575.6,465.6 L577.3,471.0 L579.1,476.2 L580.9,481.4 L582.6,486.4 L584.4,491.3 L586.1,496.2 L587.9,500.9 L589.7,505.5 L591.4,510.1 L593.2,514.5 L595.0,518.9 L596.7,523.2 L598.5,527.3 L600.2,531.4 L602.0,535.4 L603.8,539.4 L605.5,543.2 L607.3,547.0 L609.1,550.7 L610.8,554.4 L612.6,557.9 L614.4,561.4 L616.1,564.8 L617.9,568.2 L619.6,571.5 L621.4,574.7 L623.2,577.9 L624.9,581.0 L626.7,584.1 L628.5,587.1 L630.2,590.0 L632.0,592.9 L633.7,595.7 L635.5,598.5 L637.3,601.2 L639.0,603.9 L640.8,606.5 L642.5,609.1 L644.3,611.6 L646.1,614.1 L647.8,616.5 L649.6,618.9 L651.4,621.2 L653.1,623.5 L654.9,625.8 L656.6,628.0 L658.4,630.2 L660.2,632.3 L661.9,634.4 L663.7,636.5 L665.5,638.5 L667.2,640.5 L669.0,642.4 L670.8,644.3 L672.5,646.2 L674.3,648.0 L676.0,649.8 L677.8,651.6 L679.6,653.3 L681.3,655.0 L683.1,656.7 L684.9,658.3 L686.6,659.9 L688.4,661.5 L690.1,663.1 L691.9,664.6 L693.7,666.1 L695.4,667.7 L697.2,669.1 L699.0,670.5 L700.7,671.9 L702.5,673.3 L704.2,674.6 L706.0,675.8 L707.8,677.1 L709.5,678.3 L711.3,679.4 L713.0,680.5 L714.8,681.6 L716.6,682.7 L718.3,683.7 L720.1,684.7 L721.9,685.7 L723.6,686.6 L725.4,687.5 L727.1,688.4 L728.9,689.2 L730.7,690.1 L732.4,690.9 L734.2,691.6 L736.0,692.4 L737.7,693.1 L739.5,693.8 L741.2,694.5 L743.0,695.3 L744.8,696.1 L746.5,696.8 L748.3,697.6 L750.1,698.5 L751.8,699.4 L753.6,700.3 L755.4,701.2 L757.1,702.2 L758.9,703.1 L760.6,703.9 L762.4,704.5 L764.2,705.1 L765.9,705.7 L767.7,706.3 L769.5,706.9 L771.2,707.5 L773.0,708.1 L774.7,708.7 L776.5,709.3 L778.3,709.9 L780.0,710.5 L781.8,710.9 L783.5,711.4 L785.3,711.9 L787.1,712.4 L788.8,712.9 L790.6,713.4 L792.4,713.8 L794.1,714.3 L795.9,714.8 L797.6,715.3 L799.4,715.8 L801.2,716.3 L802.9,716.8 L804.7,717.3 L806.5,717.9 L808.2,718.4 L810.0,718.9 L811.8,719.4 L813.5,720.0 L815.3,720.5 L817.0,721.0 L818.8,721.6 L820.6,721.9 L822.3,722.1 L824.1,722.3 L825.8,722.5 L827.6,722.7 L829.4,722.9 L831.1,723.2 L832.9,723.4 L834.7,723.6 L836.4,723.8 L838.2,724.0 L840.0,724.3 L841.7,724.7 L843.5,725.0 L845.2,725.4 L847.0,725.8 L848.8,726.2 L850.5,726.6 L852.3,727.0 L854.0,727.5 L855.8,728.0 L857.6,728.5 L859.3,729.0 L861.1,729.5 L862.9,730.0 L864.6,730.5 L866.4,730.9 L868.1,731.2 L869.9,731.5 L871.7,731.8 L873.4,732.1 L875.2,732.4 L877.0,732.7 L878.7,733.0 L880.5,733.4 L882.2,733.9 L884.0,734.3 L885.8,734.8 L887.5,735.2 L889.3,735.7 L891.1,736.1 L892.8,736.6 L894.6,737.1 L896.3,737.6 L898.1,738.2 L899.9,738.7 L901.6,739.0 L903.4,739.2 L905.2,739.4 L906.9,739.6 L908.7,739.8 L910.5,740.2 L912.2,740.9 L914.0,741.5 L915.7,742.2 L917.5,742.8 L919.3,743.5 L921.0,744.1 L922.8,745.4 L924.5,746.6 L926.3,747.8 L928.1,748.9 L929.8,749.5 L931.6,748.8 L933.4,747.3 L935.1,745.7 L936.9,744.2 L938.6,744.2 L940.4,744.8 L942.2,745.5 L943.9,746.1 L945.7,746.8 L947.5,747.4 L949.2,748.3 L951.0,749.6 L952.8,750.8 L954.5,752.0 L956.3,753.3 L958.0,754.5 L959.8,754.8 L961.6,752.7 L963.3,750.6 L965.1,748.5 L966.8,747.4 L968.6,747.8 L970.4,748.3 L972.1,748.7 L973.9,749.2 L975.7,749.7 L977.4,750.1 L979.2,750.6 L981.0,751.0 L982.7,751.5 L984.5,752.0 L986.2,752.4 L988.0,752.9 L989.8,753.3 L991.5,753.8 L993.3,754.2 L995.0,754.7 L996.8,754.9 L998.6,755.0 L1000.3,755.1 L1002.1,755.3 L1003.9,755.4 L1005.6,755.6 L1007.4,755.7 L1009.1,755.8 L1010.9,756.0 L1012.7,756.1 L1014.4,756.3 L1016.2,756.4 L1018.0,756.5 L1019.7,756.7 L1021.5,756.8 L1023.2,756.9 L1025.0,757.1 L1026.8,757.3 L1028.5,757.4 L1030.3,757.6 L1032.1,757.7 L1033.8,757.9 L1035.6,758.0 L1037.3,758.2 L1039.1,758.3 L1040.9,758.5 L1042.6,758.6 L1044.4,758.8 L1046.2,758.9 L1047.9,759.1 L1049.7,759.2 L1051.5,759.0 L1053.2,758.4 L1055.0,757.8 L1056.7,757.2 L1058.5,756.6 L1060.3,756.7 L1062.0,756.9 L1063.8,757.1 L1065.5,757.4 L1067.3,757.6 L1069.1,757.8 L1070.8,758.0 L1072.6,758.2 L1074.4,758.5 L1076.1,758.7 L1077.9,758.9 L1079.7,759.0 L1081.4,759.2 L1083.2,759.3 L1084.9,759.4 L1086.7,759.7 L1088.5,760.0 L1090.2,760.3 L1092.0,760.6 L1093.8,760.9 L1095.5,761.2 L1097.3,761.5 L1099.0,761.8 L1100.8,762.1 L1102.6,762.4 L1104.3,762.7 L1106.1,763.0 L1107.8,763.3 L1109.6,763.5 L1111.4,763.8 L1113.1,764.0 L1114.9,764.2 L1116.7,764.3 L1118.4,764.5 L1120.2,764.6 L1121.9,764.8 L1123.7,765.0 L1125.5,765.1 L1127.2,765.3 L1129.0,765.4 L1130.8,765.6 L1132.5,765.7 L1134.3,765.9 L1136.0,766.0 L1137.8,766.1 L1139.6,766.2 L1141.3,766.3 L1143.1,766.4 L1144.9,766.6 L1146.6,766.7 L1148.4,766.8 L1150.2,766.9 L1151.9,767.0 L1153.7,767.1 L1155.4,767.3 L1157.2,767.4 L1159.0,767.5 L1160.7,767.6 L1162.5,767.7 L1164.2,767.8 L1166.0,767.9 L1167.8,768.0 L1169.5,768.1 L1171.3,768.2 L1173.1,768.3 L1174.8,768.4 L1176.6,768.5 L1178.3,768.6 L1180.1,768.7 L1181.9,768.9 L1183.6,769.1 L1185.4,769.2 L1187.2,769.4 L1188.9,769.6 L1190.7,769.7 L1192.4,769.9 L1194.2,770.1 L1196.0,770.3 L1197.7,770.4 L1199.5,770.6 L1201.3,770.8 L1203.0,770.9 L1204.8,771.1 L1206.5,771.3 L1208.3,771.5 L1210.1,771.7 L1211.8,771.8 L1213.6,772.0 L1215.4,772.2 L1217.1,772.4 L1218.9,772.6 L1220.7,772.8 L1222.4,773.0 L1224.2,773.2 L1225.9,773.4 L1227.7,773.6 L1229.5,773.8 L1231.2,774.0 L1233.0,774.2 L1234.8,774.4 L1236.5,774.5 L1238.3,774.7 L1240.0,774.9 L1241.8,775.1 L1243.6,775.3 L1245.3,775.5 L1247.1,775.7 L1248.8,775.9 L1250.6,776.1 L1252.4,776.3 L1254.1,776.5 L1255.9,776.7 L1257.7,776.8 L1259.4,777.0 L1261.2,777.1 L1262.9,777.2 L1264.7,777.3 L1266.5,777.4 L1268.2,777.5 L1270.0,777.6 L1271.8,777.7 L1273.5,777.8 L1275.3,777.9 L1277.0,778.0 L1278.8,778.1 L1280.6,778.2 L1282.3,778.3 L1284.1,778.4 L1285.9,778.5 L1287.6,778.5 L1289.4,778.4 L1291.2,778.4 L1292.9,778.3 L1294.7,778.3 L1296.4,778.2 L1298.2,778.2 L1300.0,778.2 L1301.7,778.1 L1303.5,778.1 L1305.2,778.0 L1307.0,778.0 L1308.8,778.0 L1310.5,777.9 L1312.3,777.9 L1314.1,778.0 L1315.8,778.1 L1317.6,778.2 L1319.3,778.3 L1321.1,778.3 L1322.9,778.4 L1324.6,778.5 L1326.4,778.6 L1328.2,778.7 L1329.9,778.8 L1331.7,778.9 L1333.4,779.0 L1335.2,779.1 L1337.0,779.2 L1338.7,779.3 L1340.5,779.4 L1342.3,779.4 L1344.0,779.5 L1345.8,779.5 L1347.5,779.5 L1349.3,779.6 L1351.1,779.6 L1352.8,779.7 L1354.6,779.7 L1356.4,779.7 L1358.1,779.8 L1359.9,779.8 L1361.7,779.9 L1363.4,779.9 L1365.2,779.9 L1366.9,779.9 L1368.7,779.9 L1370.5,779.9 L1372.2,779.9 L1374.0,779.9 L1375.8,779.8 L1377.5,779.8 L1379.3,779.8 L1381.0,779.8 L1382.8,779.8 L1384.6,779.8 L1386.3,779.7 L1388.1,779.7 L1389.8,779.7 L1391.6,779.7 L1393.4,779.7 L1395.1,779.7 L1396.9,779.6 L1398.7,779.6 L1400.4,779.6 L1402.2,779.6 L1403.9,779.6 L1405.7,779.6 L1407.5,779.5 L1409.2,775.9 L1411.0,775.9" fill="none" stroke="#dec400" stroke-width="6" stroke-linejoin="round" stroke-linecap="butt"/><path d="M445.1,-44.0 L446.9,-32.2 L448.7,-20.4 L450.4,-8.4 L452.2,3.7 L454.0,15.2 L455.7,26.8 L457.5,38.5 L459.2,50.4 L461.0,62.4 L462.8,81.6 L464.5,88.9 L466.3,96.6 L468.1,105.1 L469.8,113.1 L471.6,120.9 L473.4,128.4 L475.1,135.7 L476.9,142.8 L478.6,149.7 L480.4,156.5 L482.2,163.1 L483.9,169.6 L485.7,176.1 L487.4,182.4 L489.2,188.6 L491.0,194.8 L492.7,200.9 L494.5,207.0 L496.3,213.0 L498.0,219.0 L499.8,224.9 L501.6,230.8 L503.3,236.6 L505.1,242.5 L506.8,248.3 L508.6,254.2 L510.4,260.0 L512.1,265.8 L513.9,271.6 L515.6,277.5 L517.4,283.3 L519.2,289.2 L520.9,295.1 L522.7,301.0 L524.5,307.0 L526.2,313.0 L528.0,319.0 L529.8,325.1 L531.5,331.3 L533.3,337.6 L535.0,343.9 L536.8,350.3 L538.6,356.8 L540.3,363.4 L542.1,370.0 L543.9,376.7 L545.6,383.5 L547.4,390.2 L549.1,396.9 L550.9,403.6 L552.7,410.3 L554.4,416.9 L556.2,423.4 L558.0,429.9 L559.7,436.2 L561.5,442.4 L563.2,448.6 L565.0,454.6 L566.8,460.4 L568.5,466.2 L570.3,471.8 L572.0,477.3 L573.8,482.7 L575.6,487.9 L577.3,493.1 L579.1,498.1 L580.9,502.9 L582.6,507.7 L584.4,512.4 L586.1,516.9 L587.9,521.3 L589.7,525.7 L591.4,529.9 L593.2,534.0 L595.0,538.1 L596.7,542.0 L598.5,545.8 L600.2,549.6 L602.0,553.3 L603.8,556.9 L605.5,560.4 L607.3,563.9 L609.1,567.2 L610.8,570.5 L612.6,573.7 L614.4,576.9 L616.1,580.0 L617.9,583.0 L619.6,586.0 L621.4,588.9 L623.2,591.7 L624.9,594.5 L626.7,597.2 L628.5,599.9 L630.2,602.5 L632.0,605.1 L633.7,607.6 L635.5,610.0 L637.3,612.5 L639.0,614.8 L640.8,617.1 L642.5,619.4 L644.3,621.6 L646.1,623.8 L647.8,625.9 L649.6,628.0 L651.4,630.0 L653.1,632.0 L654.9,633.9 L656.6,635.8 L658.4,637.7 L660.2,639.5 L661.9,641.3 L663.7,643.1 L665.5,644.8 L667.2,646.5 L669.0,648.1 L670.8,649.7 L672.5,651.3 L674.3,652.9 L676.0,654.4 L677.8,655.8 L679.6,657.3 L681.3,658.7 L683.1,660.1 L684.9,661.4 L686.6,662.7 L688.4,664.0 L690.1,665.3 L691.9,666.5 L693.7,667.8 L695.4,669.0 L697.2,670.1 L699.0,671.3 L700.7,672.4 L702.5,673.5 L704.2,674.5 L706.0,675.6 L707.8,676.6 L709.5,677.5 L711.3,678.5 L713.0,679.4 L714.8,680.3 L716.6,681.2 L718.3,682.0 L720.1,682.9 L721.9,683.7 L723.6,684.4 L725.4,685.2 L727.1,686.0 L728.9,686.7 L730.7,687.4 L732.4,688.1 L734.2,688.8 L736.0,689.4 L737.7,690.1 L739.5,690.7 L741.2,691.4 L743.0,692.2 L744.8,693.0 L746.5,693.7 L748.3,694.5 L750.1,695.3 L751.8,696.2 L753.6,697.0 L755.4,697.9 L757.1,698.7 L758.9,699.6 L760.6,700.3 L762.4,700.9 L764.2,701.4 L765.9,702.0 L767.7,702.6 L769.5,703.1 L771.2,703.7 L773.0,704.3 L774.7,704.9 L776.5,705.4 L778.3,706.0 L780.0,706.5 L781.8,707.0 L783.5,707.5 L785.3,707.9 L787.1,708.4 L788.8,708.9 L790.6,709.3 L792.4,709.8 L794.1,710.3 L795.9,710.7 L797.6,711.2 L799.4,711.7 L801.2,712.2 L802.9,712.7 L804.7,713.2 L806.5,713.7 L808.2,714.2 L810.0,714.7 L811.8,715.2 L813.5,715.7 L815.3,716.2 L817.0,716.7 L818.8,717.2 L820.6,717.5 L822.3,717.7 L824.1,718.0 L825.8,718.2 L827.6,718.4 L829.4,718.6 L831.1,718.8 L832.9,719.0 L834.7,719.2 L836.4,719.4 L838.2,719.6 L840.0,719.9 L841.7,720.3 L843.5,720.7 L845.2,721.1 L847.0,721.5 L848.8,721.9 L850.5,722.3 L852.3,722.7 L854.0,723.2 L855.8,723.7 L857.6,724.1 L859.3,724.6 L861.1,725.1 L862.9,725.6 L864.6,726.0 L866.4,726.4 L868.1,726.8 L869.9,727.1 L871.7,727.4 L873.4,727.7 L875.2,728.1 L877.0,728.4 L878.7,728.7 L880.5,729.1 L882.2,729.5 L884.0,729.9 L885.8,730.3 L887.5,730.7 L889.3,731.1 L891.1,731.5 L892.8,732.0 L894.6,732.4 L896.3,733.0 L898.1,733.5 L899.9,734.0 L901.6,734.4 L903.4,734.7 L905.2,735.0 L906.9,735.3 L908.7,735.6 L910.5,736.0 L912.2,736.6 L914.0,737.2 L915.7,737.8 L917.5,738.4 L919.3,739.0 L921.0,739.6 L922.8,740.8 L924.5,742.1 L926.3,743.3 L928.1,744.5 L929.8,745.4 L931.6,744.7 L933.4,743.0 L935.1,741.4 L936.9,739.8 L938.6,739.8 L940.4,740.4 L942.2,741.1 L943.9,741.7 L945.7,742.4 L947.5,743.0 L949.2,743.9 L951.0,745.1 L952.8,746.3 L954.5,747.5 L956.3,748.8 L958.0,750.0 L959.8,750.2 L961.6,748.1 L963.3,746.1 L965.1,744.0 L966.8,742.8 L968.6,743.3 L970.4,743.8 L972.1,744.3 L973.9,744.8 L975.7,745.3 L977.4,745.8 L979.2,746.3 L981.0,746.7 L982.7,747.2 L984.5,747.7 L986.2,748.2 L988.0,748.7 L989.8,749.2 L991.5,749.7 L993.3,750.2 L995.0,750.7 L996.8,750.8 L998.6,750.9 L1000.3,751.1 L1002.1,751.2 L1003.9,751.3 L1005.6,751.4 L1007.4,751.5 L1009.1,751.7 L1010.9,751.8 L1012.7,751.9 L1014.4,752.0 L1016.2,752.1 L1018.0,752.3 L1019.7,752.4 L1021.5,752.5 L1023.2,752.6 L1025.0,752.8 L1026.8,752.9 L1028.5,753.1 L1030.3,753.3 L1032.1,753.4 L1033.8,753.6 L1035.6,753.8 L1037.3,753.9 L1039.1,754.1 L1040.9,754.3 L1042.6,754.4 L1044.4,754.6 L1046.2,754.7 L1047.9,754.9 L1049.7,755.1 L1051.5,754.8 L1053.2,754.1 L1055.0,753.4 L1056.7,752.8 L1058.5,752.1 L1060.3,752.3 L1062.0,752.6 L1063.8,752.9 L1065.5,753.2 L1067.3,753.5 L1069.1,753.7 L1070.8,754.0 L1072.6,754.3 L1074.4,754.6 L1076.1,754.9 L1077.9,755.1 L1079.7,755.3 L1081.4,755.5 L1083.2,755.7 L1084.9,755.9 L1086.7,756.2 L1088.5,756.4 L1090.2,756.7 L1092.0,757.0 L1093.8,757.3 L1095.5,757.6 L1097.3,757.9 L1099.0,758.1 L1100.8,758.4 L1102.6,758.7 L1104.3,759.0 L1106.1,759.3 L1107.8,759.5 L1109.6,759.8 L1111.4,760.0 L1113.1,760.3 L1114.9,760.4 L1116.7,760.6 L1118.4,760.8 L1120.2,761.0 L1121.9,761.2 L1123.7,761.4 L1125.5,761.5 L1127.2,761.7 L1129.0,761.9 L1130.8,762.1 L1132.5,762.3 L1134.3,762.4 L1136.0,762.6 L1137.8,762.7 L1139.6,762.8 L1141.3,763.0 L1143.1,763.1 L1144.9,763.2 L1146.6,763.4 L1148.4,763.5 L1150.2,763.7 L1151.9,763.8 L1153.7,763.9 L1155.4,764.1 L1157.2,764.2 L1159.0,764.4 L1160.7,764.5 L1162.5,764.6 L1164.2,764.7 L1166.0,764.8 L1167.8,764.9 L1169.5,765.1 L1171.3,765.2 L1173.1,765.3 L1174.8,765.4 L1176.6,765.5 L1178.3,765.6 L1180.1,765.7 L1181.9,765.9 L1183.6,766.1 L1185.4,766.3 L1187.2,766.5 L1188.9,766.7 L1190.7,766.9 L1192.4,767.1 L1194.2,767.3 L1196.0,767.5 L1197.7,767.7 L1199.5,767.8 L1201.3,768.0 L1203.0,768.2 L1204.8,768.4 L1206.5,768.6 L1208.3,768.8 L1210.1,769.1 L1211.8,769.3 L1213.6,769.5 L1215.4,769.7 L1217.1,769.9 L1218.9,770.1 L1220.7,770.4 L1222.4,770.6 L1224.2,770.8 L1225.9,771.0 L1227.7,771.2 L1229.5,771.5 L1231.2,771.7 L1233.0,771.9 L1234.8,772.1 L1236.5,772.3 L1238.3,772.6 L1240.0,772.8 L1241.8,773.0 L1243.6,773.2 L1245.3,773.4 L1247.1,773.7 L1248.8,773.9 L1250.6,774.1 L1252.4,774.3 L1254.1,774.6 L1255.9,774.8 L1257.7,775.0 L1259.4,775.2 L1261.2,775.3 L1262.9,775.4 L1264.7,775.5 L1266.5,775.7 L1268.2,775.8 L1270.0,775.9 L1271.8,776.0 L1273.5,776.1 L1275.3,776.2 L1277.0,776.3 L1278.8,776.4 L1280.6,776.5 L1282.3,776.7 L1284.1,776.8 L1285.9,776.9 L1287.6,776.9 L1289.4,776.9 L1291.2,776.9 L1292.9,776.9 L1294.7,776.8 L1296.4,776.8 L1298.2,776.8 L1300.0,776.8 L1301.7,776.8 L1303.5,776.8 L1305.2,776.8 L1307.0,776.8 L1308.8,776.8 L1310.5,776.8 L1312.3,776.8 L1314.1,776.9 L1315.8,777.0 L1317.6,777.1 L1319.3,777.2 L1321.1,777.3 L1322.9,777.4 L1324.6,777.5 L1326.4,777.6 L1328.2,777.8 L1329.9,777.9 L1331.7,778.0 L1333.4,778.1 L1335.2,778.2 L1337.0,778.3 L1338.7,778.4 L1340.5,778.5 L1342.3,778.5 L1344.0,778.5 L1345.8,778.6 L1347.5,778.6 L1349.3,778.7 L1351.1,778.7 L1352.8,778.8 L1354.6,778.8 L1356.4,778.8 L1358.1,778.9 L1359.9,778.9 L1361.7,779.0 L1363.4,779.0 L1365.2,779.1 L1366.9,779.1 L1368.7,779.0 L1370.5,779.0 L1372.2,779.0 L1374.0,779.0 L1375.8,779.0 L1377.5,779.0 L1379.3,779.0 L1381.0,779.0 L1382.8,779.0 L1384.6,779.0 L1386.3,778.9 L1388.1,778.9 L1389.8,778.9 L1391.6,778.9 L1393.4,778.9 L1395.1,778.9 L1396.9,778.9 L1398.7,778.9 L1400.4,778.9 L1402.2,778.9 L1403.9,778.8 L1405.7,778.8 L1407.5,778.8 L1409.2,775.9 L1411.0,775.9" fill="none" stroke="#fac000" stroke-width="6" stroke-linejoin="round" stroke-linecap="butt"/><path d="M445.1,-31.3 L446.9,-19.0 L448.7,-6.5 L450.4,6.1 L452.2,18.9 L454.0,30.6 L455.7,42.4 L457.5,54.3 L459.2,66.4 L461.0,78.7 L462.8,93.9 L464.5,102.9 L466.3,111.7 L468.1,120.4 L469.8,128.8 L471.6,136.7 L473.4,144.4 L475.1,151.9 L476.9,159.1 L478.6,166.2 L480.4,173.0 L482.2,179.8 L483.9,186.4 L485.7,192.8 L487.4,199.2 L489.2,205.5 L491.0,211.7 L492.7,217.9 L494.5,224.0 L496.3,230.0 L498.0,236.0 L499.8,241.9 L501.6,247.9 L503.3,253.7 L505.1,259.6 L506.8,265.5 L508.6,271.3 L510.4,277.1 L512.1,283.0 L513.9,288.8 L515.6,294.7 L517.4,300.5 L519.2,306.4 L520.9,312.4 L522.7,318.3 L524.5,324.3 L526.2,330.3 L528.0,336.4 L529.8,342.6 L531.5,348.8 L533.3,355.1 L535.0,361.5 L536.8,368.0 L538.6,374.6 L540.3,381.3 L542.1,388.1 L543.9,394.9 L545.6,401.7 L547.4,408.6 L549.1,415.4 L550.9,422.2 L552.7,428.9 L554.4,435.6 L556.2,442.1 L558.0,448.6 L559.7,454.9 L561.5,461.1 L563.2,467.2 L565.0,473.1 L566.8,478.9 L568.5,484.6 L570.3,490.1 L572.0,495.5 L573.8,500.7 L575.6,505.8 L577.3,510.7 L579.1,515.5 L580.9,520.2 L582.6,524.7 L584.4,529.2 L586.1,533.5 L587.9,537.7 L589.7,541.8 L591.4,545.7 L593.2,549.6 L595.0,553.4 L596.7,557.1 L598.5,560.7 L600.2,564.2 L602.0,567.6 L603.8,570.9 L605.5,574.1 L607.3,577.3 L609.1,580.4 L610.8,583.4 L612.6,586.4 L614.4,589.3 L616.1,592.1 L617.9,594.9 L619.6,597.6 L621.4,600.2 L623.2,602.8 L624.9,605.3 L626.7,607.8 L628.5,610.2 L630.2,612.5 L632.0,614.8 L633.7,617.1 L635.5,619.3 L637.3,621.4 L639.0,623.5 L640.8,625.6 L642.5,627.6 L644.3,629.6 L646.1,631.5 L647.8,633.4 L649.6,635.2 L651.4,637.0 L653.1,638.7 L654.9,640.4 L656.6,642.1 L658.4,643.7 L660.2,645.3 L661.9,646.9 L663.7,648.4 L665.5,649.9 L667.2,651.3 L669.0,652.7 L670.8,654.1 L672.5,655.4 L674.3,656.7 L676.0,658.0 L677.8,659.2 L679.6,660.4 L681.3,661.6 L683.1,662.8 L684.9,663.9 L686.6,665.0 L688.4,666.0 L690.1,667.0 L691.9,668.1 L693.7,669.0 L695.4,670.0 L697.2,671.0 L699.0,671.9 L700.7,672.8 L702.5,673.6 L704.2,674.5 L706.0,675.3 L707.8,676.2 L709.5,677.0 L711.3,677.7 L713.0,678.5 L714.8,679.3 L716.6,680.0 L718.3,680.7 L720.1,681.4 L721.9,682.1 L723.6,682.8 L725.4,683.5 L727.1,684.1 L728.9,684.8 L730.7,685.4 L732.4,686.0 L734.2,686.6 L736.0,687.2 L737.7,687.8 L739.5,688.4 L741.2,689.1 L743.0,689.9 L744.8,690.7 L746.5,691.4 L748.3,692.2 L750.1,693.0 L751.8,693.8 L753.6,694.6 L755.4,695.4 L757.1,696.2 L758.9,697.0 L760.6,697.7 L762.4,698.2 L764.2,698.8 L765.9,699.3 L767.7,699.9 L769.5,700.4 L771.2,701.0 L773.0,701.5 L774.7,702.1 L776.5,702.6 L778.3,703.2 L780.0,703.7 L781.8,704.2 L783.5,704.6 L785.3,705.1 L787.1,705.5 L788.8,706.0 L790.6,706.4 L792.4,706.9 L794.1,707.3 L795.9,707.8 L797.6,708.3 L799.4,708.7 L801.2,709.2 L802.9,709.7 L804.7,710.2 L806.5,710.7 L808.2,711.2 L810.0,711.6 L811.8,712.1 L813.5,712.6 L815.3,713.1 L817.0,713.6 L818.8,714.1 L820.6,714.4 L822.3,714.6 L824.1,714.8 L825.8,715.0 L827.6,715.2 L829.4,715.4 L831.1,715.6 L832.9,715.8 L834.7,716.0 L836.4,716.2 L838.2,716.5 L840.0,716.7 L841.7,717.1 L843.5,717.6 L845.2,718.0 L847.0,718.4 L848.8,718.8 L850.5,719.2 L852.3,719.6 L854.0,720.1 L855.8,720.5 L857.6,721.0 L859.3,721.4 L861.1,721.9 L862.9,722.3 L864.6,722.8 L866.4,723.2 L868.1,723.5 L869.9,723.9 L871.7,724.2 L873.4,724.5 L875.2,724.9 L877.0,725.2 L878.7,725.5 L880.5,725.9 L882.2,726.3 L884.0,726.7 L885.8,727.1 L887.5,727.4 L889.3,727.8 L891.1,728.2 L892.8,728.6 L894.6,729.1 L896.3,729.6 L898.1,730.1 L899.9,730.6 L901.6,731.0 L903.4,731.4 L905.2,731.8 L906.9,732.2 L908.7,732.6 L910.5,733.0 L912.2,733.6 L914.0,734.1 L915.7,734.6 L917.5,735.2 L919.3,735.7 L921.0,736.3 L922.8,737.6 L924.5,738.8 L926.3,740.1 L928.1,741.3 L929.8,742.3 L931.6,741.7 L933.4,740.0 L935.1,738.3 L936.9,736.6 L938.6,736.6 L940.4,737.2 L942.2,737.9 L943.9,738.5 L945.7,739.2 L947.5,739.8 L949.2,740.7 L951.0,741.9 L952.8,743.1 L954.5,744.3 L956.3,745.5 L958.0,746.7 L959.8,746.9 L961.6,744.8 L963.3,742.7 L965.1,740.6 L966.8,739.5 L968.6,740.0 L970.4,740.5 L972.1,741.1 L973.9,741.6 L975.7,742.1 L977.4,742.6 L979.2,743.1 L981.0,743.6 L982.7,744.1 L984.5,744.7 L986.2,745.2 L988.0,745.7 L989.8,746.2 L991.5,746.7 L993.3,747.2 L995.0,747.8 L996.8,747.9 L998.6,748.0 L1000.3,748.1 L1002.1,748.2 L1003.9,748.3 L1005.6,748.4 L1007.4,748.5 L1009.1,748.6 L1010.9,748.7 L1012.7,748.8 L1014.4,748.9 L1016.2,749.0 L1018.0,749.1 L1019.7,749.3 L1021.5,749.4 L1023.2,749.5 L1025.0,749.7 L1026.8,749.8 L1028.5,750.0 L1030.3,750.2 L1032.1,750.3 L1033.8,750.5 L1035.6,750.7 L1037.3,750.8 L1039.1,751.0 L1040.9,751.2 L1042.6,751.4 L1044.4,751.5 L1046.2,751.7 L1047.9,751.9 L1049.7,752.0 L1051.5,751.7 L1053.2,751.0 L1055.0,750.3 L1056.7,749.6 L1058.5,748.9 L1060.3,749.1 L1062.0,749.5 L1063.8,749.8 L1065.5,750.1 L1067.3,750.5 L1069.1,750.8 L1070.8,751.1 L1072.6,751.4 L1074.4,751.8 L1076.1,752.1 L1077.9,752.4 L1079.7,752.7 L1081.4,752.9 L1083.2,753.1 L1084.9,753.3 L1086.7,753.6 L1088.5,753.9 L1090.2,754.1 L1092.0,754.4 L1093.8,754.7 L1095.5,755.0 L1097.3,755.2 L1099.0,755.5 L1100.8,755.8 L1102.6,756.0 L1104.3,756.3 L1106.1,756.6 L1107.8,756.8 L1109.6,757.1 L1111.4,757.3 L1113.1,757.5 L1114.9,757.7 L1116.7,757.9 L1118.4,758.1 L1120.2,758.3 L1121.9,758.5 L1123.7,758.7 L1125.5,758.9 L1127.2,759.1 L1129.0,759.3 L1130.8,759.5 L1132.5,759.7 L1134.3,759.9 L1136.0,760.1 L1137.8,760.2 L1139.6,760.4 L1141.3,760.5 L1143.1,760.7 L1144.9,760.8 L1146.6,761.0 L1148.4,761.1 L1150.2,761.3 L1151.9,761.5 L1153.7,761.6 L1155.4,761.8 L1157.2,761.9 L1159.0,762.1 L1160.7,762.2 L1162.5,762.4 L1164.2,762.5 L1166.0,762.6 L1167.8,762.7 L1169.5,762.8 L1171.3,763.0 L1173.1,763.1 L1174.8,763.2 L1176.6,763.3 L1178.3,763.4 L1180.1,763.6 L1181.9,763.8 L1183.6,764.0 L1185.4,764.2 L1187.2,764.4 L1188.9,764.6 L1190.7,764.8 L1192.4,765.0 L1194.2,765.2 L1196.0,765.4 L1197.7,765.6 L1199.5,765.8 L1201.3,766.1 L1203.0,766.3 L1204.8,766.5 L1206.5,766.7 L1208.3,766.9 L1210.1,767.2 L1211.8,767.4 L1213.6,767.6 L1215.4,767.9 L1217.1,768.1 L1218.9,768.3 L1220.7,768.6 L1222.4,768.8 L1224.2,769.1 L1225.9,769.3 L1227.7,769.5 L1229.5,769.8 L1231.2,770.0 L1233.0,770.3 L1234.8,770.5 L1236.5,770.7 L1238.3,771.0 L1240.0,771.2 L1241.8,771.5 L1243.6,771.7 L1245.3,771.9 L1247.1,772.2 L1248.8,772.4 L1250.6,772.7 L1252.4,772.9 L1254.1,773.2 L1255.9,773.4 L1257.7,773.6 L1259.4,773.9 L1261.2,774.0 L1262.9,774.1 L1264.7,774.3 L1266.5,774.4 L1268.2,774.5 L1270.0,774.6 L1271.8,774.7 L1273.5,774.9 L1275.3,775.0 L1277.0,775.1 L1278.8,775.2 L1280.6,775.3 L1282.3,775.5 L1284.1,775.6 L1285.9,775.7 L1287.6,775.7 L1289.4,775.7 L1291.2,775.8 L1292.9,775.8 L1294.7,775.8 L1296.4,775.8 L1298.2,775.8 L1300.0,775.9 L1301.7,775.9 L1303.5,775.9 L1305.2,775.9 L1307.0,775.9 L1308.8,776.0 L1310.5,776.0 L1312.3,776.0 L1314.1,776.1 L1315.8,776.2 L1317.6,776.3 L1319.3,776.4 L1321.1,776.6 L1322.9,776.7 L1324.6,776.8 L1326.4,776.9 L1328.2,777.0 L1329.9,777.1 L1331.7,777.3 L1333.4,777.4 L1335.2,777.5 L1337.0,777.6 L1338.7,777.7 L1340.5,777.8 L1342.3,777.8 L1344.0,777.9 L1345.8,777.9 L1347.5,778.0 L1349.3,778.0 L1351.1,778.1 L1352.8,778.1 L1354.6,778.1 L1356.4,778.2 L1358.1,778.2 L1359.9,778.3 L1361.7,778.3 L1363.4,778.4 L1365.2,778.4 L1366.9,778.4 L1368.7,778.4 L1370.5,778.4 L1372.2,778.4 L1374.0,778.4 L1375.8,778.4 L1377.5,778.4 L1379.3,778.4 L1381.0,778.4 L1382.8,778.4 L1384.6,778.4 L1386.3,778.4 L1388.1,778.4 L1389.8,778.3 L1391.6,778.3 L1393.4,778.3 L1395.1,778.3 L1396.9,778.3 L1398.7,778.3 L1400.4,778.3 L1402.2,778.3 L1403.9,778.3 L1405.7,778.3 L1407.5,778.3 L1409.2,775.9 L1411.0,775.9" fill="none" stroke="#fe9510" stroke-width="6" stroke-linejoin="round" stroke-linecap="butt"/><path d="M445.1,-20.8 L446.9,-8.8 L448.7,3.3 L450.4,15.5 L452.2,27.9 L454.0,39.7 L455.7,51.6 L457.5,63.7 L459.2,75.9 L461.0,88.3 L462.8,101.2 L464.5,111.2 L466.3,120.6 L468.1,129.5 L469.8,138.0 L471.6,146.2 L473.4,154.0 L475.1,161.5 L476.9,168.8 L478.6,175.9 L480.4,182.9 L482.2,189.6 L483.9,196.3 L485.7,202.8 L487.4,209.2 L489.2,215.5 L491.0,221.8 L492.7,228.0 L494.5,234.1 L496.3,240.1 L498.0,246.1 L499.8,252.1 L501.6,258.0 L503.3,263.9 L505.1,269.8 L506.8,275.6 L508.6,281.5 L510.4,287.3 L512.1,293.2 L513.9,299.0 L515.6,304.9 L517.4,310.8 L519.2,316.7 L520.9,322.6 L522.7,328.6 L524.5,334.6 L526.2,340.7 L528.0,346.8 L529.8,353.0 L531.5,359.2 L533.3,365.6 L535.0,372.0 L536.8,378.6 L538.6,385.2 L540.3,392.0 L542.1,398.8 L543.9,405.7 L545.6,412.6 L547.4,419.5 L549.1,426.3 L550.9,433.2 L552.7,439.9 L554.4,446.6 L556.2,453.2 L558.0,459.7 L559.7,466.0 L561.5,472.2 L563.2,478.3 L565.0,484.2 L566.8,489.9 L568.5,495.5 L570.3,500.9 L572.0,506.2 L573.8,511.4 L575.6,516.3 L577.3,521.2 L579.1,525.9 L580.9,530.4 L582.6,534.8 L584.4,539.1 L586.1,543.3 L587.9,547.4 L589.7,551.3 L591.4,555.1 L593.2,558.9 L595.0,562.5 L596.7,566.0 L598.5,569.4 L600.2,572.8 L602.0,576.0 L603.8,579.2 L605.5,582.3 L607.3,585.3 L609.1,588.3 L610.8,591.1 L612.6,593.9 L614.4,596.7 L616.1,599.3 L617.9,601.9 L619.6,604.5 L621.4,606.9 L623.2,609.4 L624.9,611.7 L626.7,614.0 L628.5,616.3 L630.2,618.5 L632.0,620.6 L633.7,622.7 L635.5,624.8 L637.3,626.8 L639.0,628.7 L640.8,630.6 L642.5,632.5 L644.3,634.3 L646.1,636.1 L647.8,637.8 L649.6,639.5 L651.4,641.1 L653.1,642.7 L654.9,644.3 L656.6,645.8 L658.4,647.3 L660.2,648.7 L661.9,650.1 L663.7,651.5 L665.5,652.9 L667.2,654.2 L669.0,655.4 L670.8,656.7 L672.5,657.8 L674.3,659.0 L676.0,660.1 L677.8,661.2 L679.6,662.3 L681.3,663.3 L683.1,664.4 L684.9,665.3 L686.6,666.3 L688.4,667.2 L690.1,668.1 L691.9,669.0 L693.7,669.8 L695.4,670.6 L697.2,671.4 L699.0,672.2 L700.7,673.0 L702.5,673.8 L704.2,674.5 L706.0,675.2 L707.8,675.9 L709.5,676.6 L711.3,677.3 L713.0,678.0 L714.8,678.6 L716.6,679.3 L718.3,679.9 L720.1,680.6 L721.9,681.2 L723.6,681.8 L725.4,682.4 L727.1,683.0 L728.9,683.6 L730.7,684.2 L732.4,684.7 L734.2,685.3 L736.0,685.9 L737.7,686.5 L739.5,687.0 L741.2,687.7 L743.0,688.5 L744.8,689.3 L746.5,690.0 L748.3,690.8 L750.1,691.6 L751.8,692.3 L753.6,693.1 L755.4,693.9 L757.1,694.6 L758.9,695.4 L760.6,696.1 L762.4,696.6 L764.2,697.1 L765.9,697.7 L767.7,698.2 L769.5,698.7 L771.2,699.3 L773.0,699.8 L774.7,700.3 L776.5,700.9 L778.3,701.4 L780.0,701.9 L781.8,702.4 L783.5,702.8 L785.3,703.3 L787.1,703.7 L788.8,704.2 L790.6,704.6 L792.4,705.1 L794.1,705.5 L795.9,706.0 L797.6,706.4 L799.4,706.9 L801.2,707.3 L802.9,707.8 L804.7,708.3 L806.5,708.8 L808.2,709.2 L810.0,709.7 L811.8,710.2 L813.5,710.7 L815.3,711.2 L817.0,711.6 L818.8,712.1 L820.6,712.4 L822.3,712.6 L824.1,712.8 L825.8,713.0 L827.6,713.2 L829.4,713.4 L831.1,713.6 L832.9,713.8 L834.7,714.1 L836.4,714.3 L838.2,714.5 L840.0,714.7 L841.7,715.2 L843.5,715.6 L845.2,716.0 L847.0,716.4 L848.8,716.8 L850.5,717.3 L852.3,717.7 L854.0,718.1 L855.8,718.6 L857.6,719.0 L859.3,719.4 L861.1,719.9 L862.9,720.3 L864.6,720.8 L866.4,721.2 L868.1,721.5 L869.9,721.9 L871.7,722.2 L873.4,722.5 L875.2,722.9 L877.0,723.2 L878.7,723.6 L880.5,723.9 L882.2,724.3 L884.0,724.7 L885.8,725.0 L887.5,725.4 L889.3,725.8 L891.1,726.1 L892.8,726.5 L894.6,726.9 L896.3,727.4 L898.1,727.9 L899.9,728.4 L901.6,728.9 L903.4,729.3 L905.2,729.8 L906.9,730.2 L908.7,730.7 L910.5,731.1 L912.2,731.6 L914.0,732.2 L915.7,732.7 L917.5,733.2 L919.3,733.7 L921.0,734.2 L922.8,735.5 L924.5,736.8 L926.3,738.0 L928.1,739.3 L929.8,740.4 L931.6,739.8 L933.4,738.1 L935.1,736.3 L936.9,734.6 L938.6,734.6 L940.4,735.2 L942.2,735.9 L943.9,736.5 L945.7,737.2 L947.5,737.8 L949.2,738.7 L951.0,739.9 L952.8,741.1 L954.5,742.2 L956.3,743.4 L958.0,744.6 L959.8,744.9 L961.6,742.8 L963.3,740.7 L965.1,738.6 L966.8,737.5 L968.6,738.0 L970.4,738.5 L972.1,739.0 L973.9,739.6 L975.7,740.1 L977.4,740.6 L979.2,741.2 L981.0,741.7 L982.7,742.2 L984.5,742.7 L986.2,743.3 L988.0,743.8 L989.8,744.3 L991.5,744.9 L993.3,745.4 L995.0,745.9 L996.8,746.1 L998.6,746.1 L1000.3,746.2 L1002.1,746.3 L1003.9,746.4 L1005.6,746.5 L1007.4,746.6 L1009.1,746.7 L1010.9,746.8 L1012.7,746.9 L1014.4,747.0 L1016.2,747.1 L1018.0,747.2 L1019.7,747.3 L1021.5,747.4 L1023.2,747.5 L1025.0,747.7 L1026.8,747.9 L1028.5,748.0 L1030.3,748.2 L1032.1,748.4 L1033.8,748.6 L1035.6,748.7 L1037.3,748.9 L1039.1,749.1 L1040.9,749.3 L1042.6,749.4 L1044.4,749.6 L1046.2,749.8 L1047.9,750.0 L1049.7,750.1 L1051.5,749.8 L1053.2,749.1 L1055.0,748.3 L1056.7,747.6 L1058.5,746.9 L1060.3,747.1 L1062.0,747.5 L1063.8,747.9 L1065.5,748.2 L1067.3,748.6 L1069.1,748.9 L1070.8,749.3 L1072.6,749.7 L1074.4,750.0 L1076.1,750.4 L1077.9,750.7 L1079.7,751.0 L1081.4,751.2 L1083.2,751.5 L1084.9,751.7 L1086.7,752.0 L1088.5,752.2 L1090.2,752.5 L1092.0,752.8 L1093.8,753.0 L1095.5,753.3 L1097.3,753.6 L1099.0,753.8 L1100.8,754.1 L1102.6,754.4 L1104.3,754.6 L1106.1,754.9 L1107.8,755.1 L1109.6,755.4 L1111.4,755.6 L1113.1,755.8 L1114.9,756.0 L1116.7,756.2 L1118.4,756.5 L1120.2,756.7 L1121.9,756.9 L1123.7,757.1 L1125.5,757.3 L1127.2,757.5 L1129.0,757.7 L1130.8,757.9 L1132.5,758.2 L1134.3,758.3 L1136.0,758.5 L1137.8,758.7 L1139.6,758.8 L1141.3,759.0 L1143.1,759.2 L1144.9,759.3 L1146.6,759.5 L1148.4,759.7 L1150.2,759.8 L1151.9,760.0 L1153.7,760.2 L1155.4,760.3 L1157.2,760.5 L1159.0,760.7 L1160.7,760.8 L1162.5,760.9 L1164.2,761.1 L1166.0,761.2 L1167.8,761.3 L1169.5,761.4 L1171.3,761.6 L1173.1,761.7 L1174.8,761.8 L1176.6,761.9 L1178.3,762.1 L1180.1,762.2 L1181.9,762.4 L1183.6,762.6 L1185.4,762.9 L1187.2,763.1 L1188.9,763.3 L1190.7,763.5 L1192.4,763.7 L1194.2,763.9 L1196.0,764.2 L1197.7,764.4 L1199.5,764.6 L1201.3,764.8 L1203.0,765.0 L1204.8,765.3 L1206.5,765.5 L1208.3,765.7 L1210.1,766.0 L1211.8,766.2 L1213.6,766.5 L1215.4,766.7 L1217.1,767.0 L1218.9,767.2 L1220.7,767.5 L1222.4,767.7 L1224.2,768.0 L1225.9,768.2 L1227.7,768.5 L1229.5,768.7 L1231.2,769.0 L1233.0,769.2 L1234.8,769.5 L1236.5,769.7 L1238.3,770.0 L1240.0,770.2 L1241.8,770.5 L1243.6,770.8 L1245.3,771.0 L1247.1,771.3 L1248.8,771.5 L1250.6,771.8 L1252.4,772.0 L1254.1,772.3 L1255.9,772.5 L1257.7,772.8 L1259.4,773.1 L1261.2,773.2 L1262.9,773.3 L1264.7,773.4 L1266.5,773.6 L1268.2,773.7 L1270.0,773.8 L1271.8,774.0 L1273.5,774.1 L1275.3,774.2 L1277.0,774.3 L1278.8,774.5 L1280.6,774.6 L1282.3,774.7 L1284.1,774.8 L1285.9,775.0 L1287.6,775.0 L1289.4,775.0 L1291.2,775.1 L1292.9,775.1 L1294.7,775.2 L1296.4,775.2 L1298.2,775.2 L1300.0,775.3 L1301.7,775.3 L1303.5,775.3 L1305.2,775.4 L1307.0,775.4 L1308.8,775.4 L1310.5,775.5 L1312.3,775.5 L1314.1,775.6 L1315.8,775.7 L1317.6,775.8 L1319.3,776.0 L1321.1,776.1 L1322.9,776.2 L1324.6,776.3 L1326.4,776.5 L1328.2,776.6 L1329.9,776.7 L1331.7,776.8 L1333.4,776.9 L1335.2,777.1 L1337.0,777.2 L1338.7,777.3 L1340.5,777.4 L1342.3,777.4 L1344.0,777.5 L1345.8,777.5 L1347.5,777.6 L1349.3,777.6 L1351.1,777.6 L1352.8,777.7 L1354.6,777.7 L1356.4,777.8 L1358.1,777.8 L1359.9,777.9 L1361.7,777.9 L1363.4,778.0 L1365.2,778.0 L1366.9,778.0 L1368.7,778.0 L1370.5,778.0 L1372.2,778.0 L1374.0,778.0 L1375.8,778.0 L1377.5,778.0 L1379.3,778.0 L1381.0,778.0 L1382.8,778.0 L1384.6,778.0 L1386.3,778.0 L1388.1,778.0 L1389.8,778.0 L1391.6,778.0 L1393.4,778.0 L1395.1,778.0 L1396.9,778.0 L1398.7,778.0 L1400.4,778.0 L1402.2,778.0 L1403.9,778.0 L1405.7,778.0 L1407.5,778.0 L1409.2,775.9 L1411.0,775.9" fill="none" stroke="#ff5320" stroke-width="6" stroke-linejoin="round" stroke-linecap="butt"/><path d="M445.1,-15.9 L446.9,-4.6 L448.7,6.9 L450.4,18.5 L452.2,30.3 L454.0,42.1 L455.7,54.1 L457.5,66.2 L459.2,78.5 L461.0,90.9 L462.8,103.1 L464.5,113.4 L466.3,123.0 L468.1,131.9 L469.8,140.5 L471.6,148.6 L473.4,156.5 L475.1,164.0 L476.9,171.4 L478.6,178.5 L480.4,185.4 L482.2,192.2 L483.9,198.9 L485.7,205.4 L487.4,211.8 L489.2,218.2 L491.0,224.4 L492.7,230.6 L494.5,236.7 L496.3,242.8 L498.0,248.8 L499.8,254.7 L501.6,260.7 L503.3,266.6 L505.1,272.4 L506.8,278.3 L508.6,284.1 L510.4,290.0 L512.1,295.8 L513.9,301.7 L515.6,307.6 L517.4,313.4 L519.2,319.4 L520.9,325.3 L522.7,331.3 L524.5,337.3 L526.2,343.4 L528.0,349.5 L529.8,355.7 L531.5,362.0 L533.3,368.3 L535.0,374.8 L536.8,381.3 L538.6,388.0 L540.3,394.8 L542.1,401.6 L543.9,408.5 L545.6,415.4 L547.4,422.3 L549.1,429.2 L550.9,436.1 L552.7,442.8 L554.4,449.5 L556.2,456.1 L558.0,462.6 L559.7,468.9 L561.5,475.1 L563.2,481.2 L565.0,487.1 L566.8,492.8 L568.5,498.4 L570.3,503.8 L572.0,509.1 L573.8,514.2 L575.6,519.1 L577.3,523.9 L579.1,528.6 L580.9,533.1 L582.6,537.5 L584.4,541.8 L586.1,545.9 L587.9,549.9 L589.7,553.8 L591.4,557.6 L593.2,561.3 L595.0,564.9 L596.7,568.4 L598.5,571.8 L600.2,575.1 L602.0,578.3 L603.8,581.4 L605.5,584.5 L607.3,587.4 L609.1,590.3 L610.8,593.1 L612.6,595.9 L614.4,598.6 L616.1,601.2 L617.9,603.8 L619.6,606.3 L621.4,608.7 L623.2,611.1 L624.9,613.4 L626.7,615.7 L628.5,617.9 L630.2,620.1 L632.0,622.2 L633.7,624.2 L635.5,626.2 L637.3,628.2 L639.0,630.1 L640.8,632.0 L642.5,633.8 L644.3,635.6 L646.1,637.3 L647.8,639.0 L649.6,640.6 L651.4,642.2 L653.1,643.8 L654.9,645.3 L656.6,646.8 L658.4,648.2 L660.2,649.6 L661.9,651.0 L663.7,652.3 L665.5,653.6 L667.2,654.9 L669.0,656.1 L670.8,657.3 L672.5,658.5 L674.3,659.6 L676.0,660.7 L677.8,661.8 L679.6,662.8 L681.3,663.8 L683.1,664.8 L684.9,665.7 L686.6,666.6 L688.4,667.5 L690.1,668.4 L691.9,669.2 L693.7,670.0 L695.4,670.8 L697.2,671.6 L699.0,672.3 L700.7,673.1 L702.5,673.8 L704.2,674.5 L706.0,675.2 L707.8,675.8 L709.5,676.5 L711.3,677.1 L713.0,677.8 L714.8,678.4 L716.6,679.0 L718.3,679.6 L720.1,680.2 L721.9,680.7 L723.6,681.3 L725.4,681.9 L727.1,682.4 L728.9,683.0 L730.7,683.5 L732.4,684.0 L734.2,684.5 L736.0,685.1 L737.7,685.6 L739.5,686.1 L741.2,686.7 L743.0,687.5 L744.8,688.2 L746.5,688.9 L748.3,689.7 L750.1,690.4 L751.8,691.2 L753.6,691.9 L755.4,692.6 L757.1,693.4 L758.9,694.1 L760.6,694.7 L762.4,695.3 L764.2,695.8 L765.9,696.3 L767.7,696.9 L769.5,697.4 L771.2,697.9 L773.0,698.4 L774.7,699.0 L776.5,699.5 L778.3,700.0 L780.0,700.5 L781.8,700.9 L783.5,701.4 L785.3,701.8 L787.1,702.3 L788.8,702.7 L790.6,703.2 L792.4,703.6 L794.1,704.0 L795.9,704.5 L797.6,704.9 L799.4,705.4 L801.2,705.8 L802.9,706.3 L804.7,706.8 L806.5,707.3 L808.2,707.7 L810.0,708.2 L811.8,708.7 L813.5,709.1 L815.3,709.6 L817.0,710.1 L818.8,710.5 L820.6,710.8 L822.3,711.0 L824.1,711.2 L825.8,711.4 L827.6,711.6 L829.4,711.9 L831.1,712.1 L832.9,712.3 L834.7,712.5 L836.4,712.7 L838.2,712.9 L840.0,713.2 L841.7,713.6 L843.5,714.0 L845.2,714.4 L847.0,714.9 L848.8,715.3 L850.5,715.7 L852.3,716.1 L854.0,716.6 L855.8,717.0 L857.6,717.4 L859.3,717.9 L861.1,718.3 L862.9,718.7 L864.6,719.1 L866.4,719.5 L868.1,719.9 L869.9,720.2 L871.7,720.6 L873.4,720.9 L875.2,721.3 L877.0,721.6 L878.7,722.0 L880.5,722.3 L882.2,722.7 L884.0,723.0 L885.8,723.4 L887.5,723.8 L889.3,724.1 L891.1,724.5 L892.8,724.8 L894.6,725.3 L896.3,725.7 L898.1,726.2 L899.9,726.7 L901.6,727.2 L903.4,727.7 L905.2,728.2 L906.9,728.7 L908.7,729.1 L910.5,729.6 L912.2,730.1 L914.0,730.6 L915.7,731.1 L917.5,731.6 L919.3,732.0 L921.0,732.6 L922.8,733.9 L924.5,735.1 L926.3,736.4 L928.1,737.7 L929.8,738.9 L931.6,738.3 L933.4,736.5 L935.1,734.8 L936.9,733.0 L938.6,733.0 L940.4,733.6 L942.2,734.3 L943.9,734.9 L945.7,735.6 L947.5,736.2 L949.2,737.1 L951.0,738.3 L952.8,739.4 L954.5,740.6 L956.3,741.8 L958.0,743.0 L959.8,743.2 L961.6,741.1 L963.3,739.0 L965.1,736.9 L966.8,735.8 L968.6,736.3 L970.4,736.9 L972.1,737.4 L973.9,738.0 L975.7,738.5 L977.4,739.0 L979.2,739.6 L981.0,740.1 L982.7,740.7 L984.5,741.2 L986.2,741.7 L988.0,742.3 L989.8,742.8 L991.5,743.4 L993.3,743.9 L995.0,744.5 L996.8,744.6 L998.6,744.7 L1000.3,744.8 L1002.1,744.9 L1003.9,744.9 L1005.6,745.0 L1007.4,745.1 L1009.1,745.2 L1010.9,745.3 L1012.7,745.4 L1014.4,745.5 L1016.2,745.6 L1018.0,745.7 L1019.7,745.7 L1021.5,745.8 L1023.2,745.9 L1025.0,746.1 L1026.8,746.3 L1028.5,746.5 L1030.3,746.7 L1032.1,746.8 L1033.8,747.0 L1035.6,747.2 L1037.3,747.4 L1039.1,747.6 L1040.9,747.7 L1042.6,747.9 L1044.4,748.1 L1046.2,748.3 L1047.9,748.4 L1049.7,748.6 L1051.5,748.3 L1053.2,747.5 L1055.0,746.8 L1056.7,746.0 L1058.5,745.3 L1060.3,745.5 L1062.0,745.9 L1063.8,746.3 L1065.5,746.7 L1067.3,747.1 L1069.1,747.5 L1070.8,747.8 L1072.6,748.2 L1074.4,748.6 L1076.1,749.0 L1077.9,749.4 L1079.7,749.6 L1081.4,749.9 L1083.2,750.2 L1084.9,750.4 L1086.7,750.7 L1088.5,750.9 L1090.2,751.2 L1092.0,751.5 L1093.8,751.7 L1095.5,752.0 L1097.3,752.3 L1099.0,752.5 L1100.8,752.8 L1102.6,753.0 L1104.3,753.3 L1106.1,753.5 L1107.8,753.8 L1109.6,754.0 L1111.4,754.2 L1113.1,754.4 L1114.9,754.7 L1116.7,754.9 L1118.4,755.1 L1120.2,755.3 L1121.9,755.6 L1123.7,755.8 L1125.5,756.0 L1127.2,756.2 L1129.0,756.5 L1130.8,756.7 L1132.5,756.9 L1134.3,757.1 L1136.0,757.3 L1137.8,757.4 L1139.6,757.6 L1141.3,757.8 L1143.1,758.0 L1144.9,758.1 L1146.6,758.3 L1148.4,758.5 L1150.2,758.6 L1151.9,758.8 L1153.7,759.0 L1155.4,759.2 L1157.2,759.3 L1159.0,759.5 L1160.7,759.7 L1162.5,759.8 L1164.2,759.9 L1166.0,760.1 L1167.8,760.2 L1169.5,760.3 L1171.3,760.5 L1173.1,760.6 L1174.8,760.7 L1176.6,760.8 L1178.3,761.0 L1180.1,761.1 L1181.9,761.3 L1183.6,761.6 L1185.4,761.8 L1187.2,762.0 L1188.9,762.2 L1190.7,762.5 L1192.4,762.7 L1194.2,762.9 L1196.0,763.1 L1197.7,763.4 L1199.5,763.6 L1201.3,763.8 L1203.0,764.1 L1204.8,764.3 L1206.5,764.5 L1208.3,764.8 L1210.1,765.0 L1211.8,765.3 L1213.6,765.5 L1215.4,765.8 L1217.1,766.1 L1218.9,766.3 L1220.7,766.6 L1222.4,766.8 L1224.2,767.1 L1225.9,767.4 L1227.7,767.6 L1229.5,767.9 L1231.2,768.1 L1233.0,768.4 L1234.8,768.7 L1236.5,768.9 L1238.3,769.2 L1240.0,769.5 L1241.8,769.7 L1243.6,770.0 L1245.3,770.3 L1247.1,770.5 L1248.8,770.8 L1250.6,771.1 L1252.4,771.3 L1254.1,771.6 L1255.9,771.9 L1257.7,772.1 L1259.4,772.4 L1261.2,772.5 L1262.9,772.7 L1264.7,772.8 L1266.5,772.9 L1268.2,773.1 L1270.0,773.2 L1271.8,773.3 L1273.5,773.5 L1275.3,773.6 L1277.0,773.7 L1278.8,773.9 L1280.6,774.0 L1282.3,774.1 L1284.1,774.3 L1285.9,774.4 L1287.6,774.4 L1289.4,774.5 L1291.2,774.5 L1292.9,774.6 L1294.7,774.6 L1296.4,774.7 L1298.2,774.7 L1300.0,774.8 L1301.7,774.8 L1303.5,774.9 L1305.2,774.9 L1307.0,775.0 L1308.8,775.0 L1310.5,775.0 L1312.3,775.1 L1314.1,775.2 L1315.8,775.3 L1317.6,775.5 L1319.3,775.6 L1321.1,775.7 L1322.9,775.8 L1324.6,776.0 L1326.4,776.1 L1328.2,776.2 L1329.9,776.3 L1331.7,776.5 L1333.4,776.6 L1335.2,776.7 L1337.0,776.9 L1338.7,777.0 L1340.5,777.0 L1342.3,777.1 L1344.0,777.1 L1345.8,777.2 L1347.5,777.2 L1349.3,777.3 L1351.1,777.3 L1352.8,777.4 L1354.6,777.4 L1356.4,777.5 L1358.1,777.5 L1359.9,777.6 L1361.7,777.6 L1363.4,777.6 L1365.2,777.7 L1366.9,777.7 L1368.7,777.7 L1370.5,777.7 L1372.2,777.7 L1374.0,777.7 L1375.8,777.7 L1377.5,777.7 L1379.3,777.7 L1381.0,777.7 L1382.8,777.7 L1384.6,777.7 L1386.3,777.7 L1388.1,777.7 L1389.8,777.7 L1391.6,777.7 L1393.4,777.7 L1395.1,777.7 L1396.9,777.7 L1398.7,777.7 L1400.4,777.7 L1402.2,777.7 L1403.9,777.7 L1405.7,777.7 L1407.5,777.7 L1409.2,775.9 L1411.0,775.9" fill="none" stroke="#ff1024" stroke-width="6" stroke-linejoin="round" stroke-linecap="butt"/></g>
<g style="font-size:60.5px"><text x="471.5" y="736.7">tetrazole</text><text x="792.5" y="457.2">pyrazoline</text></g>
<g fill="#000"><rect x="553.1" y="512" width="5.9" height="129.5"/><path d="M540.8,633 L556.1,640.8 L571.9,633 L556.3,664 Z"/><rect x="849.2" y="492" width="5.8" height="184"/><path d="M837.2,503 L852.1,493 L867.8,503 L852.1,471 Z"/></g>
<g fill="none" stroke="#000"><rect x="573.4" y="1496.5" width="439" height="303" stroke-width="8.8"/><line x1="460.5" y1="792" x2="574" y2="1497" stroke-width="5.6"/><line x1="1015" y1="1495.5" x2="1417.5" y2="790.3" stroke-width="8.5"/></g>
<g><line x1="614" y1="932.4" x2="768" y2="932.4" stroke="#037421" stroke-width="8.5" stroke-linecap="round"/><text transform="translate(786,956.8) scale(1,1.057)" style="font-size:68px">0s</text><line x1="614" y1="1016.8" x2="768" y2="1016.8" stroke="#8ea60e" stroke-width="8.5" stroke-linecap="round"/><text transform="translate(786,1041.2) scale(1,1.057)" style="font-size:68px">60s</text><line x1="614" y1="1101.1" x2="768" y2="1101.1" stroke="#dec400" stroke-width="8.5" stroke-linecap="round"/><text transform="translate(786,1125.5) scale(1,1.057)" style="font-size:68px">120s</text><line x1="614" y1="1185.5" x2="768" y2="1185.5" stroke="#fac000" stroke-width="8.5" stroke-linecap="round"/><text transform="translate(786,1209.9) scale(1,1.057)" style="font-size:68px">300s</text><line x1="614" y1="1269.8" x2="768" y2="1269.8" stroke="#fe9510" stroke-width="8.5" stroke-linecap="round"/><text transform="translate(786,1294.2) scale(1,1.057)" style="font-size:68px">600s</text><line x1="614" y1="1354.2" x2="768" y2="1354.2" stroke="#ff5320" stroke-width="8.5" stroke-linecap="round"/><text transform="translate(786,1378.6) scale(1,1.057)" style="font-size:68px">1200s</text><line x1="614" y1="1438.5" x2="768" y2="1438.5" stroke="#ff1024" stroke-width="8.5" stroke-linecap="round"/><text transform="translate(786,1462.9) scale(1,1.057)" style="font-size:68px">1800s</text></g>
</svg></body></html>
